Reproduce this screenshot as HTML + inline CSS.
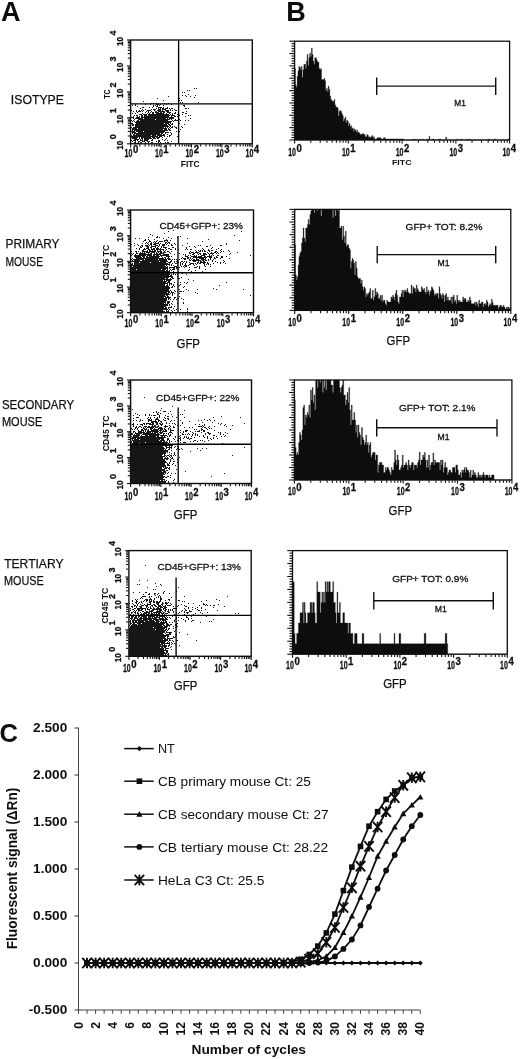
<!DOCTYPE html>
<html><head><meta charset="utf-8"><title>Figure</title>
<style>
html,body{margin:0;padding:0;background:#fff;}
body{width:520px;height:1059px;overflow:hidden;font-family:"Liberation Sans",sans-serif;}
svg{display:block;}
text{font-family:"Liberation Sans",sans-serif;}
</style></head><body>
<svg width="520" height="1059" viewBox="0 0 520 1059">
<defs><filter id="b" x="0" y="0" width="520" height="1059" filterUnits="userSpaceOnUse"><feGaussianBlur stdDeviation="0.35"/></filter></defs>
<rect x="0" y="0" width="520" height="1059" fill="#ffffff"/>
<g filter="url(#b)">
<path d="M194 88h1M196 88h1M187 90h1M189 90h1M182 92h1M184 92h1M188 94h1M182 95h1M185 95h1M195 95h1M168 96h1M186 96h1M190 96h1M194 97h1M157 98h1M179 98h1M178 99h1M163 100h1M178 100h2M181 100h1M143 101h1M180 102h1M182 102h1M198 102h1M151 103h1M153 103h1M156 103h1M164 103h1M168 103h1M135 104h1M145 104h1M150 104h1M156 104h3M160 104h1M166 104h1M171 104h1M132 105h1M135 105h1M153 105h1M155 105h1M157 105h1M159 105h1M163 105h1M183 105h2M137 106h1M153 106h1M156 106h2M184 106h1M142 107h2M149 107h1M152 107h1M158 107h4M163 107h1M167 107h1M140 108h1M156 108h1M158 108h1M160 108h1M162 108h2M165 108h3M169 108h1M171 108h2M185 108h2M188 108h1M142 109h1M145 109h1M151 109h1M153 109h3M158 109h3M162 109h4M170 109h1M174 109h1M131 110h1M136 110h1M139 110h1M141 110h1M143 110h1M147 110h4M154 110h1M157 110h4M162 110h1M165 110h4M170 110h1M172 110h1M175 110h2M133 111h1M136 111h1M138 111h3M142 111h1M146 111h1M148 111h1M151 111h1M155 111h2M158 111h7M166 111h3M186 111h1M137 112h1M145 112h1M148 112h1M150 112h1M152 112h2M155 112h4M160 112h2M163 112h2M167 112h4M175 112h1M182 112h2M132 113h1M135 113h1M142 113h1M147 113h1M149 113h1M152 113h2M156 113h8M166 113h1M169 113h1M172 113h1M174 113h2M185 113h2M139 114h3M143 114h4M148 114h21M170 114h1M172 114h1M177 114h1M182 114h1M134 115h1M136 115h2M141 115h2M144 115h3M148 115h22M171 115h4M179 115h1M188 115h1M190 115h1M133 116h1M137 116h1M139 116h1M141 116h2M144 116h25M171 116h1M174 116h2M177 116h1M185 116h1M131 117h3M136 117h4M141 117h33M133 118h1M135 118h8M144 118h22M167 118h1M169 118h5M178 118h1M190 118h1M134 119h1M138 119h17M156 119h14M171 119h1M175 119h1M178 119h2M131 120h1M133 120h1M137 120h2M140 120h28M172 120h1M174 120h4M180 120h1M185 120h1M188 120h1M132 121h1M134 121h1M136 121h36M173 121h1M135 122h36M131 123h2M136 123h28M165 123h4M170 123h1M172 123h1M179 123h1M132 124h2M135 124h32M168 124h2M171 124h2M184 124h1M132 125h2M135 125h33M169 125h2M135 126h34M170 126h1M172 126h1M174 126h1M181 126h1M131 127h1M133 127h31M165 127h1M167 127h1M169 127h1M171 127h2M175 127h2M182 127h1M132 128h5M138 128h29M168 128h1M170 128h1M176 128h1M132 129h31M164 129h3M168 129h2M180 129h1M132 130h1M134 130h34M169 130h2M131 131h4M136 131h7M144 131h21M176 131h1M179 131h1M132 132h4M138 132h26M165 132h4M170 132h1M132 133h1M134 133h26M161 133h2M165 133h1M171 133h1M133 134h2M136 134h26M163 134h2M167 134h1M171 134h1M131 135h1M133 135h18M152 135h4M157 135h8M169 135h2M131 136h27M159 136h3M164 136h1M167 136h1M169 136h1M177 136h1M131 137h7M139 137h1M141 137h10M152 137h3M156 137h4M162 137h1M132 138h5M139 138h1M141 138h2M144 138h8M153 138h3M157 138h2M166 138h1M134 139h5M140 139h1M142 139h1M144 139h5M152 139h1M162 139h1M165 139h1M131 140h1M133 140h3M137 140h1M140 140h3M144 140h4M151 140h2M158 140h2M164 140h1M167 140h1M132 141h1M135 141h1M138 141h2M142 141h3M147 141h3M156 141h1M158 141h2M171 141h1M134 142h2M138 142h1M140 142h2M145 142h1M148 142h1M151 142h2M158 142h1M160 142h1M165 142h1M167 142h2M132 143h1M135 143h4M144 143h1M163 143h1" stroke="#151515" stroke-width="1" fill="none" transform="translate(0,0.5)" shape-rendering="crispEdges"/>
<rect x="130.6" y="40" width="121.70" height="103.80" fill="none" stroke="#111" stroke-width="1.4"/>
<line x1="130.60" y1="103.80" x2="252.30" y2="103.80" stroke="#000" stroke-width="1.35"/>
<line x1="178.60" y1="40.00" x2="178.60" y2="143.80" stroke="#000" stroke-width="1.35"/>
<line x1="130.60" y1="144.30" x2="130.60" y2="147.40" stroke="#111" stroke-width="1.1"/>
<line x1="139.76" y1="144.30" x2="139.76" y2="146.60" stroke="#111" stroke-width="1.1"/>
<line x1="145.12" y1="144.30" x2="145.12" y2="146.60" stroke="#111" stroke-width="1.1"/>
<line x1="148.92" y1="144.30" x2="148.92" y2="146.60" stroke="#111" stroke-width="1.1"/>
<line x1="151.87" y1="144.30" x2="151.87" y2="146.60" stroke="#111" stroke-width="1.1"/>
<line x1="154.28" y1="144.30" x2="154.28" y2="146.60" stroke="#111" stroke-width="1.1"/>
<line x1="156.31" y1="144.30" x2="156.31" y2="146.60" stroke="#111" stroke-width="1.1"/>
<line x1="158.08" y1="144.30" x2="158.08" y2="146.60" stroke="#111" stroke-width="1.1"/>
<line x1="159.63" y1="144.30" x2="159.63" y2="146.60" stroke="#111" stroke-width="1.1"/>
<line x1="161.03" y1="144.30" x2="161.03" y2="147.40" stroke="#111" stroke-width="1.1"/>
<line x1="170.18" y1="144.30" x2="170.18" y2="146.60" stroke="#111" stroke-width="1.1"/>
<line x1="175.54" y1="144.30" x2="175.54" y2="146.60" stroke="#111" stroke-width="1.1"/>
<line x1="179.34" y1="144.30" x2="179.34" y2="146.60" stroke="#111" stroke-width="1.1"/>
<line x1="182.29" y1="144.30" x2="182.29" y2="146.60" stroke="#111" stroke-width="1.1"/>
<line x1="184.70" y1="144.30" x2="184.70" y2="146.60" stroke="#111" stroke-width="1.1"/>
<line x1="186.74" y1="144.30" x2="186.74" y2="146.60" stroke="#111" stroke-width="1.1"/>
<line x1="188.50" y1="144.30" x2="188.50" y2="146.60" stroke="#111" stroke-width="1.1"/>
<line x1="190.06" y1="144.30" x2="190.06" y2="146.60" stroke="#111" stroke-width="1.1"/>
<line x1="191.45" y1="144.30" x2="191.45" y2="147.40" stroke="#111" stroke-width="1.1"/>
<line x1="200.61" y1="144.30" x2="200.61" y2="146.60" stroke="#111" stroke-width="1.1"/>
<line x1="205.97" y1="144.30" x2="205.97" y2="146.60" stroke="#111" stroke-width="1.1"/>
<line x1="209.77" y1="144.30" x2="209.77" y2="146.60" stroke="#111" stroke-width="1.1"/>
<line x1="212.72" y1="144.30" x2="212.72" y2="146.60" stroke="#111" stroke-width="1.1"/>
<line x1="215.13" y1="144.30" x2="215.13" y2="146.60" stroke="#111" stroke-width="1.1"/>
<line x1="217.16" y1="144.30" x2="217.16" y2="146.60" stroke="#111" stroke-width="1.1"/>
<line x1="218.93" y1="144.30" x2="218.93" y2="146.60" stroke="#111" stroke-width="1.1"/>
<line x1="220.48" y1="144.30" x2="220.48" y2="146.60" stroke="#111" stroke-width="1.1"/>
<line x1="221.88" y1="144.30" x2="221.88" y2="147.40" stroke="#111" stroke-width="1.1"/>
<line x1="231.03" y1="144.30" x2="231.03" y2="146.60" stroke="#111" stroke-width="1.1"/>
<line x1="236.39" y1="144.30" x2="236.39" y2="146.60" stroke="#111" stroke-width="1.1"/>
<line x1="240.19" y1="144.30" x2="240.19" y2="146.60" stroke="#111" stroke-width="1.1"/>
<line x1="243.14" y1="144.30" x2="243.14" y2="146.60" stroke="#111" stroke-width="1.1"/>
<line x1="245.55" y1="144.30" x2="245.55" y2="146.60" stroke="#111" stroke-width="1.1"/>
<line x1="247.59" y1="144.30" x2="247.59" y2="146.60" stroke="#111" stroke-width="1.1"/>
<line x1="249.35" y1="144.30" x2="249.35" y2="146.60" stroke="#111" stroke-width="1.1"/>
<line x1="250.91" y1="144.30" x2="250.91" y2="146.60" stroke="#111" stroke-width="1.1"/>
<line x1="252.30" y1="144.30" x2="252.30" y2="147.40" stroke="#111" stroke-width="1.1"/>
<line x1="127.00" y1="143.80" x2="130.10" y2="143.80" stroke="#111" stroke-width="1.1"/>
<line x1="127.80" y1="135.99" x2="130.10" y2="135.99" stroke="#111" stroke-width="1.1"/>
<line x1="127.80" y1="131.42" x2="130.10" y2="131.42" stroke="#111" stroke-width="1.1"/>
<line x1="127.80" y1="128.18" x2="130.10" y2="128.18" stroke="#111" stroke-width="1.1"/>
<line x1="127.80" y1="125.66" x2="130.10" y2="125.66" stroke="#111" stroke-width="1.1"/>
<line x1="127.80" y1="123.61" x2="130.10" y2="123.61" stroke="#111" stroke-width="1.1"/>
<line x1="127.80" y1="121.87" x2="130.10" y2="121.87" stroke="#111" stroke-width="1.1"/>
<line x1="127.80" y1="120.36" x2="130.10" y2="120.36" stroke="#111" stroke-width="1.1"/>
<line x1="127.80" y1="119.04" x2="130.10" y2="119.04" stroke="#111" stroke-width="1.1"/>
<line x1="127.00" y1="117.85" x2="130.10" y2="117.85" stroke="#111" stroke-width="1.1"/>
<line x1="127.80" y1="110.04" x2="130.10" y2="110.04" stroke="#111" stroke-width="1.1"/>
<line x1="127.80" y1="105.47" x2="130.10" y2="105.47" stroke="#111" stroke-width="1.1"/>
<line x1="127.80" y1="102.23" x2="130.10" y2="102.23" stroke="#111" stroke-width="1.1"/>
<line x1="127.80" y1="99.71" x2="130.10" y2="99.71" stroke="#111" stroke-width="1.1"/>
<line x1="127.80" y1="97.66" x2="130.10" y2="97.66" stroke="#111" stroke-width="1.1"/>
<line x1="127.80" y1="95.92" x2="130.10" y2="95.92" stroke="#111" stroke-width="1.1"/>
<line x1="127.80" y1="94.41" x2="130.10" y2="94.41" stroke="#111" stroke-width="1.1"/>
<line x1="127.80" y1="93.09" x2="130.10" y2="93.09" stroke="#111" stroke-width="1.1"/>
<line x1="127.00" y1="91.90" x2="130.10" y2="91.90" stroke="#111" stroke-width="1.1"/>
<line x1="127.80" y1="84.09" x2="130.10" y2="84.09" stroke="#111" stroke-width="1.1"/>
<line x1="127.80" y1="79.52" x2="130.10" y2="79.52" stroke="#111" stroke-width="1.1"/>
<line x1="127.80" y1="76.28" x2="130.10" y2="76.28" stroke="#111" stroke-width="1.1"/>
<line x1="127.80" y1="73.76" x2="130.10" y2="73.76" stroke="#111" stroke-width="1.1"/>
<line x1="127.80" y1="71.71" x2="130.10" y2="71.71" stroke="#111" stroke-width="1.1"/>
<line x1="127.80" y1="69.97" x2="130.10" y2="69.97" stroke="#111" stroke-width="1.1"/>
<line x1="127.80" y1="68.46" x2="130.10" y2="68.46" stroke="#111" stroke-width="1.1"/>
<line x1="127.80" y1="67.14" x2="130.10" y2="67.14" stroke="#111" stroke-width="1.1"/>
<line x1="127.00" y1="65.95" x2="130.10" y2="65.95" stroke="#111" stroke-width="1.1"/>
<line x1="127.80" y1="58.14" x2="130.10" y2="58.14" stroke="#111" stroke-width="1.1"/>
<line x1="127.80" y1="53.57" x2="130.10" y2="53.57" stroke="#111" stroke-width="1.1"/>
<line x1="127.80" y1="50.33" x2="130.10" y2="50.33" stroke="#111" stroke-width="1.1"/>
<line x1="127.80" y1="47.81" x2="130.10" y2="47.81" stroke="#111" stroke-width="1.1"/>
<line x1="127.80" y1="45.76" x2="130.10" y2="45.76" stroke="#111" stroke-width="1.1"/>
<line x1="127.80" y1="44.02" x2="130.10" y2="44.02" stroke="#111" stroke-width="1.1"/>
<line x1="127.80" y1="42.51" x2="130.10" y2="42.51" stroke="#111" stroke-width="1.1"/>
<line x1="127.80" y1="41.19" x2="130.10" y2="41.19" stroke="#111" stroke-width="1.1"/>
<line x1="127.00" y1="40.00" x2="130.10" y2="40.00" stroke="#111" stroke-width="1.1"/>
<text x="124.60" y="157.40" font-size="10.6" font-weight="bold" text-anchor="start" fill="#111" textLength="7.80" lengthAdjust="spacingAndGlyphs" stroke="#111" stroke-width="0.3">10</text>
<text x="132.90" y="153.40" font-size="10.0" font-weight="bold" text-anchor="start" fill="#111" textLength="5.30" lengthAdjust="spacingAndGlyphs" stroke="#111" stroke-width="0.3">0</text>
<text x="155.03" y="157.40" font-size="10.6" font-weight="bold" text-anchor="start" fill="#111" textLength="7.80" lengthAdjust="spacingAndGlyphs" stroke="#111" stroke-width="0.3">10</text>
<text x="163.33" y="153.40" font-size="10.0" font-weight="bold" text-anchor="start" fill="#111" textLength="5.30" lengthAdjust="spacingAndGlyphs" stroke="#111" stroke-width="0.3">1</text>
<text x="185.45" y="157.40" font-size="10.6" font-weight="bold" text-anchor="start" fill="#111" textLength="7.80" lengthAdjust="spacingAndGlyphs" stroke="#111" stroke-width="0.3">10</text>
<text x="193.75" y="153.40" font-size="10.0" font-weight="bold" text-anchor="start" fill="#111" textLength="5.30" lengthAdjust="spacingAndGlyphs" stroke="#111" stroke-width="0.3">2</text>
<text x="215.88" y="157.40" font-size="10.6" font-weight="bold" text-anchor="start" fill="#111" textLength="7.80" lengthAdjust="spacingAndGlyphs" stroke="#111" stroke-width="0.3">10</text>
<text x="224.18" y="153.40" font-size="10.0" font-weight="bold" text-anchor="start" fill="#111" textLength="5.30" lengthAdjust="spacingAndGlyphs" stroke="#111" stroke-width="0.3">3</text>
<text x="245.50" y="157.40" font-size="10.6" font-weight="bold" text-anchor="start" fill="#111" textLength="7.80" lengthAdjust="spacingAndGlyphs" stroke="#111" stroke-width="0.3">10</text>
<text x="253.80" y="153.40" font-size="10.0" font-weight="bold" text-anchor="start" fill="#111" textLength="5.30" lengthAdjust="spacingAndGlyphs" stroke="#111" stroke-width="0.3">4</text>
<text x="123.10" y="149.80" transform="rotate(-90 123.10 149.80)" font-size="9.8" font-weight="bold" text-anchor="start" fill="#111" textLength="9.20" lengthAdjust="spacingAndGlyphs" stroke="#111" stroke-width="0.3">10</text>
<text x="116.40" y="139.30" transform="rotate(-90 116.40 139.30)" font-size="9.4" font-weight="bold" text-anchor="start" fill="#111" textLength="5.00" lengthAdjust="spacingAndGlyphs" stroke="#111" stroke-width="0.3">0</text>
<text x="123.10" y="123.85" transform="rotate(-90 123.10 123.85)" font-size="9.8" font-weight="bold" text-anchor="start" fill="#111" textLength="9.20" lengthAdjust="spacingAndGlyphs" stroke="#111" stroke-width="0.3">10</text>
<text x="116.40" y="113.35" transform="rotate(-90 116.40 113.35)" font-size="9.4" font-weight="bold" text-anchor="start" fill="#111" textLength="5.00" lengthAdjust="spacingAndGlyphs" stroke="#111" stroke-width="0.3">1</text>
<text x="123.10" y="97.90" transform="rotate(-90 123.10 97.90)" font-size="9.8" font-weight="bold" text-anchor="start" fill="#111" textLength="9.20" lengthAdjust="spacingAndGlyphs" stroke="#111" stroke-width="0.3">10</text>
<text x="116.40" y="87.40" transform="rotate(-90 116.40 87.40)" font-size="9.4" font-weight="bold" text-anchor="start" fill="#111" textLength="5.00" lengthAdjust="spacingAndGlyphs" stroke="#111" stroke-width="0.3">2</text>
<text x="123.10" y="71.95" transform="rotate(-90 123.10 71.95)" font-size="9.8" font-weight="bold" text-anchor="start" fill="#111" textLength="9.20" lengthAdjust="spacingAndGlyphs" stroke="#111" stroke-width="0.3">10</text>
<text x="116.40" y="61.45" transform="rotate(-90 116.40 61.45)" font-size="9.4" font-weight="bold" text-anchor="start" fill="#111" textLength="5.00" lengthAdjust="spacingAndGlyphs" stroke="#111" stroke-width="0.3">3</text>
<text x="123.10" y="46.00" transform="rotate(-90 123.10 46.00)" font-size="9.8" font-weight="bold" text-anchor="start" fill="#111" textLength="9.20" lengthAdjust="spacingAndGlyphs" stroke="#111" stroke-width="0.3">10</text>
<text x="116.40" y="35.50" transform="rotate(-90 116.40 35.50)" font-size="9.4" font-weight="bold" text-anchor="start" fill="#111" textLength="5.00" lengthAdjust="spacingAndGlyphs" stroke="#111" stroke-width="0.3">4</text>
<path d="M173 230h1M168 231h1M241 231h1M164 233h1M150 234h1M152 235h1M234 235h1M157 236h1M180 236h1M148 237h1M156 237h2M159 237h1M168 237h1M177 237h1M135 238h1M139 238h1M163 238h1M171 238h1M187 238h1M145 239h1M148 239h1M154 239h1M166 239h1M208 239h1M144 240h2M149 240h1M157 240h1M164 240h4M170 240h1M239 240h1M143 241h1M149 241h2M154 241h1M156 241h1M159 241h4M164 241h1M167 241h1M202 241h1M146 242h1M148 242h1M151 242h1M153 242h1M155 242h1M158 242h1M165 242h2M168 242h2M134 243h1M142 243h1M145 243h1M147 243h1M150 243h2M154 243h5M160 243h1M165 243h1M167 243h1M169 243h1M174 243h1M187 243h1M226 243h1M131 244h1M137 244h1M148 244h1M150 244h2M153 244h3M159 244h1M162 244h3M166 244h1M171 244h1M175 244h1M226 244h1M134 245h1M138 245h1M141 245h2M145 245h3M149 245h1M151 245h1M155 245h3M159 245h1M162 245h3M168 245h1M171 245h2M182 245h1M198 245h1M200 245h1M210 245h1M220 245h2M140 246h1M142 246h1M146 246h3M151 246h5M158 246h1M161 246h1M163 246h1M189 246h1M194 246h1M206 246h2M140 247h2M147 247h2M150 247h2M155 247h1M157 247h1M161 247h1M163 247h4M172 247h2M186 247h1M195 247h1M212 247h1M136 248h1M139 248h1M144 248h1M146 248h3M151 248h1M153 248h2M156 248h3M160 248h1M165 248h1M168 248h2M175 248h1M186 248h1M202 248h1M211 248h1M218 248h1M139 249h1M143 249h3M148 249h2M151 249h4M156 249h8M166 249h1M170 249h2M175 249h1M178 249h1M185 249h1M187 249h1M190 249h2M203 249h1M208 249h1M216 249h1M221 249h1M142 250h2M147 250h1M149 250h2M152 250h1M154 250h2M157 250h1M160 250h1M163 250h1M165 250h1M195 250h1M198 250h1M200 250h1M202 250h1M204 250h1M208 250h2M211 250h2M220 250h1M228 250h1M131 251h1M135 251h2M138 251h1M142 251h6M149 251h7M157 251h5M164 251h1M167 251h2M171 251h1M190 251h1M196 251h1M199 251h2M202 251h1M204 251h2M209 251h1M215 251h2M221 251h1M223 251h1M229 251h1M136 252h1M140 252h1M142 252h1M144 252h1M146 252h4M151 252h4M156 252h1M158 252h1M160 252h2M163 252h3M169 252h1M189 252h1M191 252h3M195 252h4M207 252h1M211 252h1M214 252h2M217 252h1M220 252h1M237 252h1M131 253h1M133 253h1M136 253h2M139 253h7M148 253h1M150 253h2M154 253h1M156 253h2M159 253h5M170 253h1M179 253h1M189 253h2M193 253h2M197 253h1M199 253h2M203 253h3M208 253h1M210 253h4M216 253h1M218 253h1M230 253h1M132 254h1M135 254h1M139 254h13M153 254h8M163 254h6M174 254h1M183 254h1M185 254h1M192 254h2M198 254h1M200 254h1M203 254h4M209 254h1M212 254h1M229 254h1M131 255h1M134 255h12M147 255h5M153 255h2M156 255h3M160 255h9M185 255h1M188 255h1M190 255h1M194 255h1M196 255h1M201 255h4M209 255h1M211 255h1M213 255h1M217 255h2M250 255h1M134 256h7M142 256h3M146 256h2M149 256h11M161 256h1M166 256h4M171 256h1M185 256h3M191 256h6M198 256h4M204 256h2M207 256h5M216 256h1M221 256h2M226 256h1M135 257h7M143 257h2M146 257h13M162 257h1M164 257h2M168 257h1M182 257h1M187 257h2M190 257h1M193 257h14M209 257h3M214 257h1M216 257h2M221 257h2M132 258h1M136 258h28M165 258h1M167 258h3M181 258h1M183 258h3M187 258h2M190 258h1M192 258h1M196 258h1M199 258h5M205 258h1M210 258h1M214 258h2M220 258h1M229 258h1M131 259h1M133 259h11M145 259h13M159 259h8M168 259h3M172 259h1M174 259h1M176 259h1M179 259h1M184 259h2M189 259h1M191 259h1M193 259h2M196 259h3M201 259h5M208 259h1M210 259h1M213 259h1M132 260h1M134 260h6M142 260h25M171 260h1M177 260h1M189 260h2M192 260h9M202 260h2M205 260h2M208 260h1M212 260h1M223 260h1M131 261h28M160 261h8M170 261h2M174 261h1M176 261h2M181 261h2M184 261h1M186 261h1M193 261h3M198 261h1M200 261h2M203 261h2M212 261h1M215 261h1M224 261h1M134 262h5M140 262h10M151 262h15M168 262h3M174 262h1M177 262h2M180 262h1M183 262h1M186 262h1M189 262h1M197 262h2M200 262h6M207 262h1M217 262h1M220 262h1M223 262h1M132 263h1M134 263h34M169 263h1M172 263h1M175 263h2M180 263h1M182 263h1M185 263h1M190 263h4M195 263h1M197 263h1M199 263h2M203 263h2M207 263h2M213 263h1M220 263h1M225 263h1M131 264h2M134 264h36M171 264h1M180 264h1M182 264h1M185 264h1M189 264h2M193 264h1M196 264h1M204 264h1M206 264h1M208 264h1M210 264h1M131 265h34M166 265h1M169 265h1M171 265h1M173 265h1M177 265h1M180 265h1M184 265h3M188 265h1M194 265h1M204 265h1M131 266h1M133 266h33M167 266h1M174 266h3M181 266h1M183 266h1M185 266h2M197 266h1M199 266h1M205 266h1M210 266h1M131 267h37M169 267h6M176 267h2M179 267h1M184 267h1M189 267h1M194 267h3M199 267h1M131 268h37M169 268h1M173 268h2M176 268h1M178 268h1M199 268h1M131 269h5M137 269h24M162 269h4M167 269h1M170 269h1M172 269h3M177 269h1M189 269h1M205 269h1M131 270h34M166 270h2M169 270h1M171 270h1M188 270h1M195 270h1M131 271h39M173 271h1M191 271h1M202 271h1M131 272h37M169 272h1M172 272h1M176 272h1M179 272h1M131 273h39M173 273h1M182 273h1M131 274h39M171 274h1M173 274h1M175 274h1M177 274h1M186 274h1M131 275h38M170 275h2M131 276h42M177 276h1M131 277h38M171 277h2M181 277h1M131 278h34M166 278h2M170 278h1M172 278h2M178 278h2M131 279h41M188 279h1M131 280h32M164 280h1M166 280h5M193 280h1M131 281h36M168 281h2M131 282h35M167 282h3M174 282h1M180 282h1M184 282h1M187 282h1M226 282h1M131 283h37M169 283h3M186 283h1M131 284h34M167 284h1M169 284h1M171 284h1M173 284h1M177 284h1M180 284h1M131 285h34M166 285h2M169 285h1M173 285h1M179 285h1M219 285h1M131 286h38M172 286h1M174 286h1M178 286h1M184 286h1M131 287h39M171 287h2M183 287h1M131 288h39M213 288h1M131 289h38M179 289h1M186 289h1M197 289h1M216 289h1M243 289h1M131 290h38M170 290h1M174 290h1M188 290h1M131 291h39M171 291h1M175 291h1M179 291h3M183 291h1M131 292h36M168 292h2M171 292h3M195 292h1M131 293h38M170 293h1M172 293h1M174 293h1M179 293h1M197 293h1M131 294h39M172 294h1M131 295h34M166 295h2M172 295h1M250 295h1M131 296h35M167 296h2M179 296h1M131 297h33M165 297h6M174 297h2M131 298h36M168 298h2M174 298h1M178 298h1M181 298h1M131 299h36M168 299h1M170 299h1M173 299h1M176 299h1M183 299h1M131 300h36M131 301h35M167 301h3M172 301h1M131 302h35M167 302h3M183 302h1M131 303h33M165 303h1M167 303h2M171 303h1M177 303h1M183 303h1M131 304h37M169 304h1M172 304h1M131 305h37M169 305h1M131 306h35M171 306h1M174 306h1M131 307h33M165 307h2M168 307h4M131 308h36M168 308h1M173 308h1M187 308h1M131 309h37M169 309h1M176 309h1M180 309h1M187 309h1M131 310h32M166 310h1M168 310h1M171 310h1M174 310h1M131 311h34M166 311h3M172 311h1M187 311h1M131 312h35M168 312h2M172 312h1" stroke="#151515" stroke-width="1" fill="none" transform="translate(0,0.5)" shape-rendering="crispEdges"/>
<rect x="130.6" y="210" width="122.90" height="102.70" fill="none" stroke="#111" stroke-width="1.4"/>
<line x1="130.60" y1="272.70" x2="253.50" y2="272.70" stroke="#000" stroke-width="1.35"/>
<line x1="178.00" y1="236.00" x2="178.00" y2="312.70" stroke="#000" stroke-width="1.35"/>
<line x1="130.60" y1="313.20" x2="130.60" y2="316.30" stroke="#111" stroke-width="1.1"/>
<line x1="139.85" y1="313.20" x2="139.85" y2="315.50" stroke="#111" stroke-width="1.1"/>
<line x1="145.26" y1="313.20" x2="145.26" y2="315.50" stroke="#111" stroke-width="1.1"/>
<line x1="149.10" y1="313.20" x2="149.10" y2="315.50" stroke="#111" stroke-width="1.1"/>
<line x1="152.08" y1="313.20" x2="152.08" y2="315.50" stroke="#111" stroke-width="1.1"/>
<line x1="154.51" y1="313.20" x2="154.51" y2="315.50" stroke="#111" stroke-width="1.1"/>
<line x1="156.57" y1="313.20" x2="156.57" y2="315.50" stroke="#111" stroke-width="1.1"/>
<line x1="158.35" y1="313.20" x2="158.35" y2="315.50" stroke="#111" stroke-width="1.1"/>
<line x1="159.92" y1="313.20" x2="159.92" y2="315.50" stroke="#111" stroke-width="1.1"/>
<line x1="161.32" y1="313.20" x2="161.32" y2="316.30" stroke="#111" stroke-width="1.1"/>
<line x1="170.57" y1="313.20" x2="170.57" y2="315.50" stroke="#111" stroke-width="1.1"/>
<line x1="175.98" y1="313.20" x2="175.98" y2="315.50" stroke="#111" stroke-width="1.1"/>
<line x1="179.82" y1="313.20" x2="179.82" y2="315.50" stroke="#111" stroke-width="1.1"/>
<line x1="182.80" y1="313.20" x2="182.80" y2="315.50" stroke="#111" stroke-width="1.1"/>
<line x1="185.23" y1="313.20" x2="185.23" y2="315.50" stroke="#111" stroke-width="1.1"/>
<line x1="187.29" y1="313.20" x2="187.29" y2="315.50" stroke="#111" stroke-width="1.1"/>
<line x1="189.07" y1="313.20" x2="189.07" y2="315.50" stroke="#111" stroke-width="1.1"/>
<line x1="190.64" y1="313.20" x2="190.64" y2="315.50" stroke="#111" stroke-width="1.1"/>
<line x1="192.05" y1="313.20" x2="192.05" y2="316.30" stroke="#111" stroke-width="1.1"/>
<line x1="201.30" y1="313.20" x2="201.30" y2="315.50" stroke="#111" stroke-width="1.1"/>
<line x1="206.71" y1="313.20" x2="206.71" y2="315.50" stroke="#111" stroke-width="1.1"/>
<line x1="210.55" y1="313.20" x2="210.55" y2="315.50" stroke="#111" stroke-width="1.1"/>
<line x1="213.53" y1="313.20" x2="213.53" y2="315.50" stroke="#111" stroke-width="1.1"/>
<line x1="215.96" y1="313.20" x2="215.96" y2="315.50" stroke="#111" stroke-width="1.1"/>
<line x1="218.02" y1="313.20" x2="218.02" y2="315.50" stroke="#111" stroke-width="1.1"/>
<line x1="219.80" y1="313.20" x2="219.80" y2="315.50" stroke="#111" stroke-width="1.1"/>
<line x1="221.37" y1="313.20" x2="221.37" y2="315.50" stroke="#111" stroke-width="1.1"/>
<line x1="222.78" y1="313.20" x2="222.78" y2="316.30" stroke="#111" stroke-width="1.1"/>
<line x1="232.02" y1="313.20" x2="232.02" y2="315.50" stroke="#111" stroke-width="1.1"/>
<line x1="237.43" y1="313.20" x2="237.43" y2="315.50" stroke="#111" stroke-width="1.1"/>
<line x1="241.27" y1="313.20" x2="241.27" y2="315.50" stroke="#111" stroke-width="1.1"/>
<line x1="244.25" y1="313.20" x2="244.25" y2="315.50" stroke="#111" stroke-width="1.1"/>
<line x1="246.68" y1="313.20" x2="246.68" y2="315.50" stroke="#111" stroke-width="1.1"/>
<line x1="248.74" y1="313.20" x2="248.74" y2="315.50" stroke="#111" stroke-width="1.1"/>
<line x1="250.52" y1="313.20" x2="250.52" y2="315.50" stroke="#111" stroke-width="1.1"/>
<line x1="252.09" y1="313.20" x2="252.09" y2="315.50" stroke="#111" stroke-width="1.1"/>
<line x1="253.50" y1="313.20" x2="253.50" y2="316.30" stroke="#111" stroke-width="1.1"/>
<line x1="127.00" y1="312.70" x2="130.10" y2="312.70" stroke="#111" stroke-width="1.1"/>
<line x1="127.80" y1="304.97" x2="130.10" y2="304.97" stroke="#111" stroke-width="1.1"/>
<line x1="127.80" y1="300.45" x2="130.10" y2="300.45" stroke="#111" stroke-width="1.1"/>
<line x1="127.80" y1="297.24" x2="130.10" y2="297.24" stroke="#111" stroke-width="1.1"/>
<line x1="127.80" y1="294.75" x2="130.10" y2="294.75" stroke="#111" stroke-width="1.1"/>
<line x1="127.80" y1="292.72" x2="130.10" y2="292.72" stroke="#111" stroke-width="1.1"/>
<line x1="127.80" y1="291.00" x2="130.10" y2="291.00" stroke="#111" stroke-width="1.1"/>
<line x1="127.80" y1="289.51" x2="130.10" y2="289.51" stroke="#111" stroke-width="1.1"/>
<line x1="127.80" y1="288.20" x2="130.10" y2="288.20" stroke="#111" stroke-width="1.1"/>
<line x1="127.00" y1="287.02" x2="130.10" y2="287.02" stroke="#111" stroke-width="1.1"/>
<line x1="127.80" y1="279.30" x2="130.10" y2="279.30" stroke="#111" stroke-width="1.1"/>
<line x1="127.80" y1="274.77" x2="130.10" y2="274.77" stroke="#111" stroke-width="1.1"/>
<line x1="127.80" y1="271.57" x2="130.10" y2="271.57" stroke="#111" stroke-width="1.1"/>
<line x1="127.80" y1="269.08" x2="130.10" y2="269.08" stroke="#111" stroke-width="1.1"/>
<line x1="127.80" y1="267.05" x2="130.10" y2="267.05" stroke="#111" stroke-width="1.1"/>
<line x1="127.80" y1="265.33" x2="130.10" y2="265.33" stroke="#111" stroke-width="1.1"/>
<line x1="127.80" y1="263.84" x2="130.10" y2="263.84" stroke="#111" stroke-width="1.1"/>
<line x1="127.80" y1="262.52" x2="130.10" y2="262.52" stroke="#111" stroke-width="1.1"/>
<line x1="127.00" y1="261.35" x2="130.10" y2="261.35" stroke="#111" stroke-width="1.1"/>
<line x1="127.80" y1="253.62" x2="130.10" y2="253.62" stroke="#111" stroke-width="1.1"/>
<line x1="127.80" y1="249.10" x2="130.10" y2="249.10" stroke="#111" stroke-width="1.1"/>
<line x1="127.80" y1="245.89" x2="130.10" y2="245.89" stroke="#111" stroke-width="1.1"/>
<line x1="127.80" y1="243.40" x2="130.10" y2="243.40" stroke="#111" stroke-width="1.1"/>
<line x1="127.80" y1="241.37" x2="130.10" y2="241.37" stroke="#111" stroke-width="1.1"/>
<line x1="127.80" y1="239.65" x2="130.10" y2="239.65" stroke="#111" stroke-width="1.1"/>
<line x1="127.80" y1="238.16" x2="130.10" y2="238.16" stroke="#111" stroke-width="1.1"/>
<line x1="127.80" y1="236.85" x2="130.10" y2="236.85" stroke="#111" stroke-width="1.1"/>
<line x1="127.00" y1="235.68" x2="130.10" y2="235.68" stroke="#111" stroke-width="1.1"/>
<line x1="127.80" y1="227.95" x2="130.10" y2="227.95" stroke="#111" stroke-width="1.1"/>
<line x1="127.80" y1="223.42" x2="130.10" y2="223.42" stroke="#111" stroke-width="1.1"/>
<line x1="127.80" y1="220.22" x2="130.10" y2="220.22" stroke="#111" stroke-width="1.1"/>
<line x1="127.80" y1="217.73" x2="130.10" y2="217.73" stroke="#111" stroke-width="1.1"/>
<line x1="127.80" y1="215.70" x2="130.10" y2="215.70" stroke="#111" stroke-width="1.1"/>
<line x1="127.80" y1="213.98" x2="130.10" y2="213.98" stroke="#111" stroke-width="1.1"/>
<line x1="127.80" y1="212.49" x2="130.10" y2="212.49" stroke="#111" stroke-width="1.1"/>
<line x1="127.80" y1="211.17" x2="130.10" y2="211.17" stroke="#111" stroke-width="1.1"/>
<line x1="127.00" y1="210.00" x2="130.10" y2="210.00" stroke="#111" stroke-width="1.1"/>
<text x="124.60" y="327.30" font-size="10.6" font-weight="bold" text-anchor="start" fill="#111" textLength="7.80" lengthAdjust="spacingAndGlyphs" stroke="#111" stroke-width="0.3">10</text>
<text x="132.90" y="323.30" font-size="10.0" font-weight="bold" text-anchor="start" fill="#111" textLength="5.30" lengthAdjust="spacingAndGlyphs" stroke="#111" stroke-width="0.3">0</text>
<text x="155.32" y="327.30" font-size="10.6" font-weight="bold" text-anchor="start" fill="#111" textLength="7.80" lengthAdjust="spacingAndGlyphs" stroke="#111" stroke-width="0.3">10</text>
<text x="163.62" y="323.30" font-size="10.0" font-weight="bold" text-anchor="start" fill="#111" textLength="5.30" lengthAdjust="spacingAndGlyphs" stroke="#111" stroke-width="0.3">1</text>
<text x="186.05" y="327.30" font-size="10.6" font-weight="bold" text-anchor="start" fill="#111" textLength="7.80" lengthAdjust="spacingAndGlyphs" stroke="#111" stroke-width="0.3">10</text>
<text x="194.35" y="323.30" font-size="10.0" font-weight="bold" text-anchor="start" fill="#111" textLength="5.30" lengthAdjust="spacingAndGlyphs" stroke="#111" stroke-width="0.3">2</text>
<text x="216.78" y="327.30" font-size="10.6" font-weight="bold" text-anchor="start" fill="#111" textLength="7.80" lengthAdjust="spacingAndGlyphs" stroke="#111" stroke-width="0.3">10</text>
<text x="225.08" y="323.30" font-size="10.0" font-weight="bold" text-anchor="start" fill="#111" textLength="5.30" lengthAdjust="spacingAndGlyphs" stroke="#111" stroke-width="0.3">3</text>
<text x="246.70" y="327.30" font-size="10.6" font-weight="bold" text-anchor="start" fill="#111" textLength="7.80" lengthAdjust="spacingAndGlyphs" stroke="#111" stroke-width="0.3">10</text>
<text x="255.00" y="323.30" font-size="10.0" font-weight="bold" text-anchor="start" fill="#111" textLength="5.30" lengthAdjust="spacingAndGlyphs" stroke="#111" stroke-width="0.3">4</text>
<text x="123.10" y="318.70" transform="rotate(-90 123.10 318.70)" font-size="9.8" font-weight="bold" text-anchor="start" fill="#111" textLength="9.20" lengthAdjust="spacingAndGlyphs" stroke="#111" stroke-width="0.3">10</text>
<text x="116.40" y="308.20" transform="rotate(-90 116.40 308.20)" font-size="9.4" font-weight="bold" text-anchor="start" fill="#111" textLength="5.00" lengthAdjust="spacingAndGlyphs" stroke="#111" stroke-width="0.3">0</text>
<text x="123.10" y="293.02" transform="rotate(-90 123.10 293.02)" font-size="9.8" font-weight="bold" text-anchor="start" fill="#111" textLength="9.20" lengthAdjust="spacingAndGlyphs" stroke="#111" stroke-width="0.3">10</text>
<text x="116.40" y="282.52" transform="rotate(-90 116.40 282.52)" font-size="9.4" font-weight="bold" text-anchor="start" fill="#111" textLength="5.00" lengthAdjust="spacingAndGlyphs" stroke="#111" stroke-width="0.3">1</text>
<text x="123.10" y="267.35" transform="rotate(-90 123.10 267.35)" font-size="9.8" font-weight="bold" text-anchor="start" fill="#111" textLength="9.20" lengthAdjust="spacingAndGlyphs" stroke="#111" stroke-width="0.3">10</text>
<text x="116.40" y="256.85" transform="rotate(-90 116.40 256.85)" font-size="9.4" font-weight="bold" text-anchor="start" fill="#111" textLength="5.00" lengthAdjust="spacingAndGlyphs" stroke="#111" stroke-width="0.3">2</text>
<text x="123.10" y="241.68" transform="rotate(-90 123.10 241.68)" font-size="9.8" font-weight="bold" text-anchor="start" fill="#111" textLength="9.20" lengthAdjust="spacingAndGlyphs" stroke="#111" stroke-width="0.3">10</text>
<text x="116.40" y="231.18" transform="rotate(-90 116.40 231.18)" font-size="9.4" font-weight="bold" text-anchor="start" fill="#111" textLength="5.00" lengthAdjust="spacingAndGlyphs" stroke="#111" stroke-width="0.3">3</text>
<text x="123.10" y="216.00" transform="rotate(-90 123.10 216.00)" font-size="9.8" font-weight="bold" text-anchor="start" fill="#111" textLength="9.20" lengthAdjust="spacingAndGlyphs" stroke="#111" stroke-width="0.3">10</text>
<text x="116.40" y="205.50" transform="rotate(-90 116.40 205.50)" font-size="9.4" font-weight="bold" text-anchor="start" fill="#111" textLength="5.00" lengthAdjust="spacingAndGlyphs" stroke="#111" stroke-width="0.3">4</text>
<path d="M144 397h1M172 406h1M161 408h1M132 409h1M160 410h1M184 410h1M156 411h1M163 411h3M170 411h1M153 412h1M156 412h1M158 412h1M135 413h1M157 413h1M160 413h1M168 413h1M137 414h1M145 414h1M149 414h1M157 414h2M171 414h1M180 414h1M182 414h1M133 415h1M139 415h1M145 415h1M149 415h1M151 415h1M153 415h3M159 415h1M165 415h1M178 415h1M159 416h1M167 416h2M172 416h1M221 416h1M136 417h3M148 417h1M150 417h1M154 417h1M157 417h1M159 417h1M164 417h1M176 417h1M184 417h1M213 417h1M240 417h1M133 418h1M147 418h1M150 418h1M156 418h2M165 418h1M167 418h2M140 419h1M148 419h2M151 419h1M155 419h4M163 419h1M168 419h1M204 419h1M209 419h1M133 420h1M136 420h1M140 420h1M142 420h1M148 420h4M155 420h1M158 420h2M164 420h2M171 420h1M174 420h1M180 420h1M198 420h1M201 420h1M207 420h1M210 420h1M214 420h1M139 421h1M148 421h1M151 421h6M158 421h1M160 421h2M170 421h1M189 421h1M151 422h3M155 422h3M161 422h1M166 422h1M182 422h1M202 422h1M212 422h1M133 423h1M143 423h2M146 423h5M152 423h2M156 423h2M159 423h2M162 423h1M166 423h1M169 423h1M172 423h1M174 423h1M182 423h1M218 423h1M221 423h1M244 423h1M132 424h2M137 424h1M140 424h3M144 424h1M146 424h1M149 424h5M156 424h2M160 424h3M175 424h1M195 424h1M199 424h1M204 424h1M220 424h1M225 424h1M133 425h1M142 425h1M152 425h1M154 425h2M158 425h1M161 425h1M165 425h1M169 425h1M177 425h1M180 425h1M202 425h1M204 425h1M224 425h1M232 425h1M133 426h1M136 426h1M139 426h2M144 426h3M148 426h2M151 426h5M157 426h2M164 426h4M170 426h1M173 426h1M198 426h4M203 426h1M209 426h1M214 426h1M226 426h1M135 427h2M138 427h1M141 427h1M143 427h1M145 427h1M147 427h7M155 427h3M159 427h3M165 427h1M169 427h1M173 427h2M184 427h1M189 427h1M192 427h1M202 427h1M204 427h2M208 427h1M131 428h1M135 428h1M137 428h1M143 428h2M146 428h1M150 428h3M154 428h1M158 428h5M164 428h1M168 428h1M170 428h1M201 428h1M206 428h1M209 428h1M211 428h1M132 429h1M134 429h1M137 429h1M141 429h2M144 429h3M148 429h1M150 429h2M153 429h6M160 429h3M164 429h2M168 429h1M170 429h1M194 429h1M196 429h1M201 429h2M207 429h1M230 429h1M138 430h1M141 430h3M145 430h1M147 430h2M151 430h7M159 430h3M163 430h1M165 430h2M170 430h4M180 430h1M185 430h3M199 430h1M201 430h1M203 430h2M214 430h1M133 431h2M138 431h4M143 431h1M145 431h1M147 431h12M160 431h1M162 431h5M170 431h1M183 431h1M185 431h2M190 431h1M195 431h1M197 431h3M203 431h2M133 432h1M135 432h1M138 432h7M146 432h5M152 432h1M154 432h4M159 432h4M169 432h3M180 432h1M183 432h1M192 432h1M201 432h1M207 432h2M218 432h1M220 432h1M225 432h1M131 433h2M135 433h7M143 433h13M157 433h2M160 433h2M163 433h2M166 433h1M168 433h1M172 433h1M182 433h1M188 433h1M193 433h1M195 433h1M205 433h1M208 433h3M220 433h1M227 433h1M131 434h2M134 434h1M136 434h4M142 434h18M163 434h1M168 434h1M170 434h1M182 434h2M185 434h1M187 434h1M189 434h1M192 434h1M195 434h1M197 434h1M205 434h1M209 434h1M220 434h1M223 434h1M133 435h7M141 435h1M145 435h3M149 435h10M160 435h7M169 435h2M180 435h1M192 435h1M195 435h1M197 435h1M203 435h1M213 435h2M225 435h1M131 436h1M133 436h6M140 436h16M157 436h2M161 436h2M164 436h1M167 436h1M169 436h1M175 436h1M178 436h2M184 436h1M186 436h1M191 436h1M199 436h1M203 436h1M207 436h1M216 436h1M221 436h1M224 436h1M132 437h34M175 437h1M180 437h1M184 437h1M186 437h1M188 437h1M194 437h1M204 437h1M207 437h1M213 437h1M131 438h5M137 438h27M167 438h2M173 438h1M179 438h2M183 438h1M187 438h2M190 438h2M207 438h1M210 438h1M213 438h1M217 438h1M132 439h1M134 439h5M140 439h20M161 439h3M167 439h2M174 439h1M180 439h1M189 439h1M211 439h1M132 440h27M160 440h5M167 440h1M169 440h1M177 440h2M180 440h1M194 440h2M200 440h1M202 440h1M208 440h1M131 441h1M133 441h29M163 441h2M166 441h1M169 441h1M171 441h1M175 441h1M190 441h1M193 441h1M197 441h1M204 441h1M131 442h1M133 442h12M146 442h22M169 442h1M180 442h1M183 442h3M132 443h7M140 443h27M168 443h1M222 443h1M131 444h34M166 444h3M173 444h1M183 444h1M190 444h1M131 445h42M131 446h32M165 446h2M169 446h1M171 446h1M175 446h1M177 446h1M131 447h33M166 447h6M174 447h1M244 447h1M131 448h34M166 448h1M169 448h1M171 448h1M177 448h1M181 448h1M197 448h1M202 448h1M206 448h1M131 449h33M165 449h1M168 449h2M176 449h1M179 449h1M182 449h1M131 450h37M171 450h1M200 450h1M131 451h37M190 451h1M131 452h35M167 452h1M169 452h1M174 452h1M131 453h35M171 453h1M174 453h1M131 454h32M164 454h1M169 454h1M174 454h1M131 455h31M164 455h2M167 455h2M170 455h2M173 455h1M175 455h1M232 455h1M131 456h34M166 456h1M169 456h1M171 456h1M131 457h32M165 457h1M167 457h1M170 457h1M172 457h1M179 457h1M131 458h32M164 458h5M171 458h2M131 459h34M166 459h2M170 459h1M173 459h1M177 459h1M131 460h34M170 460h1M131 461h35M170 461h1M173 461h2M131 462h36M169 462h1M177 462h1M131 463h34M167 463h1M169 463h1M173 463h1M131 464h34M167 464h2M172 464h1M131 465h35M167 465h3M175 465h1M131 466h35M131 467h31M163 467h1M165 467h3M169 467h1M131 468h31M164 468h3M168 468h2M131 469h34M169 469h1M176 469h1M131 470h34M166 470h2M131 471h31M163 471h3M185 471h1M131 472h35M168 472h1M131 473h33M165 473h1M167 473h1M171 473h1M175 473h1M224 473h1M131 474h34M131 475h32M170 475h1M131 476h34M167 476h2M211 476h1M131 477h33M165 477h2M170 477h1M131 478h32M131 479h34M174 479h1M131 480h29M161 480h2M164 480h1M166 480h1M173 480h1M131 481h35M168 481h1M131 482h35M168 482h1M173 482h1M131 483h32M164 483h2M170 483h1" stroke="#151515" stroke-width="1" fill="none" transform="translate(0,0.5)" shape-rendering="crispEdges"/>
<rect x="130.6" y="380" width="120.90" height="103.50" fill="none" stroke="#111" stroke-width="1.4"/>
<line x1="130.60" y1="444.20" x2="251.50" y2="444.20" stroke="#000" stroke-width="1.35"/>
<line x1="178.20" y1="407.50" x2="178.20" y2="483.50" stroke="#000" stroke-width="1.35"/>
<line x1="130.60" y1="484.00" x2="130.60" y2="487.10" stroke="#111" stroke-width="1.1"/>
<line x1="139.70" y1="484.00" x2="139.70" y2="486.30" stroke="#111" stroke-width="1.1"/>
<line x1="145.02" y1="484.00" x2="145.02" y2="486.30" stroke="#111" stroke-width="1.1"/>
<line x1="148.80" y1="484.00" x2="148.80" y2="486.30" stroke="#111" stroke-width="1.1"/>
<line x1="151.73" y1="484.00" x2="151.73" y2="486.30" stroke="#111" stroke-width="1.1"/>
<line x1="154.12" y1="484.00" x2="154.12" y2="486.30" stroke="#111" stroke-width="1.1"/>
<line x1="156.14" y1="484.00" x2="156.14" y2="486.30" stroke="#111" stroke-width="1.1"/>
<line x1="157.90" y1="484.00" x2="157.90" y2="486.30" stroke="#111" stroke-width="1.1"/>
<line x1="159.44" y1="484.00" x2="159.44" y2="486.30" stroke="#111" stroke-width="1.1"/>
<line x1="160.82" y1="484.00" x2="160.82" y2="487.10" stroke="#111" stroke-width="1.1"/>
<line x1="169.92" y1="484.00" x2="169.92" y2="486.30" stroke="#111" stroke-width="1.1"/>
<line x1="175.25" y1="484.00" x2="175.25" y2="486.30" stroke="#111" stroke-width="1.1"/>
<line x1="179.02" y1="484.00" x2="179.02" y2="486.30" stroke="#111" stroke-width="1.1"/>
<line x1="181.95" y1="484.00" x2="181.95" y2="486.30" stroke="#111" stroke-width="1.1"/>
<line x1="184.34" y1="484.00" x2="184.34" y2="486.30" stroke="#111" stroke-width="1.1"/>
<line x1="186.37" y1="484.00" x2="186.37" y2="486.30" stroke="#111" stroke-width="1.1"/>
<line x1="188.12" y1="484.00" x2="188.12" y2="486.30" stroke="#111" stroke-width="1.1"/>
<line x1="189.67" y1="484.00" x2="189.67" y2="486.30" stroke="#111" stroke-width="1.1"/>
<line x1="191.05" y1="484.00" x2="191.05" y2="487.10" stroke="#111" stroke-width="1.1"/>
<line x1="200.15" y1="484.00" x2="200.15" y2="486.30" stroke="#111" stroke-width="1.1"/>
<line x1="205.47" y1="484.00" x2="205.47" y2="486.30" stroke="#111" stroke-width="1.1"/>
<line x1="209.25" y1="484.00" x2="209.25" y2="486.30" stroke="#111" stroke-width="1.1"/>
<line x1="212.18" y1="484.00" x2="212.18" y2="486.30" stroke="#111" stroke-width="1.1"/>
<line x1="214.57" y1="484.00" x2="214.57" y2="486.30" stroke="#111" stroke-width="1.1"/>
<line x1="216.59" y1="484.00" x2="216.59" y2="486.30" stroke="#111" stroke-width="1.1"/>
<line x1="218.35" y1="484.00" x2="218.35" y2="486.30" stroke="#111" stroke-width="1.1"/>
<line x1="219.89" y1="484.00" x2="219.89" y2="486.30" stroke="#111" stroke-width="1.1"/>
<line x1="221.28" y1="484.00" x2="221.28" y2="487.10" stroke="#111" stroke-width="1.1"/>
<line x1="230.37" y1="484.00" x2="230.37" y2="486.30" stroke="#111" stroke-width="1.1"/>
<line x1="235.70" y1="484.00" x2="235.70" y2="486.30" stroke="#111" stroke-width="1.1"/>
<line x1="239.47" y1="484.00" x2="239.47" y2="486.30" stroke="#111" stroke-width="1.1"/>
<line x1="242.40" y1="484.00" x2="242.40" y2="486.30" stroke="#111" stroke-width="1.1"/>
<line x1="244.79" y1="484.00" x2="244.79" y2="486.30" stroke="#111" stroke-width="1.1"/>
<line x1="246.82" y1="484.00" x2="246.82" y2="486.30" stroke="#111" stroke-width="1.1"/>
<line x1="248.57" y1="484.00" x2="248.57" y2="486.30" stroke="#111" stroke-width="1.1"/>
<line x1="250.12" y1="484.00" x2="250.12" y2="486.30" stroke="#111" stroke-width="1.1"/>
<line x1="251.50" y1="484.00" x2="251.50" y2="487.10" stroke="#111" stroke-width="1.1"/>
<line x1="127.00" y1="483.50" x2="130.10" y2="483.50" stroke="#111" stroke-width="1.1"/>
<line x1="127.80" y1="475.71" x2="130.10" y2="475.71" stroke="#111" stroke-width="1.1"/>
<line x1="127.80" y1="471.15" x2="130.10" y2="471.15" stroke="#111" stroke-width="1.1"/>
<line x1="127.80" y1="467.92" x2="130.10" y2="467.92" stroke="#111" stroke-width="1.1"/>
<line x1="127.80" y1="465.41" x2="130.10" y2="465.41" stroke="#111" stroke-width="1.1"/>
<line x1="127.80" y1="463.37" x2="130.10" y2="463.37" stroke="#111" stroke-width="1.1"/>
<line x1="127.80" y1="461.63" x2="130.10" y2="461.63" stroke="#111" stroke-width="1.1"/>
<line x1="127.80" y1="460.13" x2="130.10" y2="460.13" stroke="#111" stroke-width="1.1"/>
<line x1="127.80" y1="458.81" x2="130.10" y2="458.81" stroke="#111" stroke-width="1.1"/>
<line x1="127.00" y1="457.62" x2="130.10" y2="457.62" stroke="#111" stroke-width="1.1"/>
<line x1="127.80" y1="449.84" x2="130.10" y2="449.84" stroke="#111" stroke-width="1.1"/>
<line x1="127.80" y1="445.28" x2="130.10" y2="445.28" stroke="#111" stroke-width="1.1"/>
<line x1="127.80" y1="442.05" x2="130.10" y2="442.05" stroke="#111" stroke-width="1.1"/>
<line x1="127.80" y1="439.54" x2="130.10" y2="439.54" stroke="#111" stroke-width="1.1"/>
<line x1="127.80" y1="437.49" x2="130.10" y2="437.49" stroke="#111" stroke-width="1.1"/>
<line x1="127.80" y1="435.76" x2="130.10" y2="435.76" stroke="#111" stroke-width="1.1"/>
<line x1="127.80" y1="434.26" x2="130.10" y2="434.26" stroke="#111" stroke-width="1.1"/>
<line x1="127.80" y1="432.93" x2="130.10" y2="432.93" stroke="#111" stroke-width="1.1"/>
<line x1="127.00" y1="431.75" x2="130.10" y2="431.75" stroke="#111" stroke-width="1.1"/>
<line x1="127.80" y1="423.96" x2="130.10" y2="423.96" stroke="#111" stroke-width="1.1"/>
<line x1="127.80" y1="419.40" x2="130.10" y2="419.40" stroke="#111" stroke-width="1.1"/>
<line x1="127.80" y1="416.17" x2="130.10" y2="416.17" stroke="#111" stroke-width="1.1"/>
<line x1="127.80" y1="413.66" x2="130.10" y2="413.66" stroke="#111" stroke-width="1.1"/>
<line x1="127.80" y1="411.62" x2="130.10" y2="411.62" stroke="#111" stroke-width="1.1"/>
<line x1="127.80" y1="409.88" x2="130.10" y2="409.88" stroke="#111" stroke-width="1.1"/>
<line x1="127.80" y1="408.38" x2="130.10" y2="408.38" stroke="#111" stroke-width="1.1"/>
<line x1="127.80" y1="407.06" x2="130.10" y2="407.06" stroke="#111" stroke-width="1.1"/>
<line x1="127.00" y1="405.88" x2="130.10" y2="405.88" stroke="#111" stroke-width="1.1"/>
<line x1="127.80" y1="398.09" x2="130.10" y2="398.09" stroke="#111" stroke-width="1.1"/>
<line x1="127.80" y1="393.53" x2="130.10" y2="393.53" stroke="#111" stroke-width="1.1"/>
<line x1="127.80" y1="390.30" x2="130.10" y2="390.30" stroke="#111" stroke-width="1.1"/>
<line x1="127.80" y1="387.79" x2="130.10" y2="387.79" stroke="#111" stroke-width="1.1"/>
<line x1="127.80" y1="385.74" x2="130.10" y2="385.74" stroke="#111" stroke-width="1.1"/>
<line x1="127.80" y1="384.01" x2="130.10" y2="384.01" stroke="#111" stroke-width="1.1"/>
<line x1="127.80" y1="382.51" x2="130.10" y2="382.51" stroke="#111" stroke-width="1.1"/>
<line x1="127.80" y1="381.18" x2="130.10" y2="381.18" stroke="#111" stroke-width="1.1"/>
<line x1="127.00" y1="380.00" x2="130.10" y2="380.00" stroke="#111" stroke-width="1.1"/>
<text x="124.60" y="499.50" font-size="10.6" font-weight="bold" text-anchor="start" fill="#111" textLength="7.80" lengthAdjust="spacingAndGlyphs" stroke="#111" stroke-width="0.3">10</text>
<text x="132.90" y="495.50" font-size="10.0" font-weight="bold" text-anchor="start" fill="#111" textLength="5.30" lengthAdjust="spacingAndGlyphs" stroke="#111" stroke-width="0.3">0</text>
<text x="154.82" y="499.50" font-size="10.6" font-weight="bold" text-anchor="start" fill="#111" textLength="7.80" lengthAdjust="spacingAndGlyphs" stroke="#111" stroke-width="0.3">10</text>
<text x="163.12" y="495.50" font-size="10.0" font-weight="bold" text-anchor="start" fill="#111" textLength="5.30" lengthAdjust="spacingAndGlyphs" stroke="#111" stroke-width="0.3">1</text>
<text x="185.05" y="499.50" font-size="10.6" font-weight="bold" text-anchor="start" fill="#111" textLength="7.80" lengthAdjust="spacingAndGlyphs" stroke="#111" stroke-width="0.3">10</text>
<text x="193.35" y="495.50" font-size="10.0" font-weight="bold" text-anchor="start" fill="#111" textLength="5.30" lengthAdjust="spacingAndGlyphs" stroke="#111" stroke-width="0.3">2</text>
<text x="215.28" y="499.50" font-size="10.6" font-weight="bold" text-anchor="start" fill="#111" textLength="7.80" lengthAdjust="spacingAndGlyphs" stroke="#111" stroke-width="0.3">10</text>
<text x="223.58" y="495.50" font-size="10.0" font-weight="bold" text-anchor="start" fill="#111" textLength="5.30" lengthAdjust="spacingAndGlyphs" stroke="#111" stroke-width="0.3">3</text>
<text x="244.70" y="499.50" font-size="10.6" font-weight="bold" text-anchor="start" fill="#111" textLength="7.80" lengthAdjust="spacingAndGlyphs" stroke="#111" stroke-width="0.3">10</text>
<text x="253.00" y="495.50" font-size="10.0" font-weight="bold" text-anchor="start" fill="#111" textLength="5.30" lengthAdjust="spacingAndGlyphs" stroke="#111" stroke-width="0.3">4</text>
<text x="123.10" y="489.50" transform="rotate(-90 123.10 489.50)" font-size="9.8" font-weight="bold" text-anchor="start" fill="#111" textLength="9.20" lengthAdjust="spacingAndGlyphs" stroke="#111" stroke-width="0.3">10</text>
<text x="116.40" y="479.00" transform="rotate(-90 116.40 479.00)" font-size="9.4" font-weight="bold" text-anchor="start" fill="#111" textLength="5.00" lengthAdjust="spacingAndGlyphs" stroke="#111" stroke-width="0.3">0</text>
<text x="123.10" y="463.62" transform="rotate(-90 123.10 463.62)" font-size="9.8" font-weight="bold" text-anchor="start" fill="#111" textLength="9.20" lengthAdjust="spacingAndGlyphs" stroke="#111" stroke-width="0.3">10</text>
<text x="116.40" y="453.12" transform="rotate(-90 116.40 453.12)" font-size="9.4" font-weight="bold" text-anchor="start" fill="#111" textLength="5.00" lengthAdjust="spacingAndGlyphs" stroke="#111" stroke-width="0.3">1</text>
<text x="123.10" y="437.75" transform="rotate(-90 123.10 437.75)" font-size="9.8" font-weight="bold" text-anchor="start" fill="#111" textLength="9.20" lengthAdjust="spacingAndGlyphs" stroke="#111" stroke-width="0.3">10</text>
<text x="116.40" y="427.25" transform="rotate(-90 116.40 427.25)" font-size="9.4" font-weight="bold" text-anchor="start" fill="#111" textLength="5.00" lengthAdjust="spacingAndGlyphs" stroke="#111" stroke-width="0.3">2</text>
<text x="123.10" y="411.88" transform="rotate(-90 123.10 411.88)" font-size="9.8" font-weight="bold" text-anchor="start" fill="#111" textLength="9.20" lengthAdjust="spacingAndGlyphs" stroke="#111" stroke-width="0.3">10</text>
<text x="116.40" y="401.38" transform="rotate(-90 116.40 401.38)" font-size="9.4" font-weight="bold" text-anchor="start" fill="#111" textLength="5.00" lengthAdjust="spacingAndGlyphs" stroke="#111" stroke-width="0.3">3</text>
<text x="123.10" y="386.00" transform="rotate(-90 123.10 386.00)" font-size="9.8" font-weight="bold" text-anchor="start" fill="#111" textLength="9.20" lengthAdjust="spacingAndGlyphs" stroke="#111" stroke-width="0.3">10</text>
<text x="116.40" y="375.50" transform="rotate(-90 116.40 375.50)" font-size="9.4" font-weight="bold" text-anchor="start" fill="#111" textLength="5.00" lengthAdjust="spacingAndGlyphs" stroke="#111" stroke-width="0.3">4</text>
<path d="M145 565h1M139 580h1M147 580h1M155 583h1M137 584h1M139 584h1M160 584h1M161 585h1M156 586h1M147 587h1M178 587h1M153 589h1M155 589h1M164 591h1M176 591h1M133 592h1M139 592h1M145 592h2M163 592h1M149 593h1M154 593h2M158 593h1M163 593h1M169 593h1M143 594h1M148 594h2M154 594h1M157 594h1M155 595h1M159 595h1M142 596h4M149 596h1M151 596h1M158 596h1M160 596h1M184 596h1M227 596h1M141 597h1M149 597h1M156 597h1M158 597h1M160 597h1M171 597h1M140 598h1M142 598h1M150 598h1M154 598h1M160 598h2M135 599h1M137 599h1M145 599h3M149 599h3M154 599h1M160 599h2M168 599h2M216 599h1M132 600h1M136 600h1M144 600h1M146 600h2M149 600h1M151 600h1M153 600h1M160 600h1M165 600h1M169 600h1M178 600h2M206 600h1M219 600h1M132 601h1M136 601h2M141 601h1M143 601h1M146 601h1M149 601h3M153 601h2M156 601h2M159 601h2M182 601h1M184 601h1M201 601h1M135 602h2M139 602h1M141 602h1M149 602h2M153 602h2M156 602h4M162 602h1M165 602h2M168 602h1M129 603h1M132 603h1M136 603h1M138 603h1M142 603h1M147 603h1M150 603h1M156 603h3M162 603h2M165 603h3M170 603h1M188 603h1M193 603h1M203 603h1M133 604h1M137 604h1M140 604h1M144 604h1M147 604h4M153 604h2M157 604h2M161 604h2M166 604h1M171 604h1M181 604h1M203 604h2M206 604h1M218 604h1M134 605h2M137 605h1M141 605h3M145 605h3M151 605h2M154 605h2M158 605h3M162 605h1M165 605h1M167 605h4M178 605h1M184 605h1M199 605h1M205 605h1M207 605h1M210 605h1M213 605h2M131 606h2M134 606h1M136 606h1M139 606h3M146 606h2M150 606h1M152 606h1M155 606h2M158 606h4M163 606h3M173 606h1M177 606h1M185 606h2M224 606h1M132 607h1M136 607h1M140 607h2M146 607h1M148 607h1M150 607h1M153 607h1M157 607h2M160 607h3M164 607h3M188 607h1M192 607h1M197 607h1M201 607h1M213 607h1M130 608h1M134 608h2M137 608h9M147 608h1M150 608h2M153 608h2M156 608h5M163 608h3M173 608h4M184 608h1M188 608h1M195 608h1M201 608h1M129 609h1M132 609h2M137 609h3M141 609h2M145 609h1M147 609h3M152 609h10M163 609h1M165 609h2M168 609h1M170 609h1M172 609h1M185 609h1M192 609h1M197 609h1M205 609h1M130 610h1M134 610h1M136 610h1M138 610h4M145 610h1M149 610h1M151 610h3M157 610h1M159 610h3M164 610h2M168 610h1M170 610h1M172 610h1M182 610h1M185 610h2M189 610h1M198 610h2M201 610h1M217 610h1M129 611h1M133 611h1M135 611h1M138 611h1M142 611h2M146 611h2M149 611h4M156 611h5M162 611h1M165 611h1M167 611h2M173 611h1M181 611h1M184 611h1M189 611h3M131 612h2M134 612h2M137 612h1M140 612h1M144 612h6M151 612h1M153 612h9M163 612h2M168 612h2M173 612h1M179 612h1M184 612h1M186 612h3M200 612h1M207 612h1M131 613h1M135 613h1M137 613h2M141 613h1M143 613h4M148 613h2M151 613h2M154 613h1M156 613h1M158 613h2M161 613h3M165 613h3M176 613h1M178 613h1M187 613h1M195 613h1M202 613h1M235 613h1M238 613h1M130 614h1M133 614h1M138 614h1M140 614h5M146 614h3M150 614h10M162 614h1M164 614h1M174 614h1M184 614h1M193 614h1M130 615h1M135 615h4M140 615h1M142 615h2M145 615h7M153 615h4M158 615h2M163 615h1M166 615h1M168 615h3M173 615h1M175 615h1M188 615h1M195 615h1M215 615h1M129 616h1M131 616h3M135 616h2M138 616h2M141 616h6M148 616h7M156 616h2M159 616h6M166 616h1M172 616h1M186 616h1M191 616h1M206 616h1M129 617h1M131 617h2M134 617h3M138 617h1M140 617h2M143 617h4M148 617h3M152 617h1M154 617h6M162 617h1M164 617h2M167 617h1M169 617h1M176 617h1M178 617h1M186 617h2M130 618h3M134 618h4M139 618h18M159 618h5M165 618h2M170 618h1M176 618h1M181 618h1M188 618h1M191 618h1M131 619h1M133 619h2M137 619h5M143 619h9M153 619h15M175 619h1M183 619h1M188 619h1M213 619h1M130 620h1M132 620h16M149 620h5M155 620h4M160 620h1M162 620h4M174 620h1M178 620h1M185 620h1M192 620h2M129 621h2M132 621h2M135 621h2M138 621h6M145 621h10M156 621h4M161 621h1M163 621h1M165 621h2M174 621h1M185 621h1M191 621h1M209 621h1M211 621h1M130 622h1M132 622h27M160 622h7M169 622h1M172 622h1M200 622h1M130 623h2M133 623h2M137 623h4M142 623h23M166 623h2M177 623h1M130 624h1M132 624h5M138 624h26M166 624h3M170 624h2M175 624h2M129 625h1M131 625h31M163 625h2M166 625h4M175 625h2M130 626h33M164 626h4M169 626h1M173 626h1M177 626h1M130 627h23M154 627h13M175 627h2M129 628h36M166 628h1M168 628h2M173 628h1M129 629h26M156 629h8M165 629h2M168 629h1M129 630h37M167 630h1M175 630h1M129 631h36M166 631h1M174 631h1M129 632h36M166 632h6M179 632h1M129 633h34M165 633h1M169 633h2M129 634h35M166 634h5M175 634h2M187 634h1M129 635h40M129 636h37M167 636h2M173 636h1M175 636h1M129 637h36M167 637h1M173 637h2M129 638h37M167 638h6M129 639h34M164 639h4M169 639h1M129 640h39M169 640h2M172 640h1M176 640h2M196 640h1M129 641h37M168 641h1M173 641h1M129 642h36M167 642h1M169 642h1M171 642h1M129 643h31M161 643h9M172 643h1M174 643h1M129 644h34M164 644h1M169 644h1M171 644h1M175 644h1M129 645h32M162 645h5M168 645h2M179 645h1M129 646h38M168 646h1M171 646h1M129 647h31M161 647h2M164 647h2M170 647h1M129 648h35M165 648h4M129 649h35M165 649h1M171 649h1M129 650h39M129 651h35M166 651h2M129 652h36M166 652h2M129 653h38M168 653h1M129 654h35M165 654h1M167 654h2M129 655h38M168 655h1M129 656h33M163 656h4M172 656h1" stroke="#151515" stroke-width="1" fill="none" transform="translate(0,0.5)" shape-rendering="crispEdges"/>
<rect x="128.9" y="550.6" width="122.30" height="105.70" fill="none" stroke="#111" stroke-width="1.4"/>
<line x1="128.90" y1="615.40" x2="251.20" y2="615.40" stroke="#000" stroke-width="1.35"/>
<line x1="176.10" y1="577.50" x2="176.10" y2="656.30" stroke="#000" stroke-width="1.35"/>
<line x1="128.90" y1="656.80" x2="128.90" y2="659.90" stroke="#111" stroke-width="1.1"/>
<line x1="138.10" y1="656.80" x2="138.10" y2="659.10" stroke="#111" stroke-width="1.1"/>
<line x1="143.49" y1="656.80" x2="143.49" y2="659.10" stroke="#111" stroke-width="1.1"/>
<line x1="147.31" y1="656.80" x2="147.31" y2="659.10" stroke="#111" stroke-width="1.1"/>
<line x1="150.27" y1="656.80" x2="150.27" y2="659.10" stroke="#111" stroke-width="1.1"/>
<line x1="152.69" y1="656.80" x2="152.69" y2="659.10" stroke="#111" stroke-width="1.1"/>
<line x1="154.74" y1="656.80" x2="154.74" y2="659.10" stroke="#111" stroke-width="1.1"/>
<line x1="156.51" y1="656.80" x2="156.51" y2="659.10" stroke="#111" stroke-width="1.1"/>
<line x1="158.08" y1="656.80" x2="158.08" y2="659.10" stroke="#111" stroke-width="1.1"/>
<line x1="159.47" y1="656.80" x2="159.47" y2="659.90" stroke="#111" stroke-width="1.1"/>
<line x1="168.68" y1="656.80" x2="168.68" y2="659.10" stroke="#111" stroke-width="1.1"/>
<line x1="174.06" y1="656.80" x2="174.06" y2="659.10" stroke="#111" stroke-width="1.1"/>
<line x1="177.88" y1="656.80" x2="177.88" y2="659.10" stroke="#111" stroke-width="1.1"/>
<line x1="180.85" y1="656.80" x2="180.85" y2="659.10" stroke="#111" stroke-width="1.1"/>
<line x1="183.27" y1="656.80" x2="183.27" y2="659.10" stroke="#111" stroke-width="1.1"/>
<line x1="185.31" y1="656.80" x2="185.31" y2="659.10" stroke="#111" stroke-width="1.1"/>
<line x1="187.09" y1="656.80" x2="187.09" y2="659.10" stroke="#111" stroke-width="1.1"/>
<line x1="188.65" y1="656.80" x2="188.65" y2="659.10" stroke="#111" stroke-width="1.1"/>
<line x1="190.05" y1="656.80" x2="190.05" y2="659.90" stroke="#111" stroke-width="1.1"/>
<line x1="199.25" y1="656.80" x2="199.25" y2="659.10" stroke="#111" stroke-width="1.1"/>
<line x1="204.64" y1="656.80" x2="204.64" y2="659.10" stroke="#111" stroke-width="1.1"/>
<line x1="208.46" y1="656.80" x2="208.46" y2="659.10" stroke="#111" stroke-width="1.1"/>
<line x1="211.42" y1="656.80" x2="211.42" y2="659.10" stroke="#111" stroke-width="1.1"/>
<line x1="213.84" y1="656.80" x2="213.84" y2="659.10" stroke="#111" stroke-width="1.1"/>
<line x1="215.89" y1="656.80" x2="215.89" y2="659.10" stroke="#111" stroke-width="1.1"/>
<line x1="217.66" y1="656.80" x2="217.66" y2="659.10" stroke="#111" stroke-width="1.1"/>
<line x1="219.23" y1="656.80" x2="219.23" y2="659.10" stroke="#111" stroke-width="1.1"/>
<line x1="220.62" y1="656.80" x2="220.62" y2="659.90" stroke="#111" stroke-width="1.1"/>
<line x1="229.83" y1="656.80" x2="229.83" y2="659.10" stroke="#111" stroke-width="1.1"/>
<line x1="235.21" y1="656.80" x2="235.21" y2="659.10" stroke="#111" stroke-width="1.1"/>
<line x1="239.03" y1="656.80" x2="239.03" y2="659.10" stroke="#111" stroke-width="1.1"/>
<line x1="242.00" y1="656.80" x2="242.00" y2="659.10" stroke="#111" stroke-width="1.1"/>
<line x1="244.42" y1="656.80" x2="244.42" y2="659.10" stroke="#111" stroke-width="1.1"/>
<line x1="246.46" y1="656.80" x2="246.46" y2="659.10" stroke="#111" stroke-width="1.1"/>
<line x1="248.24" y1="656.80" x2="248.24" y2="659.10" stroke="#111" stroke-width="1.1"/>
<line x1="249.80" y1="656.80" x2="249.80" y2="659.10" stroke="#111" stroke-width="1.1"/>
<line x1="251.20" y1="656.80" x2="251.20" y2="659.90" stroke="#111" stroke-width="1.1"/>
<line x1="125.30" y1="656.30" x2="128.40" y2="656.30" stroke="#111" stroke-width="1.1"/>
<line x1="126.10" y1="648.35" x2="128.40" y2="648.35" stroke="#111" stroke-width="1.1"/>
<line x1="126.10" y1="643.69" x2="128.40" y2="643.69" stroke="#111" stroke-width="1.1"/>
<line x1="126.10" y1="640.39" x2="128.40" y2="640.39" stroke="#111" stroke-width="1.1"/>
<line x1="126.10" y1="637.83" x2="128.40" y2="637.83" stroke="#111" stroke-width="1.1"/>
<line x1="126.10" y1="635.74" x2="128.40" y2="635.74" stroke="#111" stroke-width="1.1"/>
<line x1="126.10" y1="633.97" x2="128.40" y2="633.97" stroke="#111" stroke-width="1.1"/>
<line x1="126.10" y1="632.44" x2="128.40" y2="632.44" stroke="#111" stroke-width="1.1"/>
<line x1="126.10" y1="631.08" x2="128.40" y2="631.08" stroke="#111" stroke-width="1.1"/>
<line x1="125.30" y1="629.88" x2="128.40" y2="629.88" stroke="#111" stroke-width="1.1"/>
<line x1="126.10" y1="621.92" x2="128.40" y2="621.92" stroke="#111" stroke-width="1.1"/>
<line x1="126.10" y1="617.27" x2="128.40" y2="617.27" stroke="#111" stroke-width="1.1"/>
<line x1="126.10" y1="613.97" x2="128.40" y2="613.97" stroke="#111" stroke-width="1.1"/>
<line x1="126.10" y1="611.40" x2="128.40" y2="611.40" stroke="#111" stroke-width="1.1"/>
<line x1="126.10" y1="609.31" x2="128.40" y2="609.31" stroke="#111" stroke-width="1.1"/>
<line x1="126.10" y1="607.54" x2="128.40" y2="607.54" stroke="#111" stroke-width="1.1"/>
<line x1="126.10" y1="606.01" x2="128.40" y2="606.01" stroke="#111" stroke-width="1.1"/>
<line x1="126.10" y1="604.66" x2="128.40" y2="604.66" stroke="#111" stroke-width="1.1"/>
<line x1="125.30" y1="603.45" x2="128.40" y2="603.45" stroke="#111" stroke-width="1.1"/>
<line x1="126.10" y1="595.50" x2="128.40" y2="595.50" stroke="#111" stroke-width="1.1"/>
<line x1="126.10" y1="590.84" x2="128.40" y2="590.84" stroke="#111" stroke-width="1.1"/>
<line x1="126.10" y1="587.54" x2="128.40" y2="587.54" stroke="#111" stroke-width="1.1"/>
<line x1="126.10" y1="584.98" x2="128.40" y2="584.98" stroke="#111" stroke-width="1.1"/>
<line x1="126.10" y1="582.89" x2="128.40" y2="582.89" stroke="#111" stroke-width="1.1"/>
<line x1="126.10" y1="581.12" x2="128.40" y2="581.12" stroke="#111" stroke-width="1.1"/>
<line x1="126.10" y1="579.59" x2="128.40" y2="579.59" stroke="#111" stroke-width="1.1"/>
<line x1="126.10" y1="578.23" x2="128.40" y2="578.23" stroke="#111" stroke-width="1.1"/>
<line x1="125.30" y1="577.02" x2="128.40" y2="577.02" stroke="#111" stroke-width="1.1"/>
<line x1="126.10" y1="569.07" x2="128.40" y2="569.07" stroke="#111" stroke-width="1.1"/>
<line x1="126.10" y1="564.42" x2="128.40" y2="564.42" stroke="#111" stroke-width="1.1"/>
<line x1="126.10" y1="561.12" x2="128.40" y2="561.12" stroke="#111" stroke-width="1.1"/>
<line x1="126.10" y1="558.55" x2="128.40" y2="558.55" stroke="#111" stroke-width="1.1"/>
<line x1="126.10" y1="556.46" x2="128.40" y2="556.46" stroke="#111" stroke-width="1.1"/>
<line x1="126.10" y1="554.69" x2="128.40" y2="554.69" stroke="#111" stroke-width="1.1"/>
<line x1="126.10" y1="553.16" x2="128.40" y2="553.16" stroke="#111" stroke-width="1.1"/>
<line x1="126.10" y1="551.81" x2="128.40" y2="551.81" stroke="#111" stroke-width="1.1"/>
<line x1="125.30" y1="550.60" x2="128.40" y2="550.60" stroke="#111" stroke-width="1.1"/>
<text x="122.90" y="671.80" font-size="10.6" font-weight="bold" text-anchor="start" fill="#111" textLength="7.80" lengthAdjust="spacingAndGlyphs" stroke="#111" stroke-width="0.3">10</text>
<text x="131.20" y="667.80" font-size="10.0" font-weight="bold" text-anchor="start" fill="#111" textLength="5.30" lengthAdjust="spacingAndGlyphs" stroke="#111" stroke-width="0.3">0</text>
<text x="153.47" y="671.80" font-size="10.6" font-weight="bold" text-anchor="start" fill="#111" textLength="7.80" lengthAdjust="spacingAndGlyphs" stroke="#111" stroke-width="0.3">10</text>
<text x="161.78" y="667.80" font-size="10.0" font-weight="bold" text-anchor="start" fill="#111" textLength="5.30" lengthAdjust="spacingAndGlyphs" stroke="#111" stroke-width="0.3">1</text>
<text x="184.05" y="671.80" font-size="10.6" font-weight="bold" text-anchor="start" fill="#111" textLength="7.80" lengthAdjust="spacingAndGlyphs" stroke="#111" stroke-width="0.3">10</text>
<text x="192.35" y="667.80" font-size="10.0" font-weight="bold" text-anchor="start" fill="#111" textLength="5.30" lengthAdjust="spacingAndGlyphs" stroke="#111" stroke-width="0.3">2</text>
<text x="214.62" y="671.80" font-size="10.6" font-weight="bold" text-anchor="start" fill="#111" textLength="7.80" lengthAdjust="spacingAndGlyphs" stroke="#111" stroke-width="0.3">10</text>
<text x="222.93" y="667.80" font-size="10.0" font-weight="bold" text-anchor="start" fill="#111" textLength="5.30" lengthAdjust="spacingAndGlyphs" stroke="#111" stroke-width="0.3">3</text>
<text x="244.40" y="671.80" font-size="10.6" font-weight="bold" text-anchor="start" fill="#111" textLength="7.80" lengthAdjust="spacingAndGlyphs" stroke="#111" stroke-width="0.3">10</text>
<text x="252.70" y="667.80" font-size="10.0" font-weight="bold" text-anchor="start" fill="#111" textLength="5.30" lengthAdjust="spacingAndGlyphs" stroke="#111" stroke-width="0.3">4</text>
<text x="121.40" y="662.30" transform="rotate(-90 121.40 662.30)" font-size="9.8" font-weight="bold" text-anchor="start" fill="#111" textLength="9.20" lengthAdjust="spacingAndGlyphs" stroke="#111" stroke-width="0.3">10</text>
<text x="114.70" y="651.80" transform="rotate(-90 114.70 651.80)" font-size="9.4" font-weight="bold" text-anchor="start" fill="#111" textLength="5.00" lengthAdjust="spacingAndGlyphs" stroke="#111" stroke-width="0.3">0</text>
<text x="121.40" y="635.88" transform="rotate(-90 121.40 635.88)" font-size="9.8" font-weight="bold" text-anchor="start" fill="#111" textLength="9.20" lengthAdjust="spacingAndGlyphs" stroke="#111" stroke-width="0.3">10</text>
<text x="114.70" y="625.38" transform="rotate(-90 114.70 625.38)" font-size="9.4" font-weight="bold" text-anchor="start" fill="#111" textLength="5.00" lengthAdjust="spacingAndGlyphs" stroke="#111" stroke-width="0.3">1</text>
<text x="121.40" y="609.45" transform="rotate(-90 121.40 609.45)" font-size="9.8" font-weight="bold" text-anchor="start" fill="#111" textLength="9.20" lengthAdjust="spacingAndGlyphs" stroke="#111" stroke-width="0.3">10</text>
<text x="114.70" y="598.95" transform="rotate(-90 114.70 598.95)" font-size="9.4" font-weight="bold" text-anchor="start" fill="#111" textLength="5.00" lengthAdjust="spacingAndGlyphs" stroke="#111" stroke-width="0.3">2</text>
<text x="121.40" y="583.02" transform="rotate(-90 121.40 583.02)" font-size="9.8" font-weight="bold" text-anchor="start" fill="#111" textLength="9.20" lengthAdjust="spacingAndGlyphs" stroke="#111" stroke-width="0.3">10</text>
<text x="114.70" y="572.52" transform="rotate(-90 114.70 572.52)" font-size="9.4" font-weight="bold" text-anchor="start" fill="#111" textLength="5.00" lengthAdjust="spacingAndGlyphs" stroke="#111" stroke-width="0.3">3</text>
<text x="121.40" y="556.60" transform="rotate(-90 121.40 556.60)" font-size="9.8" font-weight="bold" text-anchor="start" fill="#111" textLength="9.20" lengthAdjust="spacingAndGlyphs" stroke="#111" stroke-width="0.3">10</text>
<text x="114.70" y="546.10" transform="rotate(-90 114.70 546.10)" font-size="9.4" font-weight="bold" text-anchor="start" fill="#111" textLength="5.00" lengthAdjust="spacingAndGlyphs" stroke="#111" stroke-width="0.3">4</text>
<text x="180.80" y="167.30" font-size="8.2" font-weight="bold" text-anchor="start" fill="#111" textLength="18.80" lengthAdjust="spacingAndGlyphs">FITC</text>
<text x="109.70" y="98.80" transform="rotate(-90 109.70 98.80)" font-size="9" font-weight="bold" text-anchor="start" fill="#111" textLength="9.40" lengthAdjust="spacingAndGlyphs">TC</text>
<text x="176.50" y="347.90" font-size="13.2" font-weight="normal" text-anchor="start" fill="#111" textLength="23.50" lengthAdjust="spacingAndGlyphs" stroke="#111" stroke-width="0.25">GFP</text>
<text x="173.80" y="519.00" font-size="13.2" font-weight="normal" text-anchor="start" fill="#111" textLength="23.50" lengthAdjust="spacingAndGlyphs" stroke="#111" stroke-width="0.25">GFP</text>
<text x="173.80" y="689.90" font-size="13.2" font-weight="normal" text-anchor="start" fill="#111" textLength="23.50" lengthAdjust="spacingAndGlyphs" stroke="#111" stroke-width="0.25">GFP</text>
<text x="159.50" y="229.40" font-size="9.8" font-weight="normal" text-anchor="start" fill="#111" textLength="83.50" lengthAdjust="spacingAndGlyphs" stroke="#111" stroke-width="0.3">CD45+GFP+: 23%</text>
<text x="156.00" y="400.60" font-size="9.8" font-weight="normal" text-anchor="start" fill="#111" textLength="83.50" lengthAdjust="spacingAndGlyphs" stroke="#111" stroke-width="0.3">CD45+GFP+: 22%</text>
<text x="157.50" y="570.00" font-size="9.8" font-weight="normal" text-anchor="start" fill="#111" textLength="83.50" lengthAdjust="spacingAndGlyphs" stroke="#111" stroke-width="0.3">CD45+GFP+: 13%</text>
<text x="108.80" y="280.60" transform="rotate(-90 108.80 280.60)" font-size="9.4" font-weight="bold" text-anchor="start" fill="#111" textLength="35.80" lengthAdjust="spacingAndGlyphs">CD45 TC</text>
<text x="108.80" y="451.30" transform="rotate(-90 108.80 451.30)" font-size="9.4" font-weight="bold" text-anchor="start" fill="#111" textLength="35.80" lengthAdjust="spacingAndGlyphs">CD45 TC</text>
<text x="108.20" y="623.60" transform="rotate(-90 108.20 623.60)" font-size="9.4" font-weight="bold" text-anchor="start" fill="#111" textLength="35.80" lengthAdjust="spacingAndGlyphs">CD45 TC</text>
<path d="M294.60 140.00V68.6H295.44V85.1H296.28V87.3H297.12V76.3H297.96V70.8H298.80V66.4H299.64V67.5H300.48V69.7H301.32V66.4H302.16V77.4H303.00V69.7H303.84V64.3H304.68V64.3H305.52V68.6H306.36V61.0H307.20V54.4H308.04V65.4H308.88V57.7H309.72V53.3H310.56V56.6H311.40V48.1H312.24V54.4H313.08V61.0H313.92V64.3H314.76V57.7H315.60V57.7H316.44V59.9H317.28V62.1H318.12V62.1H318.96V68.6H319.80V69.7H320.64V68.6H321.48V79.6H322.31V79.6H323.15V79.6H323.99V78.5H324.83V80.7H325.67V90.6H326.51V88.4H327.35V91.7H328.19V86.2H329.03V89.5H329.87V96.1H330.71V99.4H331.55V100.5H332.39V101.6H333.23V101.6H334.07V99.4H334.91V104.9H335.75V107.1H336.59V107.1H337.43V108.2H338.27V115.8H339.11V111.5H339.95V110.4H340.79V111.5H341.63V113.7H342.47V115.8H343.31V121.3H344.15V119.1H344.99V116.9H345.83V122.4H346.67V120.2H347.51V121.3H348.35V125.7H349.19V123.5H350.03V126.8H350.87V125.7H351.71V129.0H352.55V127.9H353.39V131.2H354.23V129.0H355.07V130.1H355.91V132.3H356.75V130.1H357.59V132.3H358.43V132.3H359.27V133.4H360.11V134.5H360.95V134.5H361.79V134.1H362.63V133.4H363.47V134.5H364.31V134.5H365.15V136.7H365.99V136.7H366.83V134.5H367.67V135.6H368.51V137.8H369.35V136.7H370.19V137.8H371.03V136.7H371.87V135.6H372.71V137.8H373.55V136.7H374.39V138.9H375.23V138.9H376.06V138.9H376.90V137.8H377.74V137.8H378.58V137.8H379.42V137.8H380.26V137.8H381.10V138.9H381.94V138.9H382.78V138.9H383.62V137.8H384.46V137.8H385.30V138.9H386.14V138.9H386.98V138.9H387.82V138.9H388.66V138.9H389.50V138.9H390.34V138.9H391.18V138.9H392.02V138.9H392.86V138.9H393.70V138.9H394.54V138.9H395.38V138.9H396.22V138.9H397.06V138.9H397.90V138.9H398.74V138.9H399.58V138.9H400.42V138.9H401.26V138.9H402.10V138.9H402.94V138.9H403.78V140.0H404.62V140.0H405.46V140.0H406.30V140.0H407.14V140.0H407.98V140.0H408.82V140.0H409.66V140.0H410.50V140.0H411.34V140.0H412.18V140.0H413.02V138.9H413.86V140.0H414.70V140.0H415.54V138.9H416.38V140.0H417.22V140.0H418.06V140.0H418.90V138.9H419.74V140.0H420.58V140.0H421.42V140.0H422.26V138.9H423.10V140.0H423.94V140.0H424.78V140.0H425.62V140.0H426.46V138.9H427.30V140.0H428.14V140.0H428.98V136.5H429.81V140.0H430.65V140.0H431.49V140.0H432.33V138.9H433.17V138.9H434.01V140.0H434.85V140.0H435.69V140.0H436.53V140.0H437.37V140.0H438.21V138.9H439.05V140.0H439.89V138.9H440.73V140.0H441.57V140.0H442.41V140.0H443.25V140.0H444.09V140.0H444.93V140.0H445.77V137.0H446.61V140.0H447.45V140.0H448.29V140.0H449.13V140.0H449.97V140.0H450.81V140.0H451.65V140.0H452.49V140.0H453.33V140.0H454.17V140.0H455.01V140.0H455.85V140.0H456.69V138.9H457.53V140.0H458.37V140.0H459.21V140.0H460.05V140.0H460.89V138.9H461.73V140.0H462.57V140.0H463.41V140.0H464.25V140.0H465.09V140.0H465.93V140.0H466.77V138.9H467.61V140.0H468.45V140.0H469.29V138.9H470.13V140.0H470.97V140.0H471.81V140.0H472.65V140.0H473.49V140.0H474.33V140.0H475.17V140.0H476.01V140.0H476.85V140.0H477.69V140.0H478.53V140.0H479.37V140.0H480.21V140.0H481.05V140.0H481.89V140.0H482.73V140.0H483.56V140.0H484.40V140.0H485.24V140.0H486.08V140.0H486.92V140.0H487.76V140.0H488.60V138.9H489.44V140.0H490.28V140.0H491.12V140.0H491.96V140.0H492.80V140.0H493.64V140.0H494.48V138.9H495.32V140.0H496.16V140.0H497.00V140.0H497.84V140.0H498.68V140.0H499.52V140.0H500.36V140.0H501.20V140.0H502.04V140.0H502.88V140.0H503.72V140.0H504.56V140.0H505.40V140.0H506.24V140.0H507.08V140.0H507.92V138.9H508.76V140.0H509.60V140.00Z" fill="#0c0c0c" stroke="#0c0c0c" stroke-width="0.3"/>
<rect x="294.6" y="41.2" width="215.00" height="98.80" fill="none" stroke="#111" stroke-width="1.3"/>
<line x1="289.40" y1="140.00" x2="294.60" y2="140.00" stroke="#111" stroke-width="1.1"/>
<line x1="291.60" y1="137.53" x2="294.60" y2="137.53" stroke="#111" stroke-width="1.1"/>
<line x1="291.60" y1="135.06" x2="294.60" y2="135.06" stroke="#111" stroke-width="1.1"/>
<line x1="291.60" y1="132.59" x2="294.60" y2="132.59" stroke="#111" stroke-width="1.1"/>
<line x1="291.60" y1="130.12" x2="294.60" y2="130.12" stroke="#111" stroke-width="1.1"/>
<line x1="289.40" y1="127.65" x2="294.60" y2="127.65" stroke="#111" stroke-width="1.1"/>
<line x1="291.60" y1="125.18" x2="294.60" y2="125.18" stroke="#111" stroke-width="1.1"/>
<line x1="291.60" y1="122.71" x2="294.60" y2="122.71" stroke="#111" stroke-width="1.1"/>
<line x1="291.60" y1="120.24" x2="294.60" y2="120.24" stroke="#111" stroke-width="1.1"/>
<line x1="291.60" y1="117.77" x2="294.60" y2="117.77" stroke="#111" stroke-width="1.1"/>
<line x1="289.40" y1="115.30" x2="294.60" y2="115.30" stroke="#111" stroke-width="1.1"/>
<line x1="291.60" y1="112.83" x2="294.60" y2="112.83" stroke="#111" stroke-width="1.1"/>
<line x1="291.60" y1="110.36" x2="294.60" y2="110.36" stroke="#111" stroke-width="1.1"/>
<line x1="291.60" y1="107.89" x2="294.60" y2="107.89" stroke="#111" stroke-width="1.1"/>
<line x1="291.60" y1="105.42" x2="294.60" y2="105.42" stroke="#111" stroke-width="1.1"/>
<line x1="289.40" y1="102.95" x2="294.60" y2="102.95" stroke="#111" stroke-width="1.1"/>
<line x1="291.60" y1="100.48" x2="294.60" y2="100.48" stroke="#111" stroke-width="1.1"/>
<line x1="291.60" y1="98.01" x2="294.60" y2="98.01" stroke="#111" stroke-width="1.1"/>
<line x1="291.60" y1="95.54" x2="294.60" y2="95.54" stroke="#111" stroke-width="1.1"/>
<line x1="291.60" y1="93.07" x2="294.60" y2="93.07" stroke="#111" stroke-width="1.1"/>
<line x1="289.40" y1="90.60" x2="294.60" y2="90.60" stroke="#111" stroke-width="1.1"/>
<line x1="291.60" y1="88.13" x2="294.60" y2="88.13" stroke="#111" stroke-width="1.1"/>
<line x1="291.60" y1="85.66" x2="294.60" y2="85.66" stroke="#111" stroke-width="1.1"/>
<line x1="291.60" y1="83.19" x2="294.60" y2="83.19" stroke="#111" stroke-width="1.1"/>
<line x1="291.60" y1="80.72" x2="294.60" y2="80.72" stroke="#111" stroke-width="1.1"/>
<line x1="289.40" y1="78.25" x2="294.60" y2="78.25" stroke="#111" stroke-width="1.1"/>
<line x1="291.60" y1="75.78" x2="294.60" y2="75.78" stroke="#111" stroke-width="1.1"/>
<line x1="291.60" y1="73.31" x2="294.60" y2="73.31" stroke="#111" stroke-width="1.1"/>
<line x1="291.60" y1="70.84" x2="294.60" y2="70.84" stroke="#111" stroke-width="1.1"/>
<line x1="291.60" y1="68.37" x2="294.60" y2="68.37" stroke="#111" stroke-width="1.1"/>
<line x1="289.40" y1="65.90" x2="294.60" y2="65.90" stroke="#111" stroke-width="1.1"/>
<line x1="291.60" y1="63.43" x2="294.60" y2="63.43" stroke="#111" stroke-width="1.1"/>
<line x1="291.60" y1="60.96" x2="294.60" y2="60.96" stroke="#111" stroke-width="1.1"/>
<line x1="291.60" y1="58.49" x2="294.60" y2="58.49" stroke="#111" stroke-width="1.1"/>
<line x1="291.60" y1="56.02" x2="294.60" y2="56.02" stroke="#111" stroke-width="1.1"/>
<line x1="289.40" y1="53.55" x2="294.60" y2="53.55" stroke="#111" stroke-width="1.1"/>
<line x1="291.60" y1="51.08" x2="294.60" y2="51.08" stroke="#111" stroke-width="1.1"/>
<line x1="291.60" y1="48.61" x2="294.60" y2="48.61" stroke="#111" stroke-width="1.1"/>
<line x1="291.60" y1="46.14" x2="294.60" y2="46.14" stroke="#111" stroke-width="1.1"/>
<line x1="291.60" y1="43.67" x2="294.60" y2="43.67" stroke="#111" stroke-width="1.1"/>
<line x1="289.40" y1="41.20" x2="294.60" y2="41.20" stroke="#111" stroke-width="1.1"/>
<line x1="294.60" y1="140.50" x2="294.60" y2="143.60" stroke="#111" stroke-width="1.1"/>
<line x1="310.78" y1="140.50" x2="310.78" y2="142.80" stroke="#111" stroke-width="1.1"/>
<line x1="320.25" y1="140.50" x2="320.25" y2="142.80" stroke="#111" stroke-width="1.1"/>
<line x1="326.96" y1="140.50" x2="326.96" y2="142.80" stroke="#111" stroke-width="1.1"/>
<line x1="332.17" y1="140.50" x2="332.17" y2="142.80" stroke="#111" stroke-width="1.1"/>
<line x1="336.43" y1="140.50" x2="336.43" y2="142.80" stroke="#111" stroke-width="1.1"/>
<line x1="340.02" y1="140.50" x2="340.02" y2="142.80" stroke="#111" stroke-width="1.1"/>
<line x1="343.14" y1="140.50" x2="343.14" y2="142.80" stroke="#111" stroke-width="1.1"/>
<line x1="345.89" y1="140.50" x2="345.89" y2="142.80" stroke="#111" stroke-width="1.1"/>
<line x1="348.35" y1="140.50" x2="348.35" y2="143.60" stroke="#111" stroke-width="1.1"/>
<line x1="364.53" y1="140.50" x2="364.53" y2="142.80" stroke="#111" stroke-width="1.1"/>
<line x1="374.00" y1="140.50" x2="374.00" y2="142.80" stroke="#111" stroke-width="1.1"/>
<line x1="380.71" y1="140.50" x2="380.71" y2="142.80" stroke="#111" stroke-width="1.1"/>
<line x1="385.92" y1="140.50" x2="385.92" y2="142.80" stroke="#111" stroke-width="1.1"/>
<line x1="390.18" y1="140.50" x2="390.18" y2="142.80" stroke="#111" stroke-width="1.1"/>
<line x1="393.77" y1="140.50" x2="393.77" y2="142.80" stroke="#111" stroke-width="1.1"/>
<line x1="396.89" y1="140.50" x2="396.89" y2="142.80" stroke="#111" stroke-width="1.1"/>
<line x1="399.64" y1="140.50" x2="399.64" y2="142.80" stroke="#111" stroke-width="1.1"/>
<line x1="402.10" y1="140.50" x2="402.10" y2="143.60" stroke="#111" stroke-width="1.1"/>
<line x1="418.28" y1="140.50" x2="418.28" y2="142.80" stroke="#111" stroke-width="1.1"/>
<line x1="427.75" y1="140.50" x2="427.75" y2="142.80" stroke="#111" stroke-width="1.1"/>
<line x1="434.46" y1="140.50" x2="434.46" y2="142.80" stroke="#111" stroke-width="1.1"/>
<line x1="439.67" y1="140.50" x2="439.67" y2="142.80" stroke="#111" stroke-width="1.1"/>
<line x1="443.93" y1="140.50" x2="443.93" y2="142.80" stroke="#111" stroke-width="1.1"/>
<line x1="447.52" y1="140.50" x2="447.52" y2="142.80" stroke="#111" stroke-width="1.1"/>
<line x1="450.64" y1="140.50" x2="450.64" y2="142.80" stroke="#111" stroke-width="1.1"/>
<line x1="453.39" y1="140.50" x2="453.39" y2="142.80" stroke="#111" stroke-width="1.1"/>
<line x1="455.85" y1="140.50" x2="455.85" y2="143.60" stroke="#111" stroke-width="1.1"/>
<line x1="472.03" y1="140.50" x2="472.03" y2="142.80" stroke="#111" stroke-width="1.1"/>
<line x1="481.50" y1="140.50" x2="481.50" y2="142.80" stroke="#111" stroke-width="1.1"/>
<line x1="488.21" y1="140.50" x2="488.21" y2="142.80" stroke="#111" stroke-width="1.1"/>
<line x1="493.42" y1="140.50" x2="493.42" y2="142.80" stroke="#111" stroke-width="1.1"/>
<line x1="497.68" y1="140.50" x2="497.68" y2="142.80" stroke="#111" stroke-width="1.1"/>
<line x1="501.27" y1="140.50" x2="501.27" y2="142.80" stroke="#111" stroke-width="1.1"/>
<line x1="504.39" y1="140.50" x2="504.39" y2="142.80" stroke="#111" stroke-width="1.1"/>
<line x1="507.14" y1="140.50" x2="507.14" y2="142.80" stroke="#111" stroke-width="1.1"/>
<line x1="509.60" y1="140.50" x2="509.60" y2="143.60" stroke="#111" stroke-width="1.1"/>
<text x="288.20" y="156.20" font-size="10.6" font-weight="bold" text-anchor="start" fill="#111" textLength="7.80" lengthAdjust="spacingAndGlyphs" stroke="#111" stroke-width="0.3">10</text>
<text x="296.50" y="152.20" font-size="10.0" font-weight="bold" text-anchor="start" fill="#111" textLength="5.30" lengthAdjust="spacingAndGlyphs" stroke="#111" stroke-width="0.3">0</text>
<text x="341.95" y="156.20" font-size="10.6" font-weight="bold" text-anchor="start" fill="#111" textLength="7.80" lengthAdjust="spacingAndGlyphs" stroke="#111" stroke-width="0.3">10</text>
<text x="350.25" y="152.20" font-size="10.0" font-weight="bold" text-anchor="start" fill="#111" textLength="5.30" lengthAdjust="spacingAndGlyphs" stroke="#111" stroke-width="0.3">1</text>
<text x="395.70" y="156.20" font-size="10.6" font-weight="bold" text-anchor="start" fill="#111" textLength="7.80" lengthAdjust="spacingAndGlyphs" stroke="#111" stroke-width="0.3">10</text>
<text x="404.00" y="152.20" font-size="10.0" font-weight="bold" text-anchor="start" fill="#111" textLength="5.30" lengthAdjust="spacingAndGlyphs" stroke="#111" stroke-width="0.3">2</text>
<text x="449.45" y="156.20" font-size="10.6" font-weight="bold" text-anchor="start" fill="#111" textLength="7.80" lengthAdjust="spacingAndGlyphs" stroke="#111" stroke-width="0.3">10</text>
<text x="457.75" y="152.20" font-size="10.0" font-weight="bold" text-anchor="start" fill="#111" textLength="5.30" lengthAdjust="spacingAndGlyphs" stroke="#111" stroke-width="0.3">3</text>
<text x="502.40" y="156.20" font-size="10.6" font-weight="bold" text-anchor="start" fill="#111" textLength="7.80" lengthAdjust="spacingAndGlyphs" stroke="#111" stroke-width="0.3">10</text>
<text x="510.70" y="152.20" font-size="10.0" font-weight="bold" text-anchor="start" fill="#111" textLength="5.30" lengthAdjust="spacingAndGlyphs" stroke="#111" stroke-width="0.3">4</text>
<line x1="376.70" y1="86.10" x2="495.70" y2="86.10" stroke="#111" stroke-width="1.4"/>
<line x1="376.70" y1="77.50" x2="376.70" y2="95.00" stroke="#111" stroke-width="1.4"/>
<line x1="495.70" y1="77.50" x2="495.70" y2="95.00" stroke="#111" stroke-width="1.4"/>
<path d="M294.70 310.40V244.8H295.54V275.1H296.39V280.1H297.23V276.7H298.08V264.9H298.92V256.5H299.76V253.2H300.61V251.5H301.45V243.1H302.30V238.0H303.14V227.9H303.99V238.0H304.83V241.4H305.67V227.9H306.52V227.9H307.36V224.6H308.21V219.5H309.05V224.6H309.89V214.4H310.74V211.1H311.58V209.4H312.43V209.4H313.27V209.4H314.12V212.8H314.96V209.4H315.80V209.4H316.65V211.1H317.49V209.4H318.34V209.4H319.18V209.4H320.02V209.4H320.87V216.1H321.71V209.4H322.56V209.4H323.40V209.4H324.24V209.4H325.09V209.4H325.93V209.4H326.78V209.4H327.62V209.4H328.47V209.4H329.31V209.4H330.15V209.4H331.00V209.4H331.84V209.4H332.69V217.8H333.53V209.4H334.37V209.4H335.22V216.1H336.06V209.4H336.91V209.4H337.75V211.1H338.60V209.4H339.44V227.9H340.28V227.9H341.13V226.2H341.97V239.7H342.82V226.2H343.66V236.3H344.50V243.1H345.35V231.3H346.19V246.4H347.04V244.8H347.88V244.8H348.73V248.1H349.57V249.8H350.41V268.3H351.26V261.6H352.10V258.2H352.95V259.9H353.79V263.3H354.63V275.1H355.48V261.6H356.32V268.3H357.17V276.7H358.01V278.4H358.85V278.4H359.70V278.4H360.54V283.5H361.39V280.1H362.23V286.8H363.08V290.2H363.92V286.8H364.76V288.5H365.61V296.9H366.45V293.6H367.30V295.2H368.14V293.6H368.98V291.9H369.83V288.5H370.67V298.6H371.52V298.6H372.36V290.2H373.21V300.3H374.05V296.9H374.89V288.5H375.74V295.2H376.58V291.9H377.43V293.6H378.27V298.6H379.11V298.6H379.96V295.2H380.80V300.3H381.65V295.2H382.49V302.0H383.33V300.3H384.18V300.3H385.02V303.7H385.87V305.3H386.71V300.3H387.56V302.0H388.40V302.0H389.24V302.0H390.09V302.0H390.93V296.9H391.78V298.6H392.62V295.2H393.46V296.9H394.31V300.3H395.15V293.6H396.00V290.2H396.84V295.2H397.69V302.0H398.53V303.7H399.37V296.9H400.22V296.9H401.06V293.6H401.91V290.2H402.75V296.9H403.59V290.2H404.44V291.9H405.28V290.2H406.13V291.9H406.97V288.5H407.81V291.9H408.66V293.6H409.50V293.6H410.35V293.6H411.19V285.1H412.04V293.6H412.88V286.8H413.72V288.5H414.57V288.5H415.41V291.9H416.26V285.1H417.10V288.5H417.94V290.2H418.79V291.9H419.63V291.9H420.48V291.9H421.32V286.8H422.17V288.5H423.01V290.2H423.85V288.5H424.70V291.9H425.54V293.6H426.39V286.8H427.23V291.9H428.07V290.2H428.92V295.2H429.76V291.9H430.61V290.2H431.45V286.8H432.29V288.5H433.14V290.2H433.98V295.2H434.83V293.6H435.67V295.2H436.52V293.6H437.36V293.6H438.20V298.6H439.05V286.8H439.89V293.6H440.74V295.2H441.58V298.6H442.42V293.6H443.27V295.2H444.11V302.0H444.96V295.2H445.80V293.6H446.65V300.3H447.49V296.9H448.33V300.3H449.18V300.3H450.02V300.3H450.87V296.9H451.71V303.7H452.55V296.9H453.40V295.2H454.24V302.0H455.09V300.3H455.93V303.7H456.78V295.2H457.62V300.3H458.46V302.0H459.31V300.3H460.15V302.0H461.00V302.0H461.84V302.0H462.68V296.9H463.53V300.3H464.37V298.6H465.22V298.6H466.06V302.0H466.90V302.0H467.75V300.3H468.59V302.0H469.44V296.9H470.28V300.3H471.13V303.7H471.97V303.7H472.81V303.7H473.66V303.7H474.50V302.0H475.35V305.3H476.19V302.0H477.03V303.7H477.88V307.0H478.72V300.3H479.57V303.7H480.41V303.7H481.26V302.0H482.10V302.0H482.94V307.0H483.79V303.7H484.63V303.7H485.48V305.3H486.32V300.3H487.16V302.0H488.01V307.0H488.85V305.3H489.70V303.7H490.54V305.3H491.38V299.3H492.23V302.3H493.07V305.3H493.92V305.3H494.76V305.3H495.61V305.3H496.45V305.3H497.29V305.3H498.14V308.7H498.98V307.0H499.83V305.3H500.67V305.3H501.51V307.0H502.36V307.0H503.20V305.3H504.05V307.0H504.89V308.7H505.74V308.7H506.58V307.0H507.42V308.7H508.27V307.0H509.11V308.7H509.96V307.0H510.80V310.40Z" fill="#0c0c0c" stroke="#0c0c0c" stroke-width="0.3"/>
<rect x="294.7" y="209.4" width="216.10" height="101.00" fill="none" stroke="#111" stroke-width="1.3"/>
<line x1="289.50" y1="310.40" x2="294.70" y2="310.40" stroke="#111" stroke-width="1.1"/>
<line x1="291.70" y1="307.88" x2="294.70" y2="307.88" stroke="#111" stroke-width="1.1"/>
<line x1="291.70" y1="305.35" x2="294.70" y2="305.35" stroke="#111" stroke-width="1.1"/>
<line x1="291.70" y1="302.82" x2="294.70" y2="302.82" stroke="#111" stroke-width="1.1"/>
<line x1="291.70" y1="300.30" x2="294.70" y2="300.30" stroke="#111" stroke-width="1.1"/>
<line x1="289.50" y1="297.77" x2="294.70" y2="297.77" stroke="#111" stroke-width="1.1"/>
<line x1="291.70" y1="295.25" x2="294.70" y2="295.25" stroke="#111" stroke-width="1.1"/>
<line x1="291.70" y1="292.72" x2="294.70" y2="292.72" stroke="#111" stroke-width="1.1"/>
<line x1="291.70" y1="290.20" x2="294.70" y2="290.20" stroke="#111" stroke-width="1.1"/>
<line x1="291.70" y1="287.67" x2="294.70" y2="287.67" stroke="#111" stroke-width="1.1"/>
<line x1="289.50" y1="285.15" x2="294.70" y2="285.15" stroke="#111" stroke-width="1.1"/>
<line x1="291.70" y1="282.62" x2="294.70" y2="282.62" stroke="#111" stroke-width="1.1"/>
<line x1="291.70" y1="280.10" x2="294.70" y2="280.10" stroke="#111" stroke-width="1.1"/>
<line x1="291.70" y1="277.57" x2="294.70" y2="277.57" stroke="#111" stroke-width="1.1"/>
<line x1="291.70" y1="275.05" x2="294.70" y2="275.05" stroke="#111" stroke-width="1.1"/>
<line x1="289.50" y1="272.52" x2="294.70" y2="272.52" stroke="#111" stroke-width="1.1"/>
<line x1="291.70" y1="270.00" x2="294.70" y2="270.00" stroke="#111" stroke-width="1.1"/>
<line x1="291.70" y1="267.47" x2="294.70" y2="267.47" stroke="#111" stroke-width="1.1"/>
<line x1="291.70" y1="264.95" x2="294.70" y2="264.95" stroke="#111" stroke-width="1.1"/>
<line x1="291.70" y1="262.43" x2="294.70" y2="262.43" stroke="#111" stroke-width="1.1"/>
<line x1="289.50" y1="259.90" x2="294.70" y2="259.90" stroke="#111" stroke-width="1.1"/>
<line x1="291.70" y1="257.38" x2="294.70" y2="257.38" stroke="#111" stroke-width="1.1"/>
<line x1="291.70" y1="254.85" x2="294.70" y2="254.85" stroke="#111" stroke-width="1.1"/>
<line x1="291.70" y1="252.32" x2="294.70" y2="252.32" stroke="#111" stroke-width="1.1"/>
<line x1="291.70" y1="249.80" x2="294.70" y2="249.80" stroke="#111" stroke-width="1.1"/>
<line x1="289.50" y1="247.28" x2="294.70" y2="247.28" stroke="#111" stroke-width="1.1"/>
<line x1="291.70" y1="244.75" x2="294.70" y2="244.75" stroke="#111" stroke-width="1.1"/>
<line x1="291.70" y1="242.22" x2="294.70" y2="242.22" stroke="#111" stroke-width="1.1"/>
<line x1="291.70" y1="239.70" x2="294.70" y2="239.70" stroke="#111" stroke-width="1.1"/>
<line x1="291.70" y1="237.18" x2="294.70" y2="237.18" stroke="#111" stroke-width="1.1"/>
<line x1="289.50" y1="234.65" x2="294.70" y2="234.65" stroke="#111" stroke-width="1.1"/>
<line x1="291.70" y1="232.12" x2="294.70" y2="232.12" stroke="#111" stroke-width="1.1"/>
<line x1="291.70" y1="229.60" x2="294.70" y2="229.60" stroke="#111" stroke-width="1.1"/>
<line x1="291.70" y1="227.07" x2="294.70" y2="227.07" stroke="#111" stroke-width="1.1"/>
<line x1="291.70" y1="224.55" x2="294.70" y2="224.55" stroke="#111" stroke-width="1.1"/>
<line x1="289.50" y1="222.03" x2="294.70" y2="222.03" stroke="#111" stroke-width="1.1"/>
<line x1="291.70" y1="219.50" x2="294.70" y2="219.50" stroke="#111" stroke-width="1.1"/>
<line x1="291.70" y1="216.97" x2="294.70" y2="216.97" stroke="#111" stroke-width="1.1"/>
<line x1="291.70" y1="214.45" x2="294.70" y2="214.45" stroke="#111" stroke-width="1.1"/>
<line x1="291.70" y1="211.93" x2="294.70" y2="211.93" stroke="#111" stroke-width="1.1"/>
<line x1="289.50" y1="209.40" x2="294.70" y2="209.40" stroke="#111" stroke-width="1.1"/>
<line x1="294.70" y1="310.90" x2="294.70" y2="314.00" stroke="#111" stroke-width="1.1"/>
<line x1="310.96" y1="310.90" x2="310.96" y2="313.20" stroke="#111" stroke-width="1.1"/>
<line x1="320.48" y1="310.90" x2="320.48" y2="313.20" stroke="#111" stroke-width="1.1"/>
<line x1="327.23" y1="310.90" x2="327.23" y2="313.20" stroke="#111" stroke-width="1.1"/>
<line x1="332.46" y1="310.90" x2="332.46" y2="313.20" stroke="#111" stroke-width="1.1"/>
<line x1="336.74" y1="310.90" x2="336.74" y2="313.20" stroke="#111" stroke-width="1.1"/>
<line x1="340.36" y1="310.90" x2="340.36" y2="313.20" stroke="#111" stroke-width="1.1"/>
<line x1="343.49" y1="310.90" x2="343.49" y2="313.20" stroke="#111" stroke-width="1.1"/>
<line x1="346.25" y1="310.90" x2="346.25" y2="313.20" stroke="#111" stroke-width="1.1"/>
<line x1="348.73" y1="310.90" x2="348.73" y2="314.00" stroke="#111" stroke-width="1.1"/>
<line x1="364.99" y1="310.90" x2="364.99" y2="313.20" stroke="#111" stroke-width="1.1"/>
<line x1="374.50" y1="310.90" x2="374.50" y2="313.20" stroke="#111" stroke-width="1.1"/>
<line x1="381.25" y1="310.90" x2="381.25" y2="313.20" stroke="#111" stroke-width="1.1"/>
<line x1="386.49" y1="310.90" x2="386.49" y2="313.20" stroke="#111" stroke-width="1.1"/>
<line x1="390.76" y1="310.90" x2="390.76" y2="313.20" stroke="#111" stroke-width="1.1"/>
<line x1="394.38" y1="310.90" x2="394.38" y2="313.20" stroke="#111" stroke-width="1.1"/>
<line x1="397.51" y1="310.90" x2="397.51" y2="313.20" stroke="#111" stroke-width="1.1"/>
<line x1="400.28" y1="310.90" x2="400.28" y2="313.20" stroke="#111" stroke-width="1.1"/>
<line x1="402.75" y1="310.90" x2="402.75" y2="314.00" stroke="#111" stroke-width="1.1"/>
<line x1="419.01" y1="310.90" x2="419.01" y2="313.20" stroke="#111" stroke-width="1.1"/>
<line x1="428.53" y1="310.90" x2="428.53" y2="313.20" stroke="#111" stroke-width="1.1"/>
<line x1="435.28" y1="310.90" x2="435.28" y2="313.20" stroke="#111" stroke-width="1.1"/>
<line x1="440.51" y1="310.90" x2="440.51" y2="313.20" stroke="#111" stroke-width="1.1"/>
<line x1="444.79" y1="310.90" x2="444.79" y2="313.20" stroke="#111" stroke-width="1.1"/>
<line x1="448.41" y1="310.90" x2="448.41" y2="313.20" stroke="#111" stroke-width="1.1"/>
<line x1="451.54" y1="310.90" x2="451.54" y2="313.20" stroke="#111" stroke-width="1.1"/>
<line x1="454.30" y1="310.90" x2="454.30" y2="313.20" stroke="#111" stroke-width="1.1"/>
<line x1="456.77" y1="310.90" x2="456.77" y2="314.00" stroke="#111" stroke-width="1.1"/>
<line x1="473.04" y1="310.90" x2="473.04" y2="313.20" stroke="#111" stroke-width="1.1"/>
<line x1="482.55" y1="310.90" x2="482.55" y2="313.20" stroke="#111" stroke-width="1.1"/>
<line x1="489.30" y1="310.90" x2="489.30" y2="313.20" stroke="#111" stroke-width="1.1"/>
<line x1="494.54" y1="310.90" x2="494.54" y2="313.20" stroke="#111" stroke-width="1.1"/>
<line x1="498.81" y1="310.90" x2="498.81" y2="313.20" stroke="#111" stroke-width="1.1"/>
<line x1="502.43" y1="310.90" x2="502.43" y2="313.20" stroke="#111" stroke-width="1.1"/>
<line x1="505.56" y1="310.90" x2="505.56" y2="313.20" stroke="#111" stroke-width="1.1"/>
<line x1="508.33" y1="310.90" x2="508.33" y2="313.20" stroke="#111" stroke-width="1.1"/>
<line x1="510.80" y1="310.90" x2="510.80" y2="314.00" stroke="#111" stroke-width="1.1"/>
<text x="288.30" y="326.20" font-size="10.6" font-weight="bold" text-anchor="start" fill="#111" textLength="7.80" lengthAdjust="spacingAndGlyphs" stroke="#111" stroke-width="0.3">10</text>
<text x="296.60" y="322.20" font-size="10.0" font-weight="bold" text-anchor="start" fill="#111" textLength="5.30" lengthAdjust="spacingAndGlyphs" stroke="#111" stroke-width="0.3">0</text>
<text x="342.33" y="326.20" font-size="10.6" font-weight="bold" text-anchor="start" fill="#111" textLength="7.80" lengthAdjust="spacingAndGlyphs" stroke="#111" stroke-width="0.3">10</text>
<text x="350.63" y="322.20" font-size="10.0" font-weight="bold" text-anchor="start" fill="#111" textLength="5.30" lengthAdjust="spacingAndGlyphs" stroke="#111" stroke-width="0.3">1</text>
<text x="396.35" y="326.20" font-size="10.6" font-weight="bold" text-anchor="start" fill="#111" textLength="7.80" lengthAdjust="spacingAndGlyphs" stroke="#111" stroke-width="0.3">10</text>
<text x="404.65" y="322.20" font-size="10.0" font-weight="bold" text-anchor="start" fill="#111" textLength="5.30" lengthAdjust="spacingAndGlyphs" stroke="#111" stroke-width="0.3">2</text>
<text x="450.38" y="326.20" font-size="10.6" font-weight="bold" text-anchor="start" fill="#111" textLength="7.80" lengthAdjust="spacingAndGlyphs" stroke="#111" stroke-width="0.3">10</text>
<text x="458.68" y="322.20" font-size="10.0" font-weight="bold" text-anchor="start" fill="#111" textLength="5.30" lengthAdjust="spacingAndGlyphs" stroke="#111" stroke-width="0.3">3</text>
<text x="503.60" y="326.20" font-size="10.6" font-weight="bold" text-anchor="start" fill="#111" textLength="7.80" lengthAdjust="spacingAndGlyphs" stroke="#111" stroke-width="0.3">10</text>
<text x="511.90" y="322.20" font-size="10.0" font-weight="bold" text-anchor="start" fill="#111" textLength="5.30" lengthAdjust="spacingAndGlyphs" stroke="#111" stroke-width="0.3">4</text>
<line x1="377.20" y1="254.60" x2="495.70" y2="254.60" stroke="#111" stroke-width="1.4"/>
<line x1="377.20" y1="246.00" x2="377.20" y2="263.20" stroke="#111" stroke-width="1.4"/>
<line x1="495.70" y1="246.00" x2="495.70" y2="263.20" stroke="#111" stroke-width="1.4"/>
<path d="M294.40 480.00V400.0H295.25V447.5H296.10V455.0H296.95V452.5H297.80V455.0H298.65V442.5H299.50V432.5H300.35V435.0H301.20V440.0H302.05V430.0H302.90V407.5H303.75V405.0H304.60V425.0H305.44V415.0H306.29V417.5H307.14V412.5H307.99V415.0H308.84V405.0H309.69V417.5H310.54V390.0H311.39V400.0H312.24V387.5H313.09V402.5H313.94V395.0H314.79V410.0H315.64V380.0H316.49V380.0H317.34V387.5H318.19V380.0H319.04V380.0H319.89V382.5H320.74V380.0H321.59V380.0H322.44V392.5H323.29V380.0H324.14V387.5H324.99V380.0H325.84V390.0H326.69V380.0H327.53V380.0H328.38V380.0H329.23V380.0H330.08V380.0H330.93V385.0H331.78V385.0H332.63V392.5H333.48V380.0H334.33V380.0H335.18V380.0H336.03V380.0H336.88V380.0H337.73V380.0H338.58V380.0H339.43V387.5H340.28V392.5H341.13V387.5H341.98V385.0H342.83V380.0H343.68V395.0H344.53V395.0H345.38V405.0H346.23V400.0H347.08V392.5H347.93V402.5H348.77V387.5H349.62V410.0H350.47V425.0H351.32V405.0H352.17V420.0H353.02V420.0H353.87V412.5H354.72V420.0H355.57V432.5H356.42V425.0H357.27V437.5H358.12V425.0H358.97V432.5H359.82V435.0H360.67V445.0H361.52V427.5H362.37V437.5H363.22V440.0H364.07V445.0H364.92V442.5H365.77V435.0H366.62V445.0H367.47V442.5H368.32V452.5H369.17V445.0H370.02V442.5H370.86V457.5H371.71V455.0H372.56V452.5H373.41V452.5H374.26V452.5H375.11V460.0H375.96V455.0H376.81V455.0H377.66V472.5H378.51V465.0H379.36V462.5H380.21V462.5H381.06V462.5H381.91V465.0H382.76V465.0H383.61V472.5H384.46V472.5H385.31V467.5H386.16V470.0H387.01V467.5H387.86V467.5H388.71V470.0H389.56V472.5H390.41V475.0H391.26V467.5H392.11V470.0H392.95V470.0H393.80V462.5H394.65V450.0H395.50V460.0H396.35V465.0H397.20V455.0H398.05V460.0H398.90V470.0H399.75V470.0H400.60V467.5H401.45V465.0H402.30V455.0H403.15V467.5H404.00V465.0H404.85V465.0H405.70V462.5H406.55V465.0H407.40V470.0H408.25V460.0H409.10V465.0H409.95V467.5H410.80V465.0H411.65V462.5H412.50V462.5H413.35V470.0H414.19V465.0H415.04V465.0H415.89V465.0H416.74V467.5H417.59V462.5H418.44V460.0H419.29V452.0H420.14V465.0H420.99V460.0H421.84V460.0H422.69V455.0H423.54V457.5H424.39V452.5H425.24V460.0H426.09V467.5H426.94V460.0H427.79V467.5H428.64V455.0H429.49V470.0H430.34V465.0H431.19V462.5H432.04V462.5H432.89V453.0H433.74V465.0H434.59V460.0H435.44V462.5H436.28V462.5H437.13V462.5H437.98V462.5H438.83V462.5H439.68V470.0H440.53V460.0H441.38V465.0H442.23V460.0H443.08V472.5H443.93V467.5H444.78V462.5H445.63V467.5H446.48V467.5H447.33V475.0H448.18V472.5H449.03V470.0H449.88V470.0H450.73V472.5H451.58V472.5H452.43V467.5H453.28V467.5H454.13V467.5H454.98V472.5H455.83V465.0H456.68V465.0H457.52V470.0H458.37V475.0H459.22V475.0H460.07V472.5H460.92V477.5H461.77V470.0H462.62V472.5H463.47V470.0H464.32V467.5H465.17V472.5H466.02V467.5H466.87V470.0H467.72V470.0H468.57V472.5H469.42V477.5H470.27V470.0H471.12V477.5H471.97V475.0H472.82V470.0H473.67V475.0H474.52V472.5H475.37V475.0H476.22V477.5H477.07V477.5H477.92V472.5H478.77V475.0H479.61V477.5H480.46V475.0H481.31V477.5H482.16V475.0H483.01V472.5H483.86V475.0H484.71V477.5H485.56V475.0H486.41V475.0H487.26V475.0H488.11V477.5H488.96V475.0H489.81V477.5H490.66V477.5H491.51V475.0H492.36V475.0H493.21V475.0H494.06V480.0H494.91V480.0H495.76V480.0H496.61V480.0H497.46V480.0H498.31V480.0H499.16V480.0H500.01V480.0H500.86V480.0H501.70V480.0H502.55V480.0H503.40V480.0H504.25V480.0H505.10V480.0H505.95V480.0H506.80V480.0H507.65V480.0H508.50V480.0H509.35V480.0H510.20V480.0H511.05V480.0H511.90V480.00Z" fill="#0c0c0c" stroke="#0c0c0c" stroke-width="0.3"/>
<rect x="294.4" y="380" width="217.50" height="100.00" fill="none" stroke="#111" stroke-width="1.3"/>
<line x1="289.20" y1="480.00" x2="294.40" y2="480.00" stroke="#111" stroke-width="1.1"/>
<line x1="291.40" y1="477.50" x2="294.40" y2="477.50" stroke="#111" stroke-width="1.1"/>
<line x1="291.40" y1="475.00" x2="294.40" y2="475.00" stroke="#111" stroke-width="1.1"/>
<line x1="291.40" y1="472.50" x2="294.40" y2="472.50" stroke="#111" stroke-width="1.1"/>
<line x1="291.40" y1="470.00" x2="294.40" y2="470.00" stroke="#111" stroke-width="1.1"/>
<line x1="289.20" y1="467.50" x2="294.40" y2="467.50" stroke="#111" stroke-width="1.1"/>
<line x1="291.40" y1="465.00" x2="294.40" y2="465.00" stroke="#111" stroke-width="1.1"/>
<line x1="291.40" y1="462.50" x2="294.40" y2="462.50" stroke="#111" stroke-width="1.1"/>
<line x1="291.40" y1="460.00" x2="294.40" y2="460.00" stroke="#111" stroke-width="1.1"/>
<line x1="291.40" y1="457.50" x2="294.40" y2="457.50" stroke="#111" stroke-width="1.1"/>
<line x1="289.20" y1="455.00" x2="294.40" y2="455.00" stroke="#111" stroke-width="1.1"/>
<line x1="291.40" y1="452.50" x2="294.40" y2="452.50" stroke="#111" stroke-width="1.1"/>
<line x1="291.40" y1="450.00" x2="294.40" y2="450.00" stroke="#111" stroke-width="1.1"/>
<line x1="291.40" y1="447.50" x2="294.40" y2="447.50" stroke="#111" stroke-width="1.1"/>
<line x1="291.40" y1="445.00" x2="294.40" y2="445.00" stroke="#111" stroke-width="1.1"/>
<line x1="289.20" y1="442.50" x2="294.40" y2="442.50" stroke="#111" stroke-width="1.1"/>
<line x1="291.40" y1="440.00" x2="294.40" y2="440.00" stroke="#111" stroke-width="1.1"/>
<line x1="291.40" y1="437.50" x2="294.40" y2="437.50" stroke="#111" stroke-width="1.1"/>
<line x1="291.40" y1="435.00" x2="294.40" y2="435.00" stroke="#111" stroke-width="1.1"/>
<line x1="291.40" y1="432.50" x2="294.40" y2="432.50" stroke="#111" stroke-width="1.1"/>
<line x1="289.20" y1="430.00" x2="294.40" y2="430.00" stroke="#111" stroke-width="1.1"/>
<line x1="291.40" y1="427.50" x2="294.40" y2="427.50" stroke="#111" stroke-width="1.1"/>
<line x1="291.40" y1="425.00" x2="294.40" y2="425.00" stroke="#111" stroke-width="1.1"/>
<line x1="291.40" y1="422.50" x2="294.40" y2="422.50" stroke="#111" stroke-width="1.1"/>
<line x1="291.40" y1="420.00" x2="294.40" y2="420.00" stroke="#111" stroke-width="1.1"/>
<line x1="289.20" y1="417.50" x2="294.40" y2="417.50" stroke="#111" stroke-width="1.1"/>
<line x1="291.40" y1="415.00" x2="294.40" y2="415.00" stroke="#111" stroke-width="1.1"/>
<line x1="291.40" y1="412.50" x2="294.40" y2="412.50" stroke="#111" stroke-width="1.1"/>
<line x1="291.40" y1="410.00" x2="294.40" y2="410.00" stroke="#111" stroke-width="1.1"/>
<line x1="291.40" y1="407.50" x2="294.40" y2="407.50" stroke="#111" stroke-width="1.1"/>
<line x1="289.20" y1="405.00" x2="294.40" y2="405.00" stroke="#111" stroke-width="1.1"/>
<line x1="291.40" y1="402.50" x2="294.40" y2="402.50" stroke="#111" stroke-width="1.1"/>
<line x1="291.40" y1="400.00" x2="294.40" y2="400.00" stroke="#111" stroke-width="1.1"/>
<line x1="291.40" y1="397.50" x2="294.40" y2="397.50" stroke="#111" stroke-width="1.1"/>
<line x1="291.40" y1="395.00" x2="294.40" y2="395.00" stroke="#111" stroke-width="1.1"/>
<line x1="289.20" y1="392.50" x2="294.40" y2="392.50" stroke="#111" stroke-width="1.1"/>
<line x1="291.40" y1="390.00" x2="294.40" y2="390.00" stroke="#111" stroke-width="1.1"/>
<line x1="291.40" y1="387.50" x2="294.40" y2="387.50" stroke="#111" stroke-width="1.1"/>
<line x1="291.40" y1="385.00" x2="294.40" y2="385.00" stroke="#111" stroke-width="1.1"/>
<line x1="291.40" y1="382.50" x2="294.40" y2="382.50" stroke="#111" stroke-width="1.1"/>
<line x1="289.20" y1="380.00" x2="294.40" y2="380.00" stroke="#111" stroke-width="1.1"/>
<line x1="294.40" y1="480.50" x2="294.40" y2="483.60" stroke="#111" stroke-width="1.1"/>
<line x1="310.77" y1="480.50" x2="310.77" y2="482.80" stroke="#111" stroke-width="1.1"/>
<line x1="320.34" y1="480.50" x2="320.34" y2="482.80" stroke="#111" stroke-width="1.1"/>
<line x1="327.14" y1="480.50" x2="327.14" y2="482.80" stroke="#111" stroke-width="1.1"/>
<line x1="332.41" y1="480.50" x2="332.41" y2="482.80" stroke="#111" stroke-width="1.1"/>
<line x1="336.71" y1="480.50" x2="336.71" y2="482.80" stroke="#111" stroke-width="1.1"/>
<line x1="340.35" y1="480.50" x2="340.35" y2="482.80" stroke="#111" stroke-width="1.1"/>
<line x1="343.51" y1="480.50" x2="343.51" y2="482.80" stroke="#111" stroke-width="1.1"/>
<line x1="346.29" y1="480.50" x2="346.29" y2="482.80" stroke="#111" stroke-width="1.1"/>
<line x1="348.77" y1="480.50" x2="348.77" y2="483.60" stroke="#111" stroke-width="1.1"/>
<line x1="365.14" y1="480.50" x2="365.14" y2="482.80" stroke="#111" stroke-width="1.1"/>
<line x1="374.72" y1="480.50" x2="374.72" y2="482.80" stroke="#111" stroke-width="1.1"/>
<line x1="381.51" y1="480.50" x2="381.51" y2="482.80" stroke="#111" stroke-width="1.1"/>
<line x1="386.78" y1="480.50" x2="386.78" y2="482.80" stroke="#111" stroke-width="1.1"/>
<line x1="391.09" y1="480.50" x2="391.09" y2="482.80" stroke="#111" stroke-width="1.1"/>
<line x1="394.73" y1="480.50" x2="394.73" y2="482.80" stroke="#111" stroke-width="1.1"/>
<line x1="397.88" y1="480.50" x2="397.88" y2="482.80" stroke="#111" stroke-width="1.1"/>
<line x1="400.66" y1="480.50" x2="400.66" y2="482.80" stroke="#111" stroke-width="1.1"/>
<line x1="403.15" y1="480.50" x2="403.15" y2="483.60" stroke="#111" stroke-width="1.1"/>
<line x1="419.52" y1="480.50" x2="419.52" y2="482.80" stroke="#111" stroke-width="1.1"/>
<line x1="429.09" y1="480.50" x2="429.09" y2="482.80" stroke="#111" stroke-width="1.1"/>
<line x1="435.89" y1="480.50" x2="435.89" y2="482.80" stroke="#111" stroke-width="1.1"/>
<line x1="441.16" y1="480.50" x2="441.16" y2="482.80" stroke="#111" stroke-width="1.1"/>
<line x1="445.46" y1="480.50" x2="445.46" y2="482.80" stroke="#111" stroke-width="1.1"/>
<line x1="449.10" y1="480.50" x2="449.10" y2="482.80" stroke="#111" stroke-width="1.1"/>
<line x1="452.26" y1="480.50" x2="452.26" y2="482.80" stroke="#111" stroke-width="1.1"/>
<line x1="455.04" y1="480.50" x2="455.04" y2="482.80" stroke="#111" stroke-width="1.1"/>
<line x1="457.52" y1="480.50" x2="457.52" y2="483.60" stroke="#111" stroke-width="1.1"/>
<line x1="473.89" y1="480.50" x2="473.89" y2="482.80" stroke="#111" stroke-width="1.1"/>
<line x1="483.47" y1="480.50" x2="483.47" y2="482.80" stroke="#111" stroke-width="1.1"/>
<line x1="490.26" y1="480.50" x2="490.26" y2="482.80" stroke="#111" stroke-width="1.1"/>
<line x1="495.53" y1="480.50" x2="495.53" y2="482.80" stroke="#111" stroke-width="1.1"/>
<line x1="499.84" y1="480.50" x2="499.84" y2="482.80" stroke="#111" stroke-width="1.1"/>
<line x1="503.48" y1="480.50" x2="503.48" y2="482.80" stroke="#111" stroke-width="1.1"/>
<line x1="506.63" y1="480.50" x2="506.63" y2="482.80" stroke="#111" stroke-width="1.1"/>
<line x1="509.41" y1="480.50" x2="509.41" y2="482.80" stroke="#111" stroke-width="1.1"/>
<line x1="511.90" y1="480.50" x2="511.90" y2="483.60" stroke="#111" stroke-width="1.1"/>
<text x="288.00" y="495.10" font-size="10.6" font-weight="bold" text-anchor="start" fill="#111" textLength="7.80" lengthAdjust="spacingAndGlyphs" stroke="#111" stroke-width="0.3">10</text>
<text x="296.30" y="491.10" font-size="10.0" font-weight="bold" text-anchor="start" fill="#111" textLength="5.30" lengthAdjust="spacingAndGlyphs" stroke="#111" stroke-width="0.3">0</text>
<text x="342.38" y="495.10" font-size="10.6" font-weight="bold" text-anchor="start" fill="#111" textLength="7.80" lengthAdjust="spacingAndGlyphs" stroke="#111" stroke-width="0.3">10</text>
<text x="350.68" y="491.10" font-size="10.0" font-weight="bold" text-anchor="start" fill="#111" textLength="5.30" lengthAdjust="spacingAndGlyphs" stroke="#111" stroke-width="0.3">1</text>
<text x="396.75" y="495.10" font-size="10.6" font-weight="bold" text-anchor="start" fill="#111" textLength="7.80" lengthAdjust="spacingAndGlyphs" stroke="#111" stroke-width="0.3">10</text>
<text x="405.05" y="491.10" font-size="10.0" font-weight="bold" text-anchor="start" fill="#111" textLength="5.30" lengthAdjust="spacingAndGlyphs" stroke="#111" stroke-width="0.3">2</text>
<text x="451.12" y="495.10" font-size="10.6" font-weight="bold" text-anchor="start" fill="#111" textLength="7.80" lengthAdjust="spacingAndGlyphs" stroke="#111" stroke-width="0.3">10</text>
<text x="459.43" y="491.10" font-size="10.0" font-weight="bold" text-anchor="start" fill="#111" textLength="5.30" lengthAdjust="spacingAndGlyphs" stroke="#111" stroke-width="0.3">3</text>
<text x="504.70" y="495.10" font-size="10.6" font-weight="bold" text-anchor="start" fill="#111" textLength="7.80" lengthAdjust="spacingAndGlyphs" stroke="#111" stroke-width="0.3">10</text>
<text x="513.00" y="491.10" font-size="10.0" font-weight="bold" text-anchor="start" fill="#111" textLength="5.30" lengthAdjust="spacingAndGlyphs" stroke="#111" stroke-width="0.3">4</text>
<line x1="376.70" y1="427.80" x2="497.00" y2="427.80" stroke="#111" stroke-width="1.4"/>
<line x1="376.70" y1="419.20" x2="376.70" y2="436.40" stroke="#111" stroke-width="1.4"/>
<line x1="497.00" y1="419.20" x2="497.00" y2="436.40" stroke="#111" stroke-width="1.4"/>
<path d="M292.50 654.20V581.7H293.34V581.7H294.18V633.5H295.02V643.8H295.86V643.8H296.70V633.5H297.53V633.5H298.37V623.1H299.21V623.1H300.05V612.8H300.89V612.8H301.73V612.8H302.57V602.4H303.41V623.1H304.25V602.4H305.09V612.8H305.93V623.1H306.76V623.1H307.60V612.8H308.44V612.8H309.28V612.8H310.12V602.4H310.96V602.4H311.80V612.8H312.64V602.4H313.48V602.4H314.32V612.8H315.15V623.1H315.99V623.1H316.83V581.7H317.67V592.0H318.51V592.0H319.35V592.0H320.19V612.8H321.03V602.4H321.87V592.0H322.71V602.4H323.55V592.0H324.38V602.4H325.22V581.7H326.06V592.0H326.90V581.7H327.74V592.0H328.58V581.7H329.42V581.7H330.26V592.0H331.10V592.0H331.94V592.0H332.78V581.7H333.61V602.4H334.45V602.4H335.29V612.8H336.13V623.1H336.97V592.0H337.81V612.8H338.65V612.8H339.49V602.4H340.33V623.1H341.17V623.1H342.00V623.1H342.84V612.8H343.68V612.8H344.52V623.1H345.36V623.1H346.20V623.1H347.04V623.1H347.88V633.5H348.72V623.1H349.56V623.1H350.40V633.5H351.23V633.5H352.07V633.5H352.91V643.8H353.75V643.8H354.59V633.5H355.43V633.5H356.27V633.5H357.11V643.8H357.95V643.8H358.79V643.8H359.62V643.8H360.46V643.8H361.30V643.8H362.14V633.5H362.98V633.5H363.82V643.8H364.66V643.8H365.50V643.8H366.34V643.8H367.18V643.8H368.02V643.8H368.85V643.8H369.69V643.8H370.53V643.8H371.37V643.8H372.21V643.8H373.05V643.8H373.89V643.8H374.73V643.8H375.57V643.8H376.41V643.8H377.25V643.8H378.08V643.8H378.92V643.8H379.76V633.5H380.60V643.8H381.44V643.8H382.28V643.8H383.12V643.8H383.96V643.8H384.80V643.8H385.64V643.8H386.48V643.8H387.31V643.8H388.15V643.8H388.99V643.8H389.83V643.8H390.67V643.8H391.51V643.8H392.35V643.8H393.19V643.8H394.03V633.5H394.87V643.8H395.70V643.8H396.54V643.8H397.38V643.8H398.22V643.8H399.06V633.5H399.90V633.5H400.74V643.8H401.58V643.8H402.42V643.8H403.26V643.8H404.10V643.8H404.93V643.8H405.77V643.8H406.61V643.8H407.45V643.8H408.29V643.8H409.13V643.8H409.97V643.8H410.81V643.8H411.65V643.8H412.49V643.8H413.32V643.8H414.16V643.8H415.00V643.8H415.84V643.8H416.68V643.8H417.52V643.8H418.36V643.8H419.20V643.8H420.04V643.8H420.88V643.8H421.72V643.8H422.55V643.8H423.39V643.8H424.23V633.5H425.07V633.5H425.91V643.8H426.75V643.8H427.59V643.8H428.43V643.8H429.27V643.8H430.11V643.8H430.95V643.8H431.78V643.8H432.62V643.8H433.46V643.8H434.30V643.8H435.14V643.8H435.98V643.8H436.82V643.8H437.66V643.8H438.50V643.8H439.34V643.8H440.18V643.8H441.01V643.8H441.85V643.8H442.69V643.8H443.53V643.8H444.37V643.8H445.21V633.5H446.05V633.5H446.89V643.8H447.73V654.2H448.57V654.2H449.40V654.2H450.24V654.2H451.08V654.2H451.92V654.2H452.76V654.2H453.60V654.2H454.44V654.2H455.28V654.2H456.12V654.2H456.96V654.2H457.80V654.2H458.63V654.2H459.47V654.2H460.31V654.2H461.15V654.2H461.99V654.2H462.83V654.2H463.67V654.2H464.51V654.2H465.35V654.2H466.19V654.2H467.03V654.2H467.86V654.2H468.70V654.2H469.54V654.2H470.38V654.2H471.22V654.2H472.06V654.2H472.90V654.2H473.74V654.2H474.58V654.2H475.42V654.2H476.25V654.2H477.09V654.2H477.93V654.2H478.77V654.2H479.61V654.2H480.45V654.2H481.29V654.2H482.13V654.2H482.97V654.2H483.81V654.2H484.65V654.2H485.48V654.2H486.32V654.2H487.16V654.2H488.00V654.2H488.84V654.2H489.68V654.2H490.52V654.2H491.36V654.2H492.20V654.2H493.04V654.2H493.88V654.2H494.71V654.2H495.55V654.2H496.39V654.2H497.23V654.2H498.07V654.2H498.91V654.2H499.75V654.2H500.59V654.2H501.43V654.2H502.27V654.2H503.10V654.2H503.94V654.2H504.78V654.2H505.62V654.2H506.46V654.2H507.30V654.20Z" fill="#0c0c0c" stroke="#0c0c0c" stroke-width="0.3"/>
<rect x="292.5" y="550.6" width="214.80" height="103.60" fill="none" stroke="#111" stroke-width="1.3"/>
<line x1="287.30" y1="654.20" x2="292.50" y2="654.20" stroke="#111" stroke-width="1.1"/>
<line x1="289.50" y1="651.61" x2="292.50" y2="651.61" stroke="#111" stroke-width="1.1"/>
<line x1="289.50" y1="649.02" x2="292.50" y2="649.02" stroke="#111" stroke-width="1.1"/>
<line x1="289.50" y1="646.43" x2="292.50" y2="646.43" stroke="#111" stroke-width="1.1"/>
<line x1="289.50" y1="643.84" x2="292.50" y2="643.84" stroke="#111" stroke-width="1.1"/>
<line x1="287.30" y1="641.25" x2="292.50" y2="641.25" stroke="#111" stroke-width="1.1"/>
<line x1="289.50" y1="638.66" x2="292.50" y2="638.66" stroke="#111" stroke-width="1.1"/>
<line x1="289.50" y1="636.07" x2="292.50" y2="636.07" stroke="#111" stroke-width="1.1"/>
<line x1="289.50" y1="633.48" x2="292.50" y2="633.48" stroke="#111" stroke-width="1.1"/>
<line x1="289.50" y1="630.89" x2="292.50" y2="630.89" stroke="#111" stroke-width="1.1"/>
<line x1="287.30" y1="628.30" x2="292.50" y2="628.30" stroke="#111" stroke-width="1.1"/>
<line x1="289.50" y1="625.71" x2="292.50" y2="625.71" stroke="#111" stroke-width="1.1"/>
<line x1="289.50" y1="623.12" x2="292.50" y2="623.12" stroke="#111" stroke-width="1.1"/>
<line x1="289.50" y1="620.53" x2="292.50" y2="620.53" stroke="#111" stroke-width="1.1"/>
<line x1="289.50" y1="617.94" x2="292.50" y2="617.94" stroke="#111" stroke-width="1.1"/>
<line x1="287.30" y1="615.35" x2="292.50" y2="615.35" stroke="#111" stroke-width="1.1"/>
<line x1="289.50" y1="612.76" x2="292.50" y2="612.76" stroke="#111" stroke-width="1.1"/>
<line x1="289.50" y1="610.17" x2="292.50" y2="610.17" stroke="#111" stroke-width="1.1"/>
<line x1="289.50" y1="607.58" x2="292.50" y2="607.58" stroke="#111" stroke-width="1.1"/>
<line x1="289.50" y1="604.99" x2="292.50" y2="604.99" stroke="#111" stroke-width="1.1"/>
<line x1="287.30" y1="602.40" x2="292.50" y2="602.40" stroke="#111" stroke-width="1.1"/>
<line x1="289.50" y1="599.81" x2="292.50" y2="599.81" stroke="#111" stroke-width="1.1"/>
<line x1="289.50" y1="597.22" x2="292.50" y2="597.22" stroke="#111" stroke-width="1.1"/>
<line x1="289.50" y1="594.63" x2="292.50" y2="594.63" stroke="#111" stroke-width="1.1"/>
<line x1="289.50" y1="592.04" x2="292.50" y2="592.04" stroke="#111" stroke-width="1.1"/>
<line x1="287.30" y1="589.45" x2="292.50" y2="589.45" stroke="#111" stroke-width="1.1"/>
<line x1="289.50" y1="586.86" x2="292.50" y2="586.86" stroke="#111" stroke-width="1.1"/>
<line x1="289.50" y1="584.27" x2="292.50" y2="584.27" stroke="#111" stroke-width="1.1"/>
<line x1="289.50" y1="581.68" x2="292.50" y2="581.68" stroke="#111" stroke-width="1.1"/>
<line x1="289.50" y1="579.09" x2="292.50" y2="579.09" stroke="#111" stroke-width="1.1"/>
<line x1="287.30" y1="576.50" x2="292.50" y2="576.50" stroke="#111" stroke-width="1.1"/>
<line x1="289.50" y1="573.91" x2="292.50" y2="573.91" stroke="#111" stroke-width="1.1"/>
<line x1="289.50" y1="571.32" x2="292.50" y2="571.32" stroke="#111" stroke-width="1.1"/>
<line x1="289.50" y1="568.73" x2="292.50" y2="568.73" stroke="#111" stroke-width="1.1"/>
<line x1="289.50" y1="566.14" x2="292.50" y2="566.14" stroke="#111" stroke-width="1.1"/>
<line x1="287.30" y1="563.55" x2="292.50" y2="563.55" stroke="#111" stroke-width="1.1"/>
<line x1="289.50" y1="560.96" x2="292.50" y2="560.96" stroke="#111" stroke-width="1.1"/>
<line x1="289.50" y1="558.37" x2="292.50" y2="558.37" stroke="#111" stroke-width="1.1"/>
<line x1="289.50" y1="555.78" x2="292.50" y2="555.78" stroke="#111" stroke-width="1.1"/>
<line x1="289.50" y1="553.19" x2="292.50" y2="553.19" stroke="#111" stroke-width="1.1"/>
<line x1="287.30" y1="550.60" x2="292.50" y2="550.60" stroke="#111" stroke-width="1.1"/>
<line x1="292.50" y1="654.70" x2="292.50" y2="657.80" stroke="#111" stroke-width="1.1"/>
<line x1="308.67" y1="654.70" x2="308.67" y2="657.00" stroke="#111" stroke-width="1.1"/>
<line x1="318.12" y1="654.70" x2="318.12" y2="657.00" stroke="#111" stroke-width="1.1"/>
<line x1="324.83" y1="654.70" x2="324.83" y2="657.00" stroke="#111" stroke-width="1.1"/>
<line x1="330.03" y1="654.70" x2="330.03" y2="657.00" stroke="#111" stroke-width="1.1"/>
<line x1="334.29" y1="654.70" x2="334.29" y2="657.00" stroke="#111" stroke-width="1.1"/>
<line x1="337.88" y1="654.70" x2="337.88" y2="657.00" stroke="#111" stroke-width="1.1"/>
<line x1="341.00" y1="654.70" x2="341.00" y2="657.00" stroke="#111" stroke-width="1.1"/>
<line x1="343.74" y1="654.70" x2="343.74" y2="657.00" stroke="#111" stroke-width="1.1"/>
<line x1="346.20" y1="654.70" x2="346.20" y2="657.80" stroke="#111" stroke-width="1.1"/>
<line x1="362.37" y1="654.70" x2="362.37" y2="657.00" stroke="#111" stroke-width="1.1"/>
<line x1="371.82" y1="654.70" x2="371.82" y2="657.00" stroke="#111" stroke-width="1.1"/>
<line x1="378.53" y1="654.70" x2="378.53" y2="657.00" stroke="#111" stroke-width="1.1"/>
<line x1="383.73" y1="654.70" x2="383.73" y2="657.00" stroke="#111" stroke-width="1.1"/>
<line x1="387.99" y1="654.70" x2="387.99" y2="657.00" stroke="#111" stroke-width="1.1"/>
<line x1="391.58" y1="654.70" x2="391.58" y2="657.00" stroke="#111" stroke-width="1.1"/>
<line x1="394.70" y1="654.70" x2="394.70" y2="657.00" stroke="#111" stroke-width="1.1"/>
<line x1="397.44" y1="654.70" x2="397.44" y2="657.00" stroke="#111" stroke-width="1.1"/>
<line x1="399.90" y1="654.70" x2="399.90" y2="657.80" stroke="#111" stroke-width="1.1"/>
<line x1="416.07" y1="654.70" x2="416.07" y2="657.00" stroke="#111" stroke-width="1.1"/>
<line x1="425.52" y1="654.70" x2="425.52" y2="657.00" stroke="#111" stroke-width="1.1"/>
<line x1="432.23" y1="654.70" x2="432.23" y2="657.00" stroke="#111" stroke-width="1.1"/>
<line x1="437.43" y1="654.70" x2="437.43" y2="657.00" stroke="#111" stroke-width="1.1"/>
<line x1="441.69" y1="654.70" x2="441.69" y2="657.00" stroke="#111" stroke-width="1.1"/>
<line x1="445.28" y1="654.70" x2="445.28" y2="657.00" stroke="#111" stroke-width="1.1"/>
<line x1="448.40" y1="654.70" x2="448.40" y2="657.00" stroke="#111" stroke-width="1.1"/>
<line x1="451.14" y1="654.70" x2="451.14" y2="657.00" stroke="#111" stroke-width="1.1"/>
<line x1="453.60" y1="654.70" x2="453.60" y2="657.80" stroke="#111" stroke-width="1.1"/>
<line x1="469.77" y1="654.70" x2="469.77" y2="657.00" stroke="#111" stroke-width="1.1"/>
<line x1="479.22" y1="654.70" x2="479.22" y2="657.00" stroke="#111" stroke-width="1.1"/>
<line x1="485.93" y1="654.70" x2="485.93" y2="657.00" stroke="#111" stroke-width="1.1"/>
<line x1="491.13" y1="654.70" x2="491.13" y2="657.00" stroke="#111" stroke-width="1.1"/>
<line x1="495.39" y1="654.70" x2="495.39" y2="657.00" stroke="#111" stroke-width="1.1"/>
<line x1="498.98" y1="654.70" x2="498.98" y2="657.00" stroke="#111" stroke-width="1.1"/>
<line x1="502.10" y1="654.70" x2="502.10" y2="657.00" stroke="#111" stroke-width="1.1"/>
<line x1="504.84" y1="654.70" x2="504.84" y2="657.00" stroke="#111" stroke-width="1.1"/>
<line x1="507.30" y1="654.70" x2="507.30" y2="657.80" stroke="#111" stroke-width="1.1"/>
<text x="286.10" y="668.80" font-size="10.6" font-weight="bold" text-anchor="start" fill="#111" textLength="7.80" lengthAdjust="spacingAndGlyphs" stroke="#111" stroke-width="0.3">10</text>
<text x="294.40" y="664.80" font-size="10.0" font-weight="bold" text-anchor="start" fill="#111" textLength="5.30" lengthAdjust="spacingAndGlyphs" stroke="#111" stroke-width="0.3">0</text>
<text x="339.80" y="668.80" font-size="10.6" font-weight="bold" text-anchor="start" fill="#111" textLength="7.80" lengthAdjust="spacingAndGlyphs" stroke="#111" stroke-width="0.3">10</text>
<text x="348.10" y="664.80" font-size="10.0" font-weight="bold" text-anchor="start" fill="#111" textLength="5.30" lengthAdjust="spacingAndGlyphs" stroke="#111" stroke-width="0.3">1</text>
<text x="393.50" y="668.80" font-size="10.6" font-weight="bold" text-anchor="start" fill="#111" textLength="7.80" lengthAdjust="spacingAndGlyphs" stroke="#111" stroke-width="0.3">10</text>
<text x="401.80" y="664.80" font-size="10.0" font-weight="bold" text-anchor="start" fill="#111" textLength="5.30" lengthAdjust="spacingAndGlyphs" stroke="#111" stroke-width="0.3">2</text>
<text x="447.20" y="668.80" font-size="10.6" font-weight="bold" text-anchor="start" fill="#111" textLength="7.80" lengthAdjust="spacingAndGlyphs" stroke="#111" stroke-width="0.3">10</text>
<text x="455.50" y="664.80" font-size="10.0" font-weight="bold" text-anchor="start" fill="#111" textLength="5.30" lengthAdjust="spacingAndGlyphs" stroke="#111" stroke-width="0.3">3</text>
<text x="500.10" y="668.80" font-size="10.6" font-weight="bold" text-anchor="start" fill="#111" textLength="7.80" lengthAdjust="spacingAndGlyphs" stroke="#111" stroke-width="0.3">10</text>
<text x="508.40" y="664.80" font-size="10.0" font-weight="bold" text-anchor="start" fill="#111" textLength="5.30" lengthAdjust="spacingAndGlyphs" stroke="#111" stroke-width="0.3">4</text>
<line x1="373.80" y1="600.80" x2="493.30" y2="600.80" stroke="#111" stroke-width="1.4"/>
<line x1="373.80" y1="592.00" x2="373.80" y2="609.50" stroke="#111" stroke-width="1.4"/>
<line x1="493.30" y1="592.00" x2="493.30" y2="609.50" stroke="#111" stroke-width="1.4"/>
<text x="392.00" y="165.00" font-size="8" font-weight="bold" text-anchor="start" fill="#111" textLength="19.50" lengthAdjust="spacingAndGlyphs">FITC</text>
<text x="386.60" y="345.20" font-size="13.2" font-weight="normal" text-anchor="start" fill="#111" textLength="23.50" lengthAdjust="spacingAndGlyphs" stroke="#111" stroke-width="0.25">GFP</text>
<text x="388.60" y="514.90" font-size="13.2" font-weight="normal" text-anchor="start" fill="#111" textLength="23.50" lengthAdjust="spacingAndGlyphs" stroke="#111" stroke-width="0.25">GFP</text>
<text x="383.20" y="688.20" font-size="13.2" font-weight="normal" text-anchor="start" fill="#111" textLength="23.50" lengthAdjust="spacingAndGlyphs" stroke="#111" stroke-width="0.25">GFP</text>
<text x="454.30" y="106.40" font-size="8.7" font-weight="normal" text-anchor="start" fill="#111" textLength="11.50" lengthAdjust="spacingAndGlyphs" stroke="#111" stroke-width="0.3">M1</text>
<text x="437.50" y="265.80" font-size="8.7" font-weight="normal" text-anchor="start" fill="#111" textLength="12.00" lengthAdjust="spacingAndGlyphs" stroke="#111" stroke-width="0.3">M1</text>
<text x="437.50" y="440.40" font-size="8.7" font-weight="normal" text-anchor="start" fill="#111" textLength="12.00" lengthAdjust="spacingAndGlyphs" stroke="#111" stroke-width="0.3">M1</text>
<text x="434.70" y="612.20" font-size="8.7" font-weight="normal" text-anchor="start" fill="#111" textLength="12.00" lengthAdjust="spacingAndGlyphs" stroke="#111" stroke-width="0.3">M1</text>
<text x="405.50" y="230.20" font-size="9.4" font-weight="normal" text-anchor="start" fill="#111" textLength="77.00" lengthAdjust="spacingAndGlyphs" stroke="#111" stroke-width="0.3">GFP+ TOT: 8.2%</text>
<text x="399.00" y="411.40" font-size="9.4" font-weight="normal" text-anchor="start" fill="#111" textLength="76.50" lengthAdjust="spacingAndGlyphs" stroke="#111" stroke-width="0.3">GFP+ TOT: 2.1%</text>
<text x="392.30" y="581.90" font-size="9.4" font-weight="normal" text-anchor="start" fill="#111" textLength="76.00" lengthAdjust="spacingAndGlyphs" stroke="#111" stroke-width="0.3">GFP+ TOT: 0.9%</text>
<text x="0.90" y="20.60" font-size="27" font-weight="bold" text-anchor="start" fill="#111">A</text>
<text x="286.20" y="20.60" font-size="27" font-weight="bold" text-anchor="start" fill="#111">B</text>
<text x="-0.60" y="741.60" font-size="25.5" font-weight="bold" text-anchor="start" fill="#111">C</text>
<text x="10.80" y="103.80" font-size="12.7" font-weight="normal" text-anchor="start" fill="#111" textLength="53.20" lengthAdjust="spacingAndGlyphs" stroke="#111" stroke-width="0.25">ISOTYPE</text>
<text x="5.50" y="248.30" font-size="12.7" font-weight="normal" text-anchor="start" fill="#111" textLength="54.00" lengthAdjust="spacingAndGlyphs" stroke="#111" stroke-width="0.25">PRIMARY</text>
<text x="5.50" y="265.50" font-size="12.7" font-weight="normal" text-anchor="start" fill="#111" textLength="37.50" lengthAdjust="spacingAndGlyphs" stroke="#111" stroke-width="0.25">MOUSE</text>
<text x="1.90" y="409.20" font-size="12.7" font-weight="normal" text-anchor="start" fill="#111" textLength="72.20" lengthAdjust="spacingAndGlyphs" stroke="#111" stroke-width="0.25">SECONDARY</text>
<text x="1.90" y="425.90" font-size="12.7" font-weight="normal" text-anchor="start" fill="#111" textLength="40.40" lengthAdjust="spacingAndGlyphs" stroke="#111" stroke-width="0.25">MOUSE</text>
<text x="4.20" y="567.90" font-size="12.7" font-weight="normal" text-anchor="start" fill="#111" textLength="59.30" lengthAdjust="spacingAndGlyphs" stroke="#111" stroke-width="0.25">TERTIARY</text>
<text x="4.00" y="584.70" font-size="12.7" font-weight="normal" text-anchor="start" fill="#111" textLength="39.80" lengthAdjust="spacingAndGlyphs" stroke="#111" stroke-width="0.25">MOUSE</text>
<line x1="78.50" y1="727.70" x2="78.50" y2="1010.50" stroke="#444" stroke-width="1.0"/>
<line x1="78.50" y1="1010.00" x2="420.30" y2="1010.00" stroke="#444" stroke-width="1.0"/>
<line x1="74.50" y1="728.00" x2="78.50" y2="728.00" stroke="#333" stroke-width="1.0"/>
<text x="67.30" y="731.90" font-size="13.5" font-weight="bold" text-anchor="end" fill="#111" textLength="34.20" lengthAdjust="spacingAndGlyphs">2.500</text>
<line x1="74.50" y1="775.00" x2="78.50" y2="775.00" stroke="#333" stroke-width="1.0"/>
<text x="67.30" y="778.90" font-size="13.5" font-weight="bold" text-anchor="end" fill="#111" textLength="34.20" lengthAdjust="spacingAndGlyphs">2.000</text>
<line x1="74.50" y1="822.00" x2="78.50" y2="822.00" stroke="#333" stroke-width="1.0"/>
<text x="67.30" y="825.90" font-size="13.5" font-weight="bold" text-anchor="end" fill="#111" textLength="34.20" lengthAdjust="spacingAndGlyphs">1.500</text>
<line x1="74.50" y1="869.00" x2="78.50" y2="869.00" stroke="#333" stroke-width="1.0"/>
<text x="67.30" y="872.90" font-size="13.5" font-weight="bold" text-anchor="end" fill="#111" textLength="34.20" lengthAdjust="spacingAndGlyphs">1.000</text>
<line x1="74.50" y1="916.00" x2="78.50" y2="916.00" stroke="#333" stroke-width="1.0"/>
<text x="67.30" y="919.90" font-size="13.5" font-weight="bold" text-anchor="end" fill="#111" textLength="34.20" lengthAdjust="spacingAndGlyphs">0.500</text>
<line x1="74.50" y1="963.00" x2="78.50" y2="963.00" stroke="#333" stroke-width="1.0"/>
<text x="67.30" y="966.90" font-size="13.5" font-weight="bold" text-anchor="end" fill="#111" textLength="34.20" lengthAdjust="spacingAndGlyphs">0.000</text>
<line x1="74.50" y1="1010.00" x2="78.50" y2="1010.00" stroke="#333" stroke-width="1.0"/>
<text x="67.30" y="1013.90" font-size="13.5" font-weight="bold" text-anchor="end" fill="#111" textLength="38.60" lengthAdjust="spacingAndGlyphs">-0.500</text>
<line x1="78.50" y1="1010.00" x2="78.50" y2="1013.80" stroke="#444" stroke-width="1.0"/>
<text x="82.50" y="1022.00" transform="rotate(-90 82.50 1022.00)" font-size="13.5" font-weight="bold" text-anchor="end" fill="#111" textLength="6.80" lengthAdjust="spacingAndGlyphs">0</text>
<line x1="87.05" y1="1010.00" x2="87.05" y2="1013.80" stroke="#444" stroke-width="1.0"/>
<line x1="95.59" y1="1010.00" x2="95.59" y2="1013.80" stroke="#444" stroke-width="1.0"/>
<text x="99.59" y="1022.00" transform="rotate(-90 99.59 1022.00)" font-size="13.5" font-weight="bold" text-anchor="end" fill="#111" textLength="6.80" lengthAdjust="spacingAndGlyphs">2</text>
<line x1="104.13" y1="1010.00" x2="104.13" y2="1013.80" stroke="#444" stroke-width="1.0"/>
<line x1="112.68" y1="1010.00" x2="112.68" y2="1013.80" stroke="#444" stroke-width="1.0"/>
<text x="116.68" y="1022.00" transform="rotate(-90 116.68 1022.00)" font-size="13.5" font-weight="bold" text-anchor="end" fill="#111" textLength="6.80" lengthAdjust="spacingAndGlyphs">4</text>
<line x1="121.22" y1="1010.00" x2="121.22" y2="1013.80" stroke="#444" stroke-width="1.0"/>
<line x1="129.77" y1="1010.00" x2="129.77" y2="1013.80" stroke="#444" stroke-width="1.0"/>
<text x="133.77" y="1022.00" transform="rotate(-90 133.77 1022.00)" font-size="13.5" font-weight="bold" text-anchor="end" fill="#111" textLength="6.80" lengthAdjust="spacingAndGlyphs">6</text>
<line x1="138.31" y1="1010.00" x2="138.31" y2="1013.80" stroke="#444" stroke-width="1.0"/>
<line x1="146.86" y1="1010.00" x2="146.86" y2="1013.80" stroke="#444" stroke-width="1.0"/>
<text x="150.86" y="1022.00" transform="rotate(-90 150.86 1022.00)" font-size="13.5" font-weight="bold" text-anchor="end" fill="#111" textLength="6.80" lengthAdjust="spacingAndGlyphs">8</text>
<line x1="155.41" y1="1010.00" x2="155.41" y2="1013.80" stroke="#444" stroke-width="1.0"/>
<line x1="163.95" y1="1010.00" x2="163.95" y2="1013.80" stroke="#444" stroke-width="1.0"/>
<text x="167.95" y="1022.00" transform="rotate(-90 167.95 1022.00)" font-size="13.5" font-weight="bold" text-anchor="end" fill="#111" textLength="13.60" lengthAdjust="spacingAndGlyphs">10</text>
<line x1="172.50" y1="1010.00" x2="172.50" y2="1013.80" stroke="#444" stroke-width="1.0"/>
<line x1="181.04" y1="1010.00" x2="181.04" y2="1013.80" stroke="#444" stroke-width="1.0"/>
<text x="185.04" y="1022.00" transform="rotate(-90 185.04 1022.00)" font-size="13.5" font-weight="bold" text-anchor="end" fill="#111" textLength="13.60" lengthAdjust="spacingAndGlyphs">12</text>
<line x1="189.58" y1="1010.00" x2="189.58" y2="1013.80" stroke="#444" stroke-width="1.0"/>
<line x1="198.13" y1="1010.00" x2="198.13" y2="1013.80" stroke="#444" stroke-width="1.0"/>
<text x="202.13" y="1022.00" transform="rotate(-90 202.13 1022.00)" font-size="13.5" font-weight="bold" text-anchor="end" fill="#111" textLength="13.60" lengthAdjust="spacingAndGlyphs">14</text>
<line x1="206.68" y1="1010.00" x2="206.68" y2="1013.80" stroke="#444" stroke-width="1.0"/>
<line x1="215.22" y1="1010.00" x2="215.22" y2="1013.80" stroke="#444" stroke-width="1.0"/>
<text x="219.22" y="1022.00" transform="rotate(-90 219.22 1022.00)" font-size="13.5" font-weight="bold" text-anchor="end" fill="#111" textLength="13.60" lengthAdjust="spacingAndGlyphs">16</text>
<line x1="223.76" y1="1010.00" x2="223.76" y2="1013.80" stroke="#444" stroke-width="1.0"/>
<line x1="232.31" y1="1010.00" x2="232.31" y2="1013.80" stroke="#444" stroke-width="1.0"/>
<text x="236.31" y="1022.00" transform="rotate(-90 236.31 1022.00)" font-size="13.5" font-weight="bold" text-anchor="end" fill="#111" textLength="13.60" lengthAdjust="spacingAndGlyphs">18</text>
<line x1="240.85" y1="1010.00" x2="240.85" y2="1013.80" stroke="#444" stroke-width="1.0"/>
<line x1="249.40" y1="1010.00" x2="249.40" y2="1013.80" stroke="#444" stroke-width="1.0"/>
<text x="253.40" y="1022.00" transform="rotate(-90 253.40 1022.00)" font-size="13.5" font-weight="bold" text-anchor="end" fill="#111" textLength="13.60" lengthAdjust="spacingAndGlyphs">20</text>
<line x1="257.94" y1="1010.00" x2="257.94" y2="1013.80" stroke="#444" stroke-width="1.0"/>
<line x1="266.49" y1="1010.00" x2="266.49" y2="1013.80" stroke="#444" stroke-width="1.0"/>
<text x="270.49" y="1022.00" transform="rotate(-90 270.49 1022.00)" font-size="13.5" font-weight="bold" text-anchor="end" fill="#111" textLength="13.60" lengthAdjust="spacingAndGlyphs">22</text>
<line x1="275.03" y1="1010.00" x2="275.03" y2="1013.80" stroke="#444" stroke-width="1.0"/>
<line x1="283.58" y1="1010.00" x2="283.58" y2="1013.80" stroke="#444" stroke-width="1.0"/>
<text x="287.58" y="1022.00" transform="rotate(-90 287.58 1022.00)" font-size="13.5" font-weight="bold" text-anchor="end" fill="#111" textLength="13.60" lengthAdjust="spacingAndGlyphs">24</text>
<line x1="292.12" y1="1010.00" x2="292.12" y2="1013.80" stroke="#444" stroke-width="1.0"/>
<line x1="300.67" y1="1010.00" x2="300.67" y2="1013.80" stroke="#444" stroke-width="1.0"/>
<text x="304.67" y="1022.00" transform="rotate(-90 304.67 1022.00)" font-size="13.5" font-weight="bold" text-anchor="end" fill="#111" textLength="13.60" lengthAdjust="spacingAndGlyphs">26</text>
<line x1="309.22" y1="1010.00" x2="309.22" y2="1013.80" stroke="#444" stroke-width="1.0"/>
<line x1="317.76" y1="1010.00" x2="317.76" y2="1013.80" stroke="#444" stroke-width="1.0"/>
<text x="321.76" y="1022.00" transform="rotate(-90 321.76 1022.00)" font-size="13.5" font-weight="bold" text-anchor="end" fill="#111" textLength="13.60" lengthAdjust="spacingAndGlyphs">28</text>
<line x1="326.31" y1="1010.00" x2="326.31" y2="1013.80" stroke="#444" stroke-width="1.0"/>
<line x1="334.85" y1="1010.00" x2="334.85" y2="1013.80" stroke="#444" stroke-width="1.0"/>
<text x="338.85" y="1022.00" transform="rotate(-90 338.85 1022.00)" font-size="13.5" font-weight="bold" text-anchor="end" fill="#111" textLength="13.60" lengthAdjust="spacingAndGlyphs">30</text>
<line x1="343.39" y1="1010.00" x2="343.39" y2="1013.80" stroke="#444" stroke-width="1.0"/>
<line x1="351.94" y1="1010.00" x2="351.94" y2="1013.80" stroke="#444" stroke-width="1.0"/>
<text x="355.94" y="1022.00" transform="rotate(-90 355.94 1022.00)" font-size="13.5" font-weight="bold" text-anchor="end" fill="#111" textLength="13.60" lengthAdjust="spacingAndGlyphs">32</text>
<line x1="360.49" y1="1010.00" x2="360.49" y2="1013.80" stroke="#444" stroke-width="1.0"/>
<line x1="369.03" y1="1010.00" x2="369.03" y2="1013.80" stroke="#444" stroke-width="1.0"/>
<text x="373.03" y="1022.00" transform="rotate(-90 373.03 1022.00)" font-size="13.5" font-weight="bold" text-anchor="end" fill="#111" textLength="13.60" lengthAdjust="spacingAndGlyphs">34</text>
<line x1="377.57" y1="1010.00" x2="377.57" y2="1013.80" stroke="#444" stroke-width="1.0"/>
<line x1="386.12" y1="1010.00" x2="386.12" y2="1013.80" stroke="#444" stroke-width="1.0"/>
<text x="390.12" y="1022.00" transform="rotate(-90 390.12 1022.00)" font-size="13.5" font-weight="bold" text-anchor="end" fill="#111" textLength="13.60" lengthAdjust="spacingAndGlyphs">36</text>
<line x1="394.67" y1="1010.00" x2="394.67" y2="1013.80" stroke="#444" stroke-width="1.0"/>
<line x1="403.21" y1="1010.00" x2="403.21" y2="1013.80" stroke="#444" stroke-width="1.0"/>
<text x="407.21" y="1022.00" transform="rotate(-90 407.21 1022.00)" font-size="13.5" font-weight="bold" text-anchor="end" fill="#111" textLength="13.60" lengthAdjust="spacingAndGlyphs">38</text>
<line x1="411.75" y1="1010.00" x2="411.75" y2="1013.80" stroke="#444" stroke-width="1.0"/>
<line x1="420.30" y1="1010.00" x2="420.30" y2="1013.80" stroke="#444" stroke-width="1.0"/>
<text x="424.30" y="1022.00" transform="rotate(-90 424.30 1022.00)" font-size="13.5" font-weight="bold" text-anchor="end" fill="#111" textLength="13.60" lengthAdjust="spacingAndGlyphs">40</text>
<text x="191.50" y="1054.00" font-size="13.7" font-weight="bold" text-anchor="start" fill="#111" textLength="114.50" lengthAdjust="spacingAndGlyphs">Number of cycles</text>
<text x="17.20" y="949.30" transform="rotate(-90 17.20 949.30)" font-size="14.5" font-weight="bold" text-anchor="start" fill="#111" textLength="161.70" lengthAdjust="spacingAndGlyphs">Fluorescent signal (ΔRn)</text>
<polyline points="87.0,963.0 95.6,963.0 104.1,963.0 112.7,963.0 121.2,963.0 129.8,963.0 138.3,963.0 146.9,963.0 155.4,963.0 163.9,963.0 172.5,963.0 181.0,963.0 189.6,963.0 198.1,963.0 206.7,963.0 215.2,963.0 223.8,963.0 232.3,963.0 240.9,963.0 249.4,963.0 257.9,963.0 266.5,963.0 275.0,963.0 283.6,963.0 292.1,963.0 300.7,963.0 309.2,963.0 317.8,963.0 326.3,963.0 334.9,963.0 343.4,963.0 351.9,963.0 360.5,963.0 369.0,963.0 377.6,963.0 386.1,963.0 394.7,963.0 403.2,963.0 411.8,963.0 420.3,963.0" fill="none" stroke="#111" stroke-width="1.8" stroke-linejoin="round"/>
<path d="M84.4 963.0L87.0 960.4L89.6 963.0L87.0 965.6Z" fill="#111"/>
<path d="M93.0 963.0L95.6 960.4L98.2 963.0L95.6 965.6Z" fill="#111"/>
<path d="M101.5 963.0L104.1 960.4L106.7 963.0L104.1 965.6Z" fill="#111"/>
<path d="M110.1 963.0L112.7 960.4L115.3 963.0L112.7 965.6Z" fill="#111"/>
<path d="M118.6 963.0L121.2 960.4L123.8 963.0L121.2 965.6Z" fill="#111"/>
<path d="M127.2 963.0L129.8 960.4L132.4 963.0L129.8 965.6Z" fill="#111"/>
<path d="M135.7 963.0L138.3 960.4L140.9 963.0L138.3 965.6Z" fill="#111"/>
<path d="M144.3 963.0L146.9 960.4L149.5 963.0L146.9 965.6Z" fill="#111"/>
<path d="M152.8 963.0L155.4 960.4L158.0 963.0L155.4 965.6Z" fill="#111"/>
<path d="M161.3 963.0L163.9 960.4L166.5 963.0L163.9 965.6Z" fill="#111"/>
<path d="M169.9 963.0L172.5 960.4L175.1 963.0L172.5 965.6Z" fill="#111"/>
<path d="M178.4 963.0L181.0 960.4L183.6 963.0L181.0 965.6Z" fill="#111"/>
<path d="M187.0 963.0L189.6 960.4L192.2 963.0L189.6 965.6Z" fill="#111"/>
<path d="M195.5 963.0L198.1 960.4L200.7 963.0L198.1 965.6Z" fill="#111"/>
<path d="M204.1 963.0L206.7 960.4L209.3 963.0L206.7 965.6Z" fill="#111"/>
<path d="M212.6 963.0L215.2 960.4L217.8 963.0L215.2 965.6Z" fill="#111"/>
<path d="M221.2 963.0L223.8 960.4L226.4 963.0L223.8 965.6Z" fill="#111"/>
<path d="M229.7 963.0L232.3 960.4L234.9 963.0L232.3 965.6Z" fill="#111"/>
<path d="M238.3 963.0L240.9 960.4L243.5 963.0L240.9 965.6Z" fill="#111"/>
<path d="M246.8 963.0L249.4 960.4L252.0 963.0L249.4 965.6Z" fill="#111"/>
<path d="M255.3 963.0L257.9 960.4L260.5 963.0L257.9 965.6Z" fill="#111"/>
<path d="M263.9 963.0L266.5 960.4L269.1 963.0L266.5 965.6Z" fill="#111"/>
<path d="M272.4 963.0L275.0 960.4L277.6 963.0L275.0 965.6Z" fill="#111"/>
<path d="M281.0 963.0L283.6 960.4L286.2 963.0L283.6 965.6Z" fill="#111"/>
<path d="M289.5 963.0L292.1 960.4L294.7 963.0L292.1 965.6Z" fill="#111"/>
<path d="M298.1 963.0L300.7 960.4L303.3 963.0L300.7 965.6Z" fill="#111"/>
<path d="M306.6 963.0L309.2 960.4L311.8 963.0L309.2 965.6Z" fill="#111"/>
<path d="M315.2 963.0L317.8 960.4L320.4 963.0L317.8 965.6Z" fill="#111"/>
<path d="M323.7 963.0L326.3 960.4L328.9 963.0L326.3 965.6Z" fill="#111"/>
<path d="M332.2 963.0L334.9 960.4L337.5 963.0L334.9 965.6Z" fill="#111"/>
<path d="M340.8 963.0L343.4 960.4L346.0 963.0L343.4 965.6Z" fill="#111"/>
<path d="M349.3 963.0L351.9 960.4L354.5 963.0L351.9 965.6Z" fill="#111"/>
<path d="M357.9 963.0L360.5 960.4L363.1 963.0L360.5 965.6Z" fill="#111"/>
<path d="M366.4 963.0L369.0 960.4L371.6 963.0L369.0 965.6Z" fill="#111"/>
<path d="M375.0 963.0L377.6 960.4L380.2 963.0L377.6 965.6Z" fill="#111"/>
<path d="M383.5 963.0L386.1 960.4L388.7 963.0L386.1 965.6Z" fill="#111"/>
<path d="M392.1 963.0L394.7 960.4L397.3 963.0L394.7 965.6Z" fill="#111"/>
<path d="M400.6 963.0L403.2 960.4L405.8 963.0L403.2 965.6Z" fill="#111"/>
<path d="M409.2 963.0L411.8 960.4L414.4 963.0L411.8 965.6Z" fill="#111"/>
<path d="M417.7 963.0L420.3 960.4L422.9 963.0L420.3 965.6Z" fill="#111"/>
<polyline points="87.0,963.0 95.6,963.0 104.1,963.0 112.7,963.0 121.2,963.0 129.8,963.0 138.3,963.0 146.9,963.0 155.4,963.0 163.9,963.0 172.5,963.0 181.0,963.0 189.6,963.0 198.1,963.0 206.7,963.0 215.2,963.0 223.8,963.0 232.3,963.0 240.9,963.0 249.4,963.0 257.9,963.0 266.5,963.0 275.0,963.0 283.6,963.0 292.1,962.1 300.7,959.2 309.2,954.5 317.8,946.1 326.3,932.9 334.9,914.1 343.4,890.6 351.9,867.1 360.5,846.4 369.0,826.2 377.6,811.7 386.1,799.4 394.7,791.0 403.2,785.3 411.8,777.8 420.3,776.9" fill="none" stroke="#111" stroke-width="1.8" stroke-linejoin="round"/>
<rect x="84.2" y="960.2" width="5.6" height="5.6" fill="#111"/>
<rect x="92.8" y="960.2" width="5.6" height="5.6" fill="#111"/>
<rect x="101.3" y="960.2" width="5.6" height="5.6" fill="#111"/>
<rect x="109.9" y="960.2" width="5.6" height="5.6" fill="#111"/>
<rect x="118.4" y="960.2" width="5.6" height="5.6" fill="#111"/>
<rect x="127.0" y="960.2" width="5.6" height="5.6" fill="#111"/>
<rect x="135.5" y="960.2" width="5.6" height="5.6" fill="#111"/>
<rect x="144.1" y="960.2" width="5.6" height="5.6" fill="#111"/>
<rect x="152.6" y="960.2" width="5.6" height="5.6" fill="#111"/>
<rect x="161.1" y="960.2" width="5.6" height="5.6" fill="#111"/>
<rect x="169.7" y="960.2" width="5.6" height="5.6" fill="#111"/>
<rect x="178.2" y="960.2" width="5.6" height="5.6" fill="#111"/>
<rect x="186.8" y="960.2" width="5.6" height="5.6" fill="#111"/>
<rect x="195.3" y="960.2" width="5.6" height="5.6" fill="#111"/>
<rect x="203.9" y="960.2" width="5.6" height="5.6" fill="#111"/>
<rect x="212.4" y="960.2" width="5.6" height="5.6" fill="#111"/>
<rect x="221.0" y="960.2" width="5.6" height="5.6" fill="#111"/>
<rect x="229.5" y="960.2" width="5.6" height="5.6" fill="#111"/>
<rect x="238.1" y="960.2" width="5.6" height="5.6" fill="#111"/>
<rect x="246.6" y="960.2" width="5.6" height="5.6" fill="#111"/>
<rect x="255.1" y="960.2" width="5.6" height="5.6" fill="#111"/>
<rect x="263.7" y="960.2" width="5.6" height="5.6" fill="#111"/>
<rect x="272.2" y="960.2" width="5.6" height="5.6" fill="#111"/>
<rect x="280.8" y="960.2" width="5.6" height="5.6" fill="#111"/>
<rect x="289.3" y="959.3" width="5.6" height="5.6" fill="#111"/>
<rect x="297.9" y="956.4" width="5.6" height="5.6" fill="#111"/>
<rect x="306.4" y="951.7" width="5.6" height="5.6" fill="#111"/>
<rect x="315.0" y="943.3" width="5.6" height="5.6" fill="#111"/>
<rect x="323.5" y="930.1" width="5.6" height="5.6" fill="#111"/>
<rect x="332.1" y="911.3" width="5.6" height="5.6" fill="#111"/>
<rect x="340.6" y="887.8" width="5.6" height="5.6" fill="#111"/>
<rect x="349.1" y="864.3" width="5.6" height="5.6" fill="#111"/>
<rect x="357.7" y="843.6" width="5.6" height="5.6" fill="#111"/>
<rect x="366.2" y="823.4" width="5.6" height="5.6" fill="#111"/>
<rect x="374.8" y="808.9" width="5.6" height="5.6" fill="#111"/>
<rect x="383.3" y="796.6" width="5.6" height="5.6" fill="#111"/>
<rect x="391.9" y="788.2" width="5.6" height="5.6" fill="#111"/>
<rect x="400.4" y="782.5" width="5.6" height="5.6" fill="#111"/>
<rect x="409.0" y="775.0" width="5.6" height="5.6" fill="#111"/>
<rect x="417.5" y="774.1" width="5.6" height="5.6" fill="#111"/>
<polyline points="87.0,963.0 95.6,963.0 104.1,963.0 112.7,963.0 121.2,963.0 129.8,963.0 138.3,963.0 146.9,963.0 155.4,963.0 163.9,963.0 172.5,963.0 181.0,963.0 189.6,963.0 198.1,963.0 206.7,963.0 215.2,963.0 223.8,963.0 232.3,963.0 240.9,963.0 249.4,963.0 257.9,963.0 266.5,963.0 275.0,963.0 283.6,963.0 292.1,963.0 300.7,963.0 309.2,962.1 317.8,960.2 326.3,956.4 334.9,947.5 343.4,932.5 351.9,916.0 360.5,897.2 369.0,877.5 377.6,856.2 386.1,841.3 394.7,827.0 403.2,813.7 411.8,805.1 420.3,797.0" fill="none" stroke="#111" stroke-width="1.8" stroke-linejoin="round"/>
<path d="M83.9 965.5L87.0 959.9L90.1 965.5Z" fill="#111"/>
<path d="M92.5 965.5L95.6 959.9L98.7 965.5Z" fill="#111"/>
<path d="M101.0 965.5L104.1 959.9L107.2 965.5Z" fill="#111"/>
<path d="M109.6 965.5L112.7 959.9L115.8 965.5Z" fill="#111"/>
<path d="M118.1 965.5L121.2 959.9L124.3 965.5Z" fill="#111"/>
<path d="M126.7 965.5L129.8 959.9L132.9 965.5Z" fill="#111"/>
<path d="M135.2 965.5L138.3 959.9L141.4 965.5Z" fill="#111"/>
<path d="M143.8 965.5L146.9 959.9L150.0 965.5Z" fill="#111"/>
<path d="M152.3 965.5L155.4 959.9L158.5 965.5Z" fill="#111"/>
<path d="M160.8 965.5L163.9 959.9L167.0 965.5Z" fill="#111"/>
<path d="M169.4 965.5L172.5 959.9L175.6 965.5Z" fill="#111"/>
<path d="M177.9 965.5L181.0 959.9L184.1 965.5Z" fill="#111"/>
<path d="M186.5 965.5L189.6 959.9L192.7 965.5Z" fill="#111"/>
<path d="M195.0 965.5L198.1 959.9L201.2 965.5Z" fill="#111"/>
<path d="M203.6 965.5L206.7 959.9L209.8 965.5Z" fill="#111"/>
<path d="M212.1 965.5L215.2 959.9L218.3 965.5Z" fill="#111"/>
<path d="M220.7 965.5L223.8 959.9L226.9 965.5Z" fill="#111"/>
<path d="M229.2 965.5L232.3 959.9L235.4 965.5Z" fill="#111"/>
<path d="M237.8 965.5L240.9 959.9L244.0 965.5Z" fill="#111"/>
<path d="M246.3 965.5L249.4 959.9L252.5 965.5Z" fill="#111"/>
<path d="M254.8 965.5L257.9 959.9L261.0 965.5Z" fill="#111"/>
<path d="M263.4 965.5L266.5 959.9L269.6 965.5Z" fill="#111"/>
<path d="M271.9 965.5L275.0 959.9L278.1 965.5Z" fill="#111"/>
<path d="M280.5 965.5L283.6 959.9L286.7 965.5Z" fill="#111"/>
<path d="M289.0 965.5L292.1 959.9L295.2 965.5Z" fill="#111"/>
<path d="M297.6 965.5L300.7 959.9L303.8 965.5Z" fill="#111"/>
<path d="M306.1 964.5L309.2 959.0L312.3 964.5Z" fill="#111"/>
<path d="M314.7 962.7L317.8 957.1L320.9 962.7Z" fill="#111"/>
<path d="M323.2 958.9L326.3 953.3L329.4 958.9Z" fill="#111"/>
<path d="M331.8 950.0L334.9 944.4L338.0 950.0Z" fill="#111"/>
<path d="M340.3 935.0L343.4 929.4L346.5 935.0Z" fill="#111"/>
<path d="M348.8 918.5L351.9 912.9L355.0 918.5Z" fill="#111"/>
<path d="M357.4 899.7L360.5 894.1L363.6 899.7Z" fill="#111"/>
<path d="M365.9 879.9L369.0 874.4L372.1 879.9Z" fill="#111"/>
<path d="M374.5 858.7L377.6 853.1L380.7 858.7Z" fill="#111"/>
<path d="M383.0 843.8L386.1 838.2L389.2 843.8Z" fill="#111"/>
<path d="M391.6 829.5L394.7 823.9L397.8 829.5Z" fill="#111"/>
<path d="M400.1 816.2L403.2 810.6L406.3 816.2Z" fill="#111"/>
<path d="M408.7 807.6L411.8 802.0L414.9 807.6Z" fill="#111"/>
<path d="M417.2 799.5L420.3 793.9L423.4 799.5Z" fill="#111"/>
<polyline points="87.0,963.0 95.6,963.0 104.1,963.0 112.7,963.0 121.2,963.0 129.8,963.0 138.3,963.0 146.9,963.0 155.4,963.0 163.9,963.0 172.5,963.0 181.0,963.0 189.6,963.0 198.1,963.0 206.7,963.0 215.2,963.0 223.8,963.0 232.3,963.0 240.9,963.0 249.4,963.0 257.9,963.0 266.5,963.0 275.0,963.0 283.6,963.0 292.1,963.0 300.7,963.0 309.2,963.0 317.8,962.5 326.3,961.1 334.9,956.4 343.4,948.9 351.9,939.5 360.5,925.4 369.0,907.0 377.6,888.7 386.1,870.5 394.7,855.0 403.2,839.5 411.8,826.2 420.3,815.0" fill="none" stroke="#111" stroke-width="1.8" stroke-linejoin="round"/>
<circle cx="87.0" cy="963.0" r="2.9" fill="#111"/>
<circle cx="95.6" cy="963.0" r="2.9" fill="#111"/>
<circle cx="104.1" cy="963.0" r="2.9" fill="#111"/>
<circle cx="112.7" cy="963.0" r="2.9" fill="#111"/>
<circle cx="121.2" cy="963.0" r="2.9" fill="#111"/>
<circle cx="129.8" cy="963.0" r="2.9" fill="#111"/>
<circle cx="138.3" cy="963.0" r="2.9" fill="#111"/>
<circle cx="146.9" cy="963.0" r="2.9" fill="#111"/>
<circle cx="155.4" cy="963.0" r="2.9" fill="#111"/>
<circle cx="163.9" cy="963.0" r="2.9" fill="#111"/>
<circle cx="172.5" cy="963.0" r="2.9" fill="#111"/>
<circle cx="181.0" cy="963.0" r="2.9" fill="#111"/>
<circle cx="189.6" cy="963.0" r="2.9" fill="#111"/>
<circle cx="198.1" cy="963.0" r="2.9" fill="#111"/>
<circle cx="206.7" cy="963.0" r="2.9" fill="#111"/>
<circle cx="215.2" cy="963.0" r="2.9" fill="#111"/>
<circle cx="223.8" cy="963.0" r="2.9" fill="#111"/>
<circle cx="232.3" cy="963.0" r="2.9" fill="#111"/>
<circle cx="240.9" cy="963.0" r="2.9" fill="#111"/>
<circle cx="249.4" cy="963.0" r="2.9" fill="#111"/>
<circle cx="257.9" cy="963.0" r="2.9" fill="#111"/>
<circle cx="266.5" cy="963.0" r="2.9" fill="#111"/>
<circle cx="275.0" cy="963.0" r="2.9" fill="#111"/>
<circle cx="283.6" cy="963.0" r="2.9" fill="#111"/>
<circle cx="292.1" cy="963.0" r="2.9" fill="#111"/>
<circle cx="300.7" cy="963.0" r="2.9" fill="#111"/>
<circle cx="309.2" cy="963.0" r="2.9" fill="#111"/>
<circle cx="317.8" cy="962.5" r="2.9" fill="#111"/>
<circle cx="326.3" cy="961.1" r="2.9" fill="#111"/>
<circle cx="334.9" cy="956.4" r="2.9" fill="#111"/>
<circle cx="343.4" cy="948.9" r="2.9" fill="#111"/>
<circle cx="351.9" cy="939.5" r="2.9" fill="#111"/>
<circle cx="360.5" cy="925.4" r="2.9" fill="#111"/>
<circle cx="369.0" cy="907.0" r="2.9" fill="#111"/>
<circle cx="377.6" cy="888.7" r="2.9" fill="#111"/>
<circle cx="386.1" cy="870.5" r="2.9" fill="#111"/>
<circle cx="394.7" cy="855.0" r="2.9" fill="#111"/>
<circle cx="403.2" cy="839.5" r="2.9" fill="#111"/>
<circle cx="411.8" cy="826.2" r="2.9" fill="#111"/>
<circle cx="420.3" cy="815.0" r="2.9" fill="#111"/>
<polyline points="87.0,963.0 95.6,963.0 104.1,963.0 112.7,963.0 121.2,963.0 129.8,963.0 138.3,963.0 146.9,963.0 155.4,963.0 163.9,963.0 172.5,963.0 181.0,963.0 189.6,963.0 198.1,963.0 206.7,963.0 215.2,963.0 223.8,963.0 232.3,963.0 240.9,963.0 249.4,963.0 257.9,963.0 266.5,963.0 275.0,963.0 283.6,963.0 292.1,963.0 300.7,962.1 309.2,959.2 317.8,953.6 326.3,942.3 334.9,927.5 343.4,907.5 351.9,887.8 360.5,866.2 369.0,846.4 377.6,827.0 386.1,811.7 394.7,797.6 403.2,785.3 411.8,777.8 420.3,776.9" fill="none" stroke="#111" stroke-width="1.8" stroke-linejoin="round"/>
<path d="M82.3 957.8L91.7 968.2M82.3 968.2L91.7 957.8M87.0 957.8L87.0 968.2" stroke="#111" stroke-width="1.9" fill="none"/>
<path d="M90.9 957.8L100.3 968.2M90.9 968.2L100.3 957.8M95.6 957.8L95.6 968.2" stroke="#111" stroke-width="1.9" fill="none"/>
<path d="M99.4 957.8L108.8 968.2M99.4 968.2L108.8 957.8M104.1 957.8L104.1 968.2" stroke="#111" stroke-width="1.9" fill="none"/>
<path d="M108.0 957.8L117.4 968.2M108.0 968.2L117.4 957.8M112.7 957.8L112.7 968.2" stroke="#111" stroke-width="1.9" fill="none"/>
<path d="M116.5 957.8L125.9 968.2M116.5 968.2L125.9 957.8M121.2 957.8L121.2 968.2" stroke="#111" stroke-width="1.9" fill="none"/>
<path d="M125.1 957.8L134.5 968.2M125.1 968.2L134.5 957.8M129.8 957.8L129.8 968.2" stroke="#111" stroke-width="1.9" fill="none"/>
<path d="M133.6 957.8L143.0 968.2M133.6 968.2L143.0 957.8M138.3 957.8L138.3 968.2" stroke="#111" stroke-width="1.9" fill="none"/>
<path d="M142.2 957.8L151.6 968.2M142.2 968.2L151.6 957.8M146.9 957.8L146.9 968.2" stroke="#111" stroke-width="1.9" fill="none"/>
<path d="M150.7 957.8L160.1 968.2M150.7 968.2L160.1 957.8M155.4 957.8L155.4 968.2" stroke="#111" stroke-width="1.9" fill="none"/>
<path d="M159.2 957.8L168.6 968.2M159.2 968.2L168.6 957.8M163.9 957.8L163.9 968.2" stroke="#111" stroke-width="1.9" fill="none"/>
<path d="M167.8 957.8L177.2 968.2M167.8 968.2L177.2 957.8M172.5 957.8L172.5 968.2" stroke="#111" stroke-width="1.9" fill="none"/>
<path d="M176.3 957.8L185.7 968.2M176.3 968.2L185.7 957.8M181.0 957.8L181.0 968.2" stroke="#111" stroke-width="1.9" fill="none"/>
<path d="M184.9 957.8L194.3 968.2M184.9 968.2L194.3 957.8M189.6 957.8L189.6 968.2" stroke="#111" stroke-width="1.9" fill="none"/>
<path d="M193.4 957.8L202.8 968.2M193.4 968.2L202.8 957.8M198.1 957.8L198.1 968.2" stroke="#111" stroke-width="1.9" fill="none"/>
<path d="M202.0 957.8L211.4 968.2M202.0 968.2L211.4 957.8M206.7 957.8L206.7 968.2" stroke="#111" stroke-width="1.9" fill="none"/>
<path d="M210.5 957.8L219.9 968.2M210.5 968.2L219.9 957.8M215.2 957.8L215.2 968.2" stroke="#111" stroke-width="1.9" fill="none"/>
<path d="M219.1 957.8L228.5 968.2M219.1 968.2L228.5 957.8M223.8 957.8L223.8 968.2" stroke="#111" stroke-width="1.9" fill="none"/>
<path d="M227.6 957.8L237.0 968.2M227.6 968.2L237.0 957.8M232.3 957.8L232.3 968.2" stroke="#111" stroke-width="1.9" fill="none"/>
<path d="M236.2 957.8L245.6 968.2M236.2 968.2L245.6 957.8M240.9 957.8L240.9 968.2" stroke="#111" stroke-width="1.9" fill="none"/>
<path d="M244.7 957.8L254.1 968.2M244.7 968.2L254.1 957.8M249.4 957.8L249.4 968.2" stroke="#111" stroke-width="1.9" fill="none"/>
<path d="M253.2 957.8L262.6 968.2M253.2 968.2L262.6 957.8M257.9 957.8L257.9 968.2" stroke="#111" stroke-width="1.9" fill="none"/>
<path d="M261.8 957.8L271.2 968.2M261.8 968.2L271.2 957.8M266.5 957.8L266.5 968.2" stroke="#111" stroke-width="1.9" fill="none"/>
<path d="M270.3 957.8L279.7 968.2M270.3 968.2L279.7 957.8M275.0 957.8L275.0 968.2" stroke="#111" stroke-width="1.9" fill="none"/>
<path d="M278.9 957.8L288.3 968.2M278.9 968.2L288.3 957.8M283.6 957.8L283.6 968.2" stroke="#111" stroke-width="1.9" fill="none"/>
<path d="M287.4 957.8L296.8 968.2M287.4 968.2L296.8 957.8M292.1 957.8L292.1 968.2" stroke="#111" stroke-width="1.9" fill="none"/>
<path d="M296.0 956.9L305.4 967.3M296.0 967.3L305.4 956.9M300.7 956.9L300.7 967.3" stroke="#111" stroke-width="1.9" fill="none"/>
<path d="M304.5 954.0L313.9 964.4M304.5 964.4L313.9 954.0M309.2 954.0L309.2 964.4" stroke="#111" stroke-width="1.9" fill="none"/>
<path d="M313.1 948.4L322.5 958.8M313.1 958.8L322.5 948.4M317.8 948.4L317.8 958.8" stroke="#111" stroke-width="1.9" fill="none"/>
<path d="M321.6 937.1L331.0 947.5M321.6 947.5L331.0 937.1M326.3 937.1L326.3 947.5" stroke="#111" stroke-width="1.9" fill="none"/>
<path d="M330.2 922.3L339.6 932.7M330.2 932.7L339.6 922.3M334.9 922.3L334.9 932.7" stroke="#111" stroke-width="1.9" fill="none"/>
<path d="M338.7 902.3L348.1 912.7M338.7 912.7L348.1 902.3M343.4 902.3L343.4 912.7" stroke="#111" stroke-width="1.9" fill="none"/>
<path d="M347.2 882.6L356.6 893.0M347.2 893.0L356.6 882.6M351.9 882.6L351.9 893.0" stroke="#111" stroke-width="1.9" fill="none"/>
<path d="M355.8 861.0L365.2 871.4M355.8 871.4L365.2 861.0M360.5 861.0L360.5 871.4" stroke="#111" stroke-width="1.9" fill="none"/>
<path d="M364.3 841.2L373.7 851.6M364.3 851.6L373.7 841.2M369.0 841.2L369.0 851.6" stroke="#111" stroke-width="1.9" fill="none"/>
<path d="M372.9 821.8L382.3 832.2M372.9 832.2L382.3 821.8M377.6 821.8L377.6 832.2" stroke="#111" stroke-width="1.9" fill="none"/>
<path d="M381.4 806.5L390.8 816.9M381.4 816.9L390.8 806.5M386.1 806.5L386.1 816.9" stroke="#111" stroke-width="1.9" fill="none"/>
<path d="M390.0 792.4L399.4 802.8M390.0 802.8L399.4 792.4M394.7 792.4L394.7 802.8" stroke="#111" stroke-width="1.9" fill="none"/>
<path d="M398.5 780.1L407.9 790.5M398.5 790.5L407.9 780.1M403.2 780.1L403.2 790.5" stroke="#111" stroke-width="1.9" fill="none"/>
<path d="M407.1 772.6L416.5 783.0M407.1 783.0L416.5 772.6M411.8 772.6L411.8 783.0" stroke="#111" stroke-width="1.9" fill="none"/>
<path d="M415.6 771.7L425.0 782.1M415.6 782.1L425.0 771.7M420.3 771.7L420.3 782.1" stroke="#111" stroke-width="1.9" fill="none"/>
<line x1="124.20" y1="748.60" x2="153.70" y2="748.60" stroke="#111" stroke-width="1.5"/>
<path d="M136.8 748.6L139.4 746.0L142.0 748.6L139.4 751.2Z" fill="#111"/>
<text x="157.90" y="753.30" font-size="13.6" font-weight="normal" text-anchor="start" fill="#111" textLength="16.90" lengthAdjust="spacingAndGlyphs">NT</text>
<line x1="124.20" y1="781.20" x2="153.70" y2="781.20" stroke="#111" stroke-width="1.5"/>
<rect x="136.6" y="778.4" width="5.6" height="5.6" fill="#111"/>
<text x="157.90" y="785.50" font-size="13.6" font-weight="normal" text-anchor="start" fill="#111" textLength="153.00" lengthAdjust="spacingAndGlyphs">CB primary mouse Ct: 25</text>
<line x1="124.20" y1="814.20" x2="153.70" y2="814.20" stroke="#111" stroke-width="1.5"/>
<path d="M136.3 816.7L139.4 811.1L142.5 816.7Z" fill="#111"/>
<text x="157.90" y="818.80" font-size="13.6" font-weight="normal" text-anchor="start" fill="#111" textLength="170.70" lengthAdjust="spacingAndGlyphs">CB secondary mouse Ct: 27</text>
<line x1="124.20" y1="846.90" x2="153.70" y2="846.90" stroke="#111" stroke-width="1.5"/>
<circle cx="139.4" cy="846.9" r="2.9" fill="#111"/>
<text x="157.90" y="851.50" font-size="13.6" font-weight="normal" text-anchor="start" fill="#111" textLength="170.30" lengthAdjust="spacingAndGlyphs">CB tertiary mouse Ct: 28.22</text>
<line x1="124.20" y1="880.00" x2="153.70" y2="880.00" stroke="#111" stroke-width="1.5"/>
<path d="M134.7 874.8L144.1 885.2M134.7 885.2L144.1 874.8M139.4 874.8L139.4 885.2" stroke="#111" stroke-width="1.9" fill="none"/>
<text x="157.90" y="884.60" font-size="13.6" font-weight="normal" text-anchor="start" fill="#111" textLength="106.60" lengthAdjust="spacingAndGlyphs">HeLa C3 Ct: 25.5</text>
</g>
</svg>
</body></html>
